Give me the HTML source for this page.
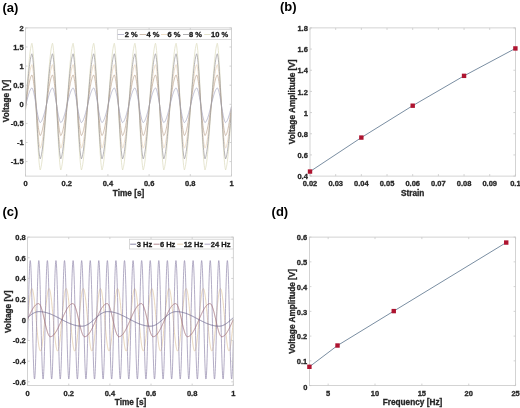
<!DOCTYPE html>
<html><head><meta charset="utf-8"><style>
html,body{margin:0;padding:0;background:#fff;}
body{width:520px;height:408px;overflow:hidden;}
svg{display:block;will-change:transform;}
text{font-family:"Liberation Sans",sans-serif;font-weight:bold;stroke:currentColor;stroke-width:0.3px;}
</style></head><body>
<svg width="520" height="408" viewBox="0 0 520 408">
<rect width="520" height="408" fill="#fff"/>
<path d="M25.5 110.34 L25.76 106.48 L26.02 102.61 L26.27 98.76 L26.53 94.94 L26.79 91.17 L27.05 87.45 L27.3 83.8 L27.56 80.23 L27.82 76.77 L28.07 73.41 L28.33 70.18 L28.59 67.08 L28.85 64.13 L29.11 61.33 L29.36 58.7 L29.62 56.24 L29.88 53.97 L30.13 51.89 L30.39 50 L30.65 48.32 L30.91 46.85 L31.16 45.59 L31.42 44.54 L31.68 43.71 L31.94 43.3 L32.2 44.4 L32.45 45.97 L32.71 48.02 L32.97 50.53 L33.23 53.48 L33.48 56.85 L33.74 60.62 L34 64.76 L34.26 69.23 L34.51 74.01 L34.77 79.05 L35.03 84.32 L35.28 89.77 L35.54 95.36 L35.8 101.03 L36.06 106.76 L36.31 112.48 L36.57 118.16 L36.83 123.74 L37.09 129.18 L37.34 134.43 L37.6 139.46 L37.86 144.22 L38.12 148.68 L38.38 152.8 L38.63 156.54 L38.89 159.89 L39.15 162.82 L39.41 165.3 L39.66 167.32 L39.92 168.86 L40.18 169.93 L40.44 169.43 L40.69 168.59 L40.95 167.53 L41.21 166.26 L41.47 164.77 L41.72 163.08 L41.98 161.18 L42.24 159.09 L42.5 156.8 L42.75 154.34 L43.01 151.69 L43.27 148.89 L43.52 145.93 L43.78 142.82 L44.04 139.58 L44.3 136.22 L44.55 132.75 L44.81 129.18 L45.07 125.52 L45.33 121.8 L45.59 118.02 L45.84 114.2 L46.1 110.34 L46.36 106.48 L46.61 102.61 L46.87 98.76 L47.13 94.94 L47.39 91.17 L47.64 87.45 L47.9 83.8 L48.16 80.23 L48.42 76.77 L48.67 73.41 L48.93 70.18 L49.19 67.08 L49.45 64.13 L49.7 61.33 L49.96 58.7 L50.22 56.24 L50.48 53.97 L50.73 51.89 L50.99 50 L51.25 48.32 L51.51 46.85 L51.77 45.59 L52.02 44.54 L52.28 43.71 L52.54 43.3 L52.8 44.4 L53.05 45.97 L53.31 48.02 L53.57 50.53 L53.83 53.48 L54.08 56.85 L54.34 60.62 L54.6 64.76 L54.85 69.23 L55.11 74.01 L55.37 79.05 L55.63 84.32 L55.88 89.77 L56.14 95.36 L56.4 101.03 L56.66 106.76 L56.91 112.48 L57.17 118.16 L57.43 123.74 L57.69 129.18 L57.95 134.43 L58.2 139.46 L58.46 144.22 L58.72 148.68 L58.98 152.8 L59.23 156.54 L59.49 159.89 L59.75 162.82 L60.01 165.3 L60.26 167.32 L60.52 168.86 L60.78 169.93 L61.03 169.43 L61.29 168.59 L61.55 167.53 L61.81 166.26 L62.06 164.77 L62.32 163.08 L62.58 161.18 L62.84 159.09 L63.09 156.8 L63.35 154.34 L63.61 151.69 L63.87 148.89 L64.12 145.93 L64.38 142.82 L64.64 139.58 L64.9 136.22 L65.16 132.75 L65.41 129.18 L65.67 125.52 L65.93 121.8 L66.19 118.02 L66.44 114.2 L66.7 110.34 L66.96 106.48 L67.22 102.61 L67.47 98.76 L67.73 94.94 L67.99 91.17 L68.25 87.45 L68.5 83.8 L68.76 80.23 L69.02 76.77 L69.28 73.41 L69.53 70.18 L69.79 67.08 L70.05 64.13 L70.31 61.33 L70.56 58.7 L70.82 56.24 L71.08 53.97 L71.34 51.89 L71.59 50 L71.85 48.32 L72.11 46.85 L72.37 45.59 L72.62 44.54 L72.88 43.71 L73.14 43.3 L73.4 44.4 L73.65 45.97 L73.91 48.02 L74.17 50.53 L74.42 53.48 L74.68 56.85 L74.94 60.62 L75.2 64.76 L75.45 69.23 L75.71 74.01 L75.97 79.05 L76.23 84.32 L76.48 89.77 L76.74 95.36 L77 101.03 L77.26 106.76 L77.52 112.48 L77.77 118.16 L78.03 123.74 L78.29 129.18 L78.55 134.43 L78.8 139.46 L79.06 144.22 L79.32 148.68 L79.58 152.8 L79.83 156.54 L80.09 159.89 L80.35 162.82 L80.61 165.3 L80.86 167.32 L81.12 168.86 L81.38 169.93 L81.64 169.43 L81.89 168.59 L82.15 167.53 L82.41 166.26 L82.67 164.77 L82.92 163.08 L83.18 161.18 L83.44 159.09 L83.69 156.8 L83.95 154.34 L84.21 151.69 L84.47 148.89 L84.72 145.93 L84.98 142.82 L85.24 139.58 L85.5 136.22 L85.75 132.75 L86.01 129.18 L86.27 125.52 L86.53 121.8 L86.78 118.02 L87.04 114.2 L87.3 110.34 L87.56 106.48 L87.81 102.61 L88.07 98.76 L88.33 94.94 L88.59 91.17 L88.84 87.45 L89.1 83.8 L89.36 80.23 L89.62 76.77 L89.88 73.41 L90.13 70.18 L90.39 67.08 L90.65 64.13 L90.91 61.33 L91.16 58.7 L91.42 56.24 L91.68 53.97 L91.94 51.89 L92.19 50 L92.45 48.32 L92.71 46.85 L92.97 45.59 L93.22 44.54 L93.48 43.71 L93.74 43.3 L94 44.4 L94.25 45.97 L94.51 48.02 L94.77 50.53 L95.03 53.48 L95.28 56.85 L95.54 60.62 L95.8 64.76 L96.06 69.23 L96.31 74.01 L96.57 79.05 L96.83 84.32 L97.08 89.77 L97.34 95.36 L97.6 101.03 L97.86 106.76 L98.11 112.48 L98.37 118.16 L98.63 123.74 L98.89 129.18 L99.14 134.43 L99.4 139.46 L99.66 144.22 L99.92 148.68 L100.17 152.8 L100.43 156.54 L100.69 159.89 L100.95 162.82 L101.2 165.3 L101.46 167.32 L101.72 168.86 L101.98 169.93 L102.23 169.43 L102.49 168.59 L102.75 167.53 L103.01 166.26 L103.27 164.77 L103.52 163.08 L103.78 161.18 L104.04 159.09 L104.3 156.8 L104.55 154.34 L104.81 151.69 L105.07 148.89 L105.33 145.93 L105.58 142.82 L105.84 139.58 L106.1 136.22 L106.36 132.75 L106.61 129.18 L106.87 125.52 L107.13 121.8 L107.39 118.02 L107.64 114.2 L107.9 110.34 L108.16 106.48 L108.42 102.61 L108.67 98.76 L108.93 94.94 L109.19 91.17 L109.44 87.45 L109.7 83.8 L109.96 80.23 L110.22 76.77 L110.47 73.41 L110.73 70.18 L110.99 67.08 L111.25 64.13 L111.5 61.33 L111.76 58.7 L112.02 56.24 L112.28 53.97 L112.53 51.89 L112.79 50 L113.05 48.32 L113.31 46.85 L113.56 45.59 L113.82 44.54 L114.08 43.71 L114.34 43.3 L114.59 44.4 L114.85 45.97 L115.11 48.02 L115.37 50.53 L115.62 53.48 L115.88 56.85 L116.14 60.62 L116.4 64.76 L116.66 69.23 L116.91 74.01 L117.17 79.05 L117.43 84.32 L117.69 89.77 L117.94 95.36 L118.2 101.03 L118.46 106.76 L118.72 112.48 L118.97 118.16 L119.23 123.74 L119.49 129.18 L119.75 134.43 L120 139.46 L120.26 144.22 L120.52 148.68 L120.78 152.8 L121.03 156.54 L121.29 159.89 L121.55 162.82 L121.81 165.3 L122.06 167.32 L122.32 168.86 L122.58 169.93 L122.83 169.43 L123.09 168.59 L123.35 167.53 L123.61 166.26 L123.86 164.77 L124.12 163.08 L124.38 161.18 L124.64 159.09 L124.89 156.8 L125.15 154.34 L125.41 151.69 L125.67 148.89 L125.92 145.93 L126.18 142.82 L126.44 139.58 L126.7 136.22 L126.95 132.75 L127.21 129.18 L127.47 125.52 L127.73 121.8 L127.98 118.02 L128.24 114.2 L128.5 110.34 L128.76 106.48 L129.01 102.61 L129.27 98.76 L129.53 94.94 L129.79 91.17 L130.04 87.45 L130.3 83.8 L130.56 80.23 L130.82 76.77 L131.07 73.41 L131.33 70.18 L131.59 67.08 L131.85 64.13 L132.1 61.33 L132.36 58.7 L132.62 56.24 L132.88 53.97 L133.13 51.89 L133.39 50 L133.65 48.32 L133.91 46.85 L134.16 45.59 L134.42 44.54 L134.68 43.71 L134.94 43.3 L135.19 44.4 L135.45 45.97 L135.71 48.02 L135.97 50.53 L136.22 53.48 L136.48 56.85 L136.74 60.62 L137 64.76 L137.25 69.23 L137.51 74.01 L137.77 79.05 L138.03 84.32 L138.28 89.77 L138.54 95.36 L138.8 101.03 L139.06 106.76 L139.31 112.48 L139.57 118.16 L139.83 123.74 L140.09 129.18 L140.34 134.43 L140.6 139.46 L140.86 144.22 L141.12 148.68 L141.38 152.8 L141.63 156.54 L141.89 159.89 L142.15 162.82 L142.41 165.3 L142.66 167.32 L142.92 168.86 L143.18 169.93 L143.44 169.43 L143.69 168.59 L143.95 167.53 L144.21 166.26 L144.47 164.77 L144.72 163.08 L144.98 161.18 L145.24 159.09 L145.5 156.8 L145.75 154.34 L146.01 151.69 L146.27 148.89 L146.53 145.93 L146.78 142.82 L147.04 139.58 L147.3 136.22 L147.56 132.75 L147.81 129.18 L148.07 125.52 L148.33 121.8 L148.59 118.02 L148.84 114.2 L149.1 110.34 L149.36 106.48 L149.62 102.61 L149.87 98.76 L150.13 94.94 L150.39 91.17 L150.65 87.45 L150.9 83.8 L151.16 80.23 L151.42 76.77 L151.68 73.41 L151.93 70.18 L152.19 67.08 L152.45 64.13 L152.71 61.33 L152.96 58.7 L153.22 56.24 L153.48 53.97 L153.74 51.89 L153.99 50 L154.25 48.32 L154.51 46.85 L154.76 45.59 L155.02 44.54 L155.28 43.71 L155.54 43.3 L155.79 44.4 L156.05 45.97 L156.31 48.02 L156.57 50.53 L156.82 53.48 L157.08 56.85 L157.34 60.62 L157.6 64.76 L157.85 69.23 L158.11 74.01 L158.37 79.05 L158.63 84.32 L158.88 89.77 L159.14 95.36 L159.4 101.03 L159.66 106.76 L159.91 112.48 L160.17 118.16 L160.43 123.74 L160.69 129.18 L160.94 134.43 L161.2 139.46 L161.46 144.22 L161.72 148.68 L161.97 152.8 L162.23 156.54 L162.49 159.89 L162.75 162.82 L163 165.3 L163.26 167.32 L163.52 168.86 L163.78 169.93 L164.03 169.43 L164.29 168.59 L164.55 167.53 L164.81 166.26 L165.06 164.77 L165.32 163.08 L165.58 161.18 L165.84 159.09 L166.09 156.8 L166.35 154.34 L166.61 151.69 L166.87 148.89 L167.12 145.93 L167.38 142.82 L167.64 139.58 L167.9 136.22 L168.16 132.75 L168.41 129.18 L168.67 125.52 L168.93 121.8 L169.19 118.02 L169.44 114.2 L169.7 110.34 L169.96 106.48 L170.22 102.61 L170.47 98.76 L170.73 94.94 L170.99 91.17 L171.25 87.45 L171.5 83.8 L171.76 80.23 L172.02 76.77 L172.28 73.41 L172.53 70.18 L172.79 67.08 L173.05 64.13 L173.31 61.33 L173.56 58.7 L173.82 56.24 L174.08 53.97 L174.34 51.89 L174.59 50 L174.85 48.32 L175.11 46.85 L175.37 45.59 L175.62 44.54 L175.88 43.71 L176.14 43.3 L176.4 44.4 L176.65 45.97 L176.91 48.02 L177.17 50.53 L177.43 53.48 L177.68 56.85 L177.94 60.62 L178.2 64.76 L178.46 69.23 L178.71 74.01 L178.97 79.05 L179.23 84.32 L179.49 89.77 L179.74 95.36 L180 101.03 L180.26 106.76 L180.51 112.48 L180.77 118.16 L181.03 123.74 L181.29 129.18 L181.54 134.43 L181.8 139.46 L182.06 144.22 L182.32 148.68 L182.57 152.8 L182.83 156.54 L183.09 159.89 L183.35 162.82 L183.6 165.3 L183.86 167.32 L184.12 168.86 L184.38 169.93 L184.63 169.43 L184.89 168.59 L185.15 167.53 L185.41 166.26 L185.66 164.77 L185.92 163.08 L186.18 161.18 L186.44 159.09 L186.69 156.8 L186.95 154.34 L187.21 151.69 L187.47 148.89 L187.72 145.93 L187.98 142.82 L188.24 139.58 L188.5 136.22 L188.75 132.75 L189.01 129.18 L189.27 125.52 L189.53 121.8 L189.78 118.02 L190.04 114.2 L190.3 110.34 L190.56 106.48 L190.81 102.61 L191.07 98.76 L191.33 94.94 L191.59 91.17 L191.84 87.45 L192.1 83.8 L192.36 80.23 L192.62 76.77 L192.88 73.41 L193.13 70.18 L193.39 67.08 L193.65 64.13 L193.91 61.33 L194.16 58.7 L194.42 56.24 L194.68 53.97 L194.94 51.89 L195.19 50 L195.45 48.32 L195.71 46.85 L195.97 45.59 L196.22 44.54 L196.48 43.71 L196.74 43.3 L197 44.4 L197.25 45.97 L197.51 48.02 L197.77 50.53 L198.03 53.48 L198.28 56.85 L198.54 60.62 L198.8 64.76 L199.06 69.23 L199.31 74.01 L199.57 79.05 L199.83 84.32 L200.09 89.77 L200.34 95.36 L200.6 101.03 L200.86 106.76 L201.12 112.48 L201.37 118.16 L201.63 123.74 L201.89 129.18 L202.15 134.43 L202.4 139.46 L202.66 144.22 L202.92 148.68 L203.18 152.8 L203.43 156.54 L203.69 159.89 L203.95 162.82 L204.21 165.3 L204.46 167.32 L204.72 168.86 L204.98 169.93 L205.24 169.43 L205.49 168.59 L205.75 167.53 L206.01 166.26 L206.26 164.77 L206.52 163.08 L206.78 161.18 L207.04 159.09 L207.29 156.8 L207.55 154.34 L207.81 151.69 L208.07 148.89 L208.32 145.93 L208.58 142.82 L208.84 139.58 L209.1 136.22 L209.35 132.75 L209.61 129.18 L209.87 125.52 L210.13 121.8 L210.38 118.02 L210.64 114.2 L210.9 110.34 L211.16 106.48 L211.41 102.61 L211.67 98.76 L211.93 94.94 L212.19 91.17 L212.44 87.45 L212.7 83.8 L212.96 80.23 L213.22 76.77 L213.47 73.41 L213.73 70.18 L213.99 67.08 L214.25 64.13 L214.5 61.33 L214.76 58.7 L215.02 56.24 L215.28 53.97 L215.53 51.89 L215.79 50 L216.05 48.32 L216.31 46.85 L216.56 45.59 L216.82 44.54 L217.08 43.71 L217.34 43.3 L217.59 44.4 L217.85 45.97 L218.11 48.02 L218.37 50.53 L218.62 53.48 L218.88 56.85 L219.14 60.62 L219.4 64.76 L219.66 69.23 L219.91 74.01 L220.17 79.05 L220.43 84.32 L220.69 89.77 L220.94 95.36 L221.2 101.03 L221.46 106.76 L221.72 112.48 L221.97 118.16 L222.23 123.74 L222.49 129.18 L222.75 134.43 L223 139.46 L223.26 144.22 L223.52 148.68 L223.78 152.8 L224.03 156.54 L224.29 159.89 L224.55 162.82 L224.81 165.3 L225.06 167.32 L225.32 168.86 L225.58 169.93 L225.84 169.43 L226.09 168.59 L226.35 167.53 L226.61 166.26 L226.87 164.77 L227.12 163.08 L227.38 161.18 L227.64 159.09 L227.9 156.8 L228.15 154.34 L228.41 151.69 L228.67 148.89 L228.93 145.93 L229.18 142.82 L229.44 139.58 L229.7 136.22 L229.96 132.75 L230.21 129.18 L230.47 125.52 L230.73 121.8 L230.99 118.02 L231.24 114.2 L231.5 110.34" stroke="#dddcc0" stroke-width="0.75" fill="none" stroke-linejoin="round" opacity="1.0"/>
<path d="M25.5 108.88 L25.76 106.33 L26.02 103.78 L26.27 101.24 L26.53 98.72 L26.79 96.23 L27.05 93.77 L27.3 91.36 L27.56 89.01 L27.82 86.73 L28.07 84.51 L28.33 82.38 L28.59 80.34 L28.85 78.39 L29.11 76.54 L29.36 74.81 L29.62 73.19 L29.88 71.69 L30.13 70.32 L30.39 69.07 L30.65 67.96 L30.91 66.99 L31.16 66.16 L31.42 65.47 L31.68 64.92 L31.94 64.65 L32.2 65.38 L32.45 66.41 L32.71 67.77 L32.97 69.42 L33.23 71.36 L33.48 73.59 L33.74 76.07 L34 78.8 L34.26 81.76 L34.51 84.91 L34.77 88.24 L35.03 91.71 L35.28 95.3 L35.54 98.99 L35.8 102.74 L36.06 106.51 L36.31 110.29 L36.57 114.03 L36.83 117.71 L37.09 121.3 L37.34 124.77 L37.6 128.08 L37.86 131.22 L38.12 134.16 L38.38 136.88 L38.63 139.35 L38.89 141.56 L39.15 143.49 L39.41 145.12 L39.66 146.46 L39.92 147.48 L40.18 148.18 L40.44 147.85 L40.69 147.3 L40.95 146.6 L41.21 145.76 L41.47 144.78 L41.72 143.66 L41.98 142.41 L42.24 141.03 L42.5 139.52 L42.75 137.89 L43.01 136.15 L43.27 134.3 L43.52 132.35 L43.78 130.3 L44.04 128.16 L44.3 125.94 L44.55 123.65 L44.81 121.3 L45.07 118.89 L45.33 116.43 L45.59 113.94 L45.84 111.42 L46.1 108.88 L46.36 106.33 L46.61 103.78 L46.87 101.24 L47.13 98.72 L47.39 96.23 L47.64 93.77 L47.9 91.36 L48.16 89.01 L48.42 86.73 L48.67 84.51 L48.93 82.38 L49.19 80.34 L49.45 78.39 L49.7 76.54 L49.96 74.81 L50.22 73.19 L50.48 71.69 L50.73 70.32 L50.99 69.07 L51.25 67.96 L51.51 66.99 L51.77 66.16 L52.02 65.47 L52.28 64.92 L52.54 64.65 L52.8 65.38 L53.05 66.41 L53.31 67.77 L53.57 69.42 L53.83 71.36 L54.08 73.59 L54.34 76.07 L54.6 78.8 L54.85 81.76 L55.11 84.91 L55.37 88.24 L55.63 91.71 L55.88 95.3 L56.14 98.99 L56.4 102.74 L56.66 106.51 L56.91 110.29 L57.17 114.03 L57.43 117.71 L57.69 121.3 L57.95 124.77 L58.2 128.08 L58.46 131.22 L58.72 134.16 L58.98 136.88 L59.23 139.35 L59.49 141.56 L59.75 143.49 L60.01 145.12 L60.26 146.46 L60.52 147.48 L60.78 148.18 L61.03 147.85 L61.29 147.3 L61.55 146.6 L61.81 145.76 L62.06 144.78 L62.32 143.66 L62.58 142.41 L62.84 141.03 L63.09 139.52 L63.35 137.89 L63.61 136.15 L63.87 134.3 L64.12 132.35 L64.38 130.3 L64.64 128.16 L64.9 125.94 L65.16 123.65 L65.41 121.3 L65.67 118.89 L65.93 116.43 L66.19 113.94 L66.44 111.42 L66.7 108.88 L66.96 106.33 L67.22 103.78 L67.47 101.24 L67.73 98.72 L67.99 96.23 L68.25 93.77 L68.5 91.36 L68.76 89.01 L69.02 86.73 L69.28 84.51 L69.53 82.38 L69.79 80.34 L70.05 78.39 L70.31 76.54 L70.56 74.81 L70.82 73.19 L71.08 71.69 L71.34 70.32 L71.59 69.07 L71.85 67.96 L72.11 66.99 L72.37 66.16 L72.62 65.47 L72.88 64.92 L73.14 64.65 L73.4 65.38 L73.65 66.41 L73.91 67.77 L74.17 69.42 L74.42 71.36 L74.68 73.59 L74.94 76.07 L75.2 78.8 L75.45 81.76 L75.71 84.91 L75.97 88.24 L76.23 91.71 L76.48 95.3 L76.74 98.99 L77 102.74 L77.26 106.51 L77.52 110.29 L77.77 114.03 L78.03 117.71 L78.29 121.3 L78.55 124.77 L78.8 128.08 L79.06 131.22 L79.32 134.16 L79.58 136.88 L79.83 139.35 L80.09 141.56 L80.35 143.49 L80.61 145.12 L80.86 146.46 L81.12 147.48 L81.38 148.18 L81.64 147.85 L81.89 147.3 L82.15 146.6 L82.41 145.76 L82.67 144.78 L82.92 143.66 L83.18 142.41 L83.44 141.03 L83.69 139.52 L83.95 137.89 L84.21 136.15 L84.47 134.3 L84.72 132.35 L84.98 130.3 L85.24 128.16 L85.5 125.94 L85.75 123.65 L86.01 121.3 L86.27 118.89 L86.53 116.43 L86.78 113.94 L87.04 111.42 L87.3 108.88 L87.56 106.33 L87.81 103.78 L88.07 101.24 L88.33 98.72 L88.59 96.23 L88.84 93.77 L89.1 91.36 L89.36 89.01 L89.62 86.73 L89.88 84.51 L90.13 82.38 L90.39 80.34 L90.65 78.39 L90.91 76.54 L91.16 74.81 L91.42 73.19 L91.68 71.69 L91.94 70.32 L92.19 69.07 L92.45 67.96 L92.71 66.99 L92.97 66.16 L93.22 65.47 L93.48 64.92 L93.74 64.65 L94 65.38 L94.25 66.41 L94.51 67.77 L94.77 69.42 L95.03 71.36 L95.28 73.59 L95.54 76.07 L95.8 78.8 L96.06 81.76 L96.31 84.91 L96.57 88.24 L96.83 91.71 L97.08 95.3 L97.34 98.99 L97.6 102.74 L97.86 106.51 L98.11 110.29 L98.37 114.03 L98.63 117.71 L98.89 121.3 L99.14 124.77 L99.4 128.08 L99.66 131.22 L99.92 134.16 L100.17 136.88 L100.43 139.35 L100.69 141.56 L100.95 143.49 L101.2 145.12 L101.46 146.46 L101.72 147.48 L101.98 148.18 L102.23 147.85 L102.49 147.3 L102.75 146.6 L103.01 145.76 L103.27 144.78 L103.52 143.66 L103.78 142.41 L104.04 141.03 L104.3 139.52 L104.55 137.89 L104.81 136.15 L105.07 134.3 L105.33 132.35 L105.58 130.3 L105.84 128.16 L106.1 125.94 L106.36 123.65 L106.61 121.3 L106.87 118.89 L107.13 116.43 L107.39 113.94 L107.64 111.42 L107.9 108.88 L108.16 106.33 L108.42 103.78 L108.67 101.24 L108.93 98.72 L109.19 96.23 L109.44 93.77 L109.7 91.36 L109.96 89.01 L110.22 86.73 L110.47 84.51 L110.73 82.38 L110.99 80.34 L111.25 78.39 L111.5 76.54 L111.76 74.81 L112.02 73.19 L112.28 71.69 L112.53 70.32 L112.79 69.07 L113.05 67.96 L113.31 66.99 L113.56 66.16 L113.82 65.47 L114.08 64.92 L114.34 64.65 L114.59 65.38 L114.85 66.41 L115.11 67.77 L115.37 69.42 L115.62 71.36 L115.88 73.59 L116.14 76.07 L116.4 78.8 L116.66 81.76 L116.91 84.91 L117.17 88.24 L117.43 91.71 L117.69 95.3 L117.94 98.99 L118.2 102.74 L118.46 106.51 L118.72 110.29 L118.97 114.03 L119.23 117.71 L119.49 121.3 L119.75 124.77 L120 128.08 L120.26 131.22 L120.52 134.16 L120.78 136.88 L121.03 139.35 L121.29 141.56 L121.55 143.49 L121.81 145.12 L122.06 146.46 L122.32 147.48 L122.58 148.18 L122.83 147.85 L123.09 147.3 L123.35 146.6 L123.61 145.76 L123.86 144.78 L124.12 143.66 L124.38 142.41 L124.64 141.03 L124.89 139.52 L125.15 137.89 L125.41 136.15 L125.67 134.3 L125.92 132.35 L126.18 130.3 L126.44 128.16 L126.7 125.94 L126.95 123.65 L127.21 121.3 L127.47 118.89 L127.73 116.43 L127.98 113.94 L128.24 111.42 L128.5 108.88 L128.76 106.33 L129.01 103.78 L129.27 101.24 L129.53 98.72 L129.79 96.23 L130.04 93.77 L130.3 91.36 L130.56 89.01 L130.82 86.73 L131.07 84.51 L131.33 82.38 L131.59 80.34 L131.85 78.39 L132.1 76.54 L132.36 74.81 L132.62 73.19 L132.88 71.69 L133.13 70.32 L133.39 69.07 L133.65 67.96 L133.91 66.99 L134.16 66.16 L134.42 65.47 L134.68 64.92 L134.94 64.65 L135.19 65.38 L135.45 66.41 L135.71 67.77 L135.97 69.42 L136.22 71.36 L136.48 73.59 L136.74 76.07 L137 78.8 L137.25 81.76 L137.51 84.91 L137.77 88.24 L138.03 91.71 L138.28 95.3 L138.54 98.99 L138.8 102.74 L139.06 106.51 L139.31 110.29 L139.57 114.03 L139.83 117.71 L140.09 121.3 L140.34 124.77 L140.6 128.08 L140.86 131.22 L141.12 134.16 L141.38 136.88 L141.63 139.35 L141.89 141.56 L142.15 143.49 L142.41 145.12 L142.66 146.46 L142.92 147.48 L143.18 148.18 L143.44 147.85 L143.69 147.3 L143.95 146.6 L144.21 145.76 L144.47 144.78 L144.72 143.66 L144.98 142.41 L145.24 141.03 L145.5 139.52 L145.75 137.89 L146.01 136.15 L146.27 134.3 L146.53 132.35 L146.78 130.3 L147.04 128.16 L147.3 125.94 L147.56 123.65 L147.81 121.3 L148.07 118.89 L148.33 116.43 L148.59 113.94 L148.84 111.42 L149.1 108.88 L149.36 106.33 L149.62 103.78 L149.87 101.24 L150.13 98.72 L150.39 96.23 L150.65 93.77 L150.9 91.36 L151.16 89.01 L151.42 86.73 L151.68 84.51 L151.93 82.38 L152.19 80.34 L152.45 78.39 L152.71 76.54 L152.96 74.81 L153.22 73.19 L153.48 71.69 L153.74 70.32 L153.99 69.07 L154.25 67.96 L154.51 66.99 L154.76 66.16 L155.02 65.47 L155.28 64.92 L155.54 64.65 L155.79 65.38 L156.05 66.41 L156.31 67.77 L156.57 69.42 L156.82 71.36 L157.08 73.59 L157.34 76.07 L157.6 78.8 L157.85 81.76 L158.11 84.91 L158.37 88.24 L158.63 91.71 L158.88 95.3 L159.14 98.99 L159.4 102.74 L159.66 106.51 L159.91 110.29 L160.17 114.03 L160.43 117.71 L160.69 121.3 L160.94 124.77 L161.2 128.08 L161.46 131.22 L161.72 134.16 L161.97 136.88 L162.23 139.35 L162.49 141.56 L162.75 143.49 L163 145.12 L163.26 146.46 L163.52 147.48 L163.78 148.18 L164.03 147.85 L164.29 147.3 L164.55 146.6 L164.81 145.76 L165.06 144.78 L165.32 143.66 L165.58 142.41 L165.84 141.03 L166.09 139.52 L166.35 137.89 L166.61 136.15 L166.87 134.3 L167.12 132.35 L167.38 130.3 L167.64 128.16 L167.9 125.94 L168.16 123.65 L168.41 121.3 L168.67 118.89 L168.93 116.43 L169.19 113.94 L169.44 111.42 L169.7 108.88 L169.96 106.33 L170.22 103.78 L170.47 101.24 L170.73 98.72 L170.99 96.23 L171.25 93.77 L171.5 91.36 L171.76 89.01 L172.02 86.73 L172.28 84.51 L172.53 82.38 L172.79 80.34 L173.05 78.39 L173.31 76.54 L173.56 74.81 L173.82 73.19 L174.08 71.69 L174.34 70.32 L174.59 69.07 L174.85 67.96 L175.11 66.99 L175.37 66.16 L175.62 65.47 L175.88 64.92 L176.14 64.65 L176.4 65.38 L176.65 66.41 L176.91 67.77 L177.17 69.42 L177.43 71.36 L177.68 73.59 L177.94 76.07 L178.2 78.8 L178.46 81.76 L178.71 84.91 L178.97 88.24 L179.23 91.71 L179.49 95.3 L179.74 98.99 L180 102.74 L180.26 106.51 L180.51 110.29 L180.77 114.03 L181.03 117.71 L181.29 121.3 L181.54 124.77 L181.8 128.08 L182.06 131.22 L182.32 134.16 L182.57 136.88 L182.83 139.35 L183.09 141.56 L183.35 143.49 L183.6 145.12 L183.86 146.46 L184.12 147.48 L184.38 148.18 L184.63 147.85 L184.89 147.3 L185.15 146.6 L185.41 145.76 L185.66 144.78 L185.92 143.66 L186.18 142.41 L186.44 141.03 L186.69 139.52 L186.95 137.89 L187.21 136.15 L187.47 134.3 L187.72 132.35 L187.98 130.3 L188.24 128.16 L188.5 125.94 L188.75 123.65 L189.01 121.3 L189.27 118.89 L189.53 116.43 L189.78 113.94 L190.04 111.42 L190.3 108.88 L190.56 106.33 L190.81 103.78 L191.07 101.24 L191.33 98.72 L191.59 96.23 L191.84 93.77 L192.1 91.36 L192.36 89.01 L192.62 86.73 L192.88 84.51 L193.13 82.38 L193.39 80.34 L193.65 78.39 L193.91 76.54 L194.16 74.81 L194.42 73.19 L194.68 71.69 L194.94 70.32 L195.19 69.07 L195.45 67.96 L195.71 66.99 L195.97 66.16 L196.22 65.47 L196.48 64.92 L196.74 64.65 L197 65.38 L197.25 66.41 L197.51 67.77 L197.77 69.42 L198.03 71.36 L198.28 73.59 L198.54 76.07 L198.8 78.8 L199.06 81.76 L199.31 84.91 L199.57 88.24 L199.83 91.71 L200.09 95.3 L200.34 98.99 L200.6 102.74 L200.86 106.51 L201.12 110.29 L201.37 114.03 L201.63 117.71 L201.89 121.3 L202.15 124.77 L202.4 128.08 L202.66 131.22 L202.92 134.16 L203.18 136.88 L203.43 139.35 L203.69 141.56 L203.95 143.49 L204.21 145.12 L204.46 146.46 L204.72 147.48 L204.98 148.18 L205.24 147.85 L205.49 147.3 L205.75 146.6 L206.01 145.76 L206.26 144.78 L206.52 143.66 L206.78 142.41 L207.04 141.03 L207.29 139.52 L207.55 137.89 L207.81 136.15 L208.07 134.3 L208.32 132.35 L208.58 130.3 L208.84 128.16 L209.1 125.94 L209.35 123.65 L209.61 121.3 L209.87 118.89 L210.13 116.43 L210.38 113.94 L210.64 111.42 L210.9 108.88 L211.16 106.33 L211.41 103.78 L211.67 101.24 L211.93 98.72 L212.19 96.23 L212.44 93.77 L212.7 91.36 L212.96 89.01 L213.22 86.73 L213.47 84.51 L213.73 82.38 L213.99 80.34 L214.25 78.39 L214.5 76.54 L214.76 74.81 L215.02 73.19 L215.28 71.69 L215.53 70.32 L215.79 69.07 L216.05 67.96 L216.31 66.99 L216.56 66.16 L216.82 65.47 L217.08 64.92 L217.34 64.65 L217.59 65.38 L217.85 66.41 L218.11 67.77 L218.37 69.42 L218.62 71.36 L218.88 73.59 L219.14 76.07 L219.4 78.8 L219.66 81.76 L219.91 84.91 L220.17 88.24 L220.43 91.71 L220.69 95.3 L220.94 98.99 L221.2 102.74 L221.46 106.51 L221.72 110.29 L221.97 114.03 L222.23 117.71 L222.49 121.3 L222.75 124.77 L223 128.08 L223.26 131.22 L223.52 134.16 L223.78 136.88 L224.03 139.35 L224.29 141.56 L224.55 143.49 L224.81 145.12 L225.06 146.46 L225.32 147.48 L225.58 148.18 L225.84 147.85 L226.09 147.3 L226.35 146.6 L226.61 145.76 L226.87 144.78 L227.12 143.66 L227.38 142.41 L227.64 141.03 L227.9 139.52 L228.15 137.89 L228.41 136.15 L228.67 134.3 L228.93 132.35 L229.18 130.3 L229.44 128.16 L229.7 125.94 L229.96 123.65 L230.21 121.3 L230.47 118.89 L230.73 116.43 L230.99 113.94 L231.24 111.42 L231.5 108.88" stroke="#e8d4b8" stroke-width="0.75" fill="none" stroke-linejoin="round" opacity="1.0"/>
<path d="M25.5 107.05 L25.76 105.2 L26.02 103.35 L26.27 101.51 L26.53 99.68 L26.79 97.87 L27.05 96.09 L27.3 94.34 L27.56 92.63 L27.82 90.97 L28.07 89.36 L28.33 87.82 L28.59 86.33 L28.85 84.92 L29.11 83.58 L29.36 82.32 L29.62 81.14 L29.88 80.05 L30.13 79.06 L30.39 78.15 L30.65 77.35 L30.91 76.64 L31.16 76.04 L31.42 75.54 L31.68 75.14 L31.94 74.94 L32.2 75.47 L32.45 76.22 L32.71 77.2 L32.97 78.4 L33.23 79.82 L33.48 81.43 L33.74 83.24 L34 85.22 L34.26 87.36 L34.51 89.65 L34.77 92.07 L35.03 94.59 L35.28 97.2 L35.54 99.87 L35.8 102.59 L36.06 105.33 L36.31 108.08 L36.57 110.79 L36.83 113.47 L37.09 116.07 L37.34 118.59 L37.6 121 L37.86 123.28 L38.12 125.41 L38.38 127.38 L38.63 129.18 L38.89 130.78 L39.15 132.18 L39.41 133.37 L39.66 134.34 L39.92 135.08 L40.18 135.59 L40.44 135.35 L40.69 134.95 L40.95 134.44 L41.21 133.83 L41.47 133.12 L41.72 132.31 L41.98 131.4 L42.24 130.4 L42.5 129.3 L42.75 128.12 L43.01 126.86 L43.27 125.51 L43.52 124.09 L43.78 122.61 L44.04 121.05 L44.3 119.44 L44.55 117.78 L44.81 116.07 L45.07 114.32 L45.33 112.54 L45.59 110.73 L45.84 108.9 L46.1 107.05 L46.36 105.2 L46.61 103.35 L46.87 101.51 L47.13 99.68 L47.39 97.87 L47.64 96.09 L47.9 94.34 L48.16 92.63 L48.42 90.97 L48.67 89.36 L48.93 87.82 L49.19 86.33 L49.45 84.92 L49.7 83.58 L49.96 82.32 L50.22 81.14 L50.48 80.05 L50.73 79.06 L50.99 78.15 L51.25 77.35 L51.51 76.64 L51.77 76.04 L52.02 75.54 L52.28 75.14 L52.54 74.94 L52.8 75.47 L53.05 76.22 L53.31 77.2 L53.57 78.4 L53.83 79.82 L54.08 81.43 L54.34 83.24 L54.6 85.22 L54.85 87.36 L55.11 89.65 L55.37 92.07 L55.63 94.59 L55.88 97.2 L56.14 99.87 L56.4 102.59 L56.66 105.33 L56.91 108.08 L57.17 110.79 L57.43 113.47 L57.69 116.07 L57.95 118.59 L58.2 121 L58.46 123.28 L58.72 125.41 L58.98 127.38 L59.23 129.18 L59.49 130.78 L59.75 132.18 L60.01 133.37 L60.26 134.34 L60.52 135.08 L60.78 135.59 L61.03 135.35 L61.29 134.95 L61.55 134.44 L61.81 133.83 L62.06 133.12 L62.32 132.31 L62.58 131.4 L62.84 130.4 L63.09 129.3 L63.35 128.12 L63.61 126.86 L63.87 125.51 L64.12 124.09 L64.38 122.61 L64.64 121.05 L64.9 119.44 L65.16 117.78 L65.41 116.07 L65.67 114.32 L65.93 112.54 L66.19 110.73 L66.44 108.9 L66.7 107.05 L66.96 105.2 L67.22 103.35 L67.47 101.51 L67.73 99.68 L67.99 97.87 L68.25 96.09 L68.5 94.34 L68.76 92.63 L69.02 90.97 L69.28 89.36 L69.53 87.82 L69.79 86.33 L70.05 84.92 L70.31 83.58 L70.56 82.32 L70.82 81.14 L71.08 80.05 L71.34 79.06 L71.59 78.15 L71.85 77.35 L72.11 76.64 L72.37 76.04 L72.62 75.54 L72.88 75.14 L73.14 74.94 L73.4 75.47 L73.65 76.22 L73.91 77.2 L74.17 78.4 L74.42 79.82 L74.68 81.43 L74.94 83.24 L75.2 85.22 L75.45 87.36 L75.71 89.65 L75.97 92.07 L76.23 94.59 L76.48 97.2 L76.74 99.87 L77 102.59 L77.26 105.33 L77.52 108.08 L77.77 110.79 L78.03 113.47 L78.29 116.07 L78.55 118.59 L78.8 121 L79.06 123.28 L79.32 125.41 L79.58 127.38 L79.83 129.18 L80.09 130.78 L80.35 132.18 L80.61 133.37 L80.86 134.34 L81.12 135.08 L81.38 135.59 L81.64 135.35 L81.89 134.95 L82.15 134.44 L82.41 133.83 L82.67 133.12 L82.92 132.31 L83.18 131.4 L83.44 130.4 L83.69 129.3 L83.95 128.12 L84.21 126.86 L84.47 125.51 L84.72 124.09 L84.98 122.61 L85.24 121.05 L85.5 119.44 L85.75 117.78 L86.01 116.07 L86.27 114.32 L86.53 112.54 L86.78 110.73 L87.04 108.9 L87.3 107.05 L87.56 105.2 L87.81 103.35 L88.07 101.51 L88.33 99.68 L88.59 97.87 L88.84 96.09 L89.1 94.34 L89.36 92.63 L89.62 90.97 L89.88 89.36 L90.13 87.82 L90.39 86.33 L90.65 84.92 L90.91 83.58 L91.16 82.32 L91.42 81.14 L91.68 80.05 L91.94 79.06 L92.19 78.15 L92.45 77.35 L92.71 76.64 L92.97 76.04 L93.22 75.54 L93.48 75.14 L93.74 74.94 L94 75.47 L94.25 76.22 L94.51 77.2 L94.77 78.4 L95.03 79.82 L95.28 81.43 L95.54 83.24 L95.8 85.22 L96.06 87.36 L96.31 89.65 L96.57 92.07 L96.83 94.59 L97.08 97.2 L97.34 99.87 L97.6 102.59 L97.86 105.33 L98.11 108.08 L98.37 110.79 L98.63 113.47 L98.89 116.07 L99.14 118.59 L99.4 121 L99.66 123.28 L99.92 125.41 L100.17 127.38 L100.43 129.18 L100.69 130.78 L100.95 132.18 L101.2 133.37 L101.46 134.34 L101.72 135.08 L101.98 135.59 L102.23 135.35 L102.49 134.95 L102.75 134.44 L103.01 133.83 L103.27 133.12 L103.52 132.31 L103.78 131.4 L104.04 130.4 L104.3 129.3 L104.55 128.12 L104.81 126.86 L105.07 125.51 L105.33 124.09 L105.58 122.61 L105.84 121.05 L106.1 119.44 L106.36 117.78 L106.61 116.07 L106.87 114.32 L107.13 112.54 L107.39 110.73 L107.64 108.9 L107.9 107.05 L108.16 105.2 L108.42 103.35 L108.67 101.51 L108.93 99.68 L109.19 97.87 L109.44 96.09 L109.7 94.34 L109.96 92.63 L110.22 90.97 L110.47 89.36 L110.73 87.82 L110.99 86.33 L111.25 84.92 L111.5 83.58 L111.76 82.32 L112.02 81.14 L112.28 80.05 L112.53 79.06 L112.79 78.15 L113.05 77.35 L113.31 76.64 L113.56 76.04 L113.82 75.54 L114.08 75.14 L114.34 74.94 L114.59 75.47 L114.85 76.22 L115.11 77.2 L115.37 78.4 L115.62 79.82 L115.88 81.43 L116.14 83.24 L116.4 85.22 L116.66 87.36 L116.91 89.65 L117.17 92.07 L117.43 94.59 L117.69 97.2 L117.94 99.87 L118.2 102.59 L118.46 105.33 L118.72 108.08 L118.97 110.79 L119.23 113.47 L119.49 116.07 L119.75 118.59 L120 121 L120.26 123.28 L120.52 125.41 L120.78 127.38 L121.03 129.18 L121.29 130.78 L121.55 132.18 L121.81 133.37 L122.06 134.34 L122.32 135.08 L122.58 135.59 L122.83 135.35 L123.09 134.95 L123.35 134.44 L123.61 133.83 L123.86 133.12 L124.12 132.31 L124.38 131.4 L124.64 130.4 L124.89 129.3 L125.15 128.12 L125.41 126.86 L125.67 125.51 L125.92 124.09 L126.18 122.61 L126.44 121.05 L126.7 119.44 L126.95 117.78 L127.21 116.07 L127.47 114.32 L127.73 112.54 L127.98 110.73 L128.24 108.9 L128.5 107.05 L128.76 105.2 L129.01 103.35 L129.27 101.51 L129.53 99.68 L129.79 97.87 L130.04 96.09 L130.3 94.34 L130.56 92.63 L130.82 90.97 L131.07 89.36 L131.33 87.82 L131.59 86.33 L131.85 84.92 L132.1 83.58 L132.36 82.32 L132.62 81.14 L132.88 80.05 L133.13 79.06 L133.39 78.15 L133.65 77.35 L133.91 76.64 L134.16 76.04 L134.42 75.54 L134.68 75.14 L134.94 74.94 L135.19 75.47 L135.45 76.22 L135.71 77.2 L135.97 78.4 L136.22 79.82 L136.48 81.43 L136.74 83.24 L137 85.22 L137.25 87.36 L137.51 89.65 L137.77 92.07 L138.03 94.59 L138.28 97.2 L138.54 99.87 L138.8 102.59 L139.06 105.33 L139.31 108.08 L139.57 110.79 L139.83 113.47 L140.09 116.07 L140.34 118.59 L140.6 121 L140.86 123.28 L141.12 125.41 L141.38 127.38 L141.63 129.18 L141.89 130.78 L142.15 132.18 L142.41 133.37 L142.66 134.34 L142.92 135.08 L143.18 135.59 L143.44 135.35 L143.69 134.95 L143.95 134.44 L144.21 133.83 L144.47 133.12 L144.72 132.31 L144.98 131.4 L145.24 130.4 L145.5 129.3 L145.75 128.12 L146.01 126.86 L146.27 125.51 L146.53 124.09 L146.78 122.61 L147.04 121.05 L147.3 119.44 L147.56 117.78 L147.81 116.07 L148.07 114.32 L148.33 112.54 L148.59 110.73 L148.84 108.9 L149.1 107.05 L149.36 105.2 L149.62 103.35 L149.87 101.51 L150.13 99.68 L150.39 97.87 L150.65 96.09 L150.9 94.34 L151.16 92.63 L151.42 90.97 L151.68 89.36 L151.93 87.82 L152.19 86.33 L152.45 84.92 L152.71 83.58 L152.96 82.32 L153.22 81.14 L153.48 80.05 L153.74 79.06 L153.99 78.15 L154.25 77.35 L154.51 76.64 L154.76 76.04 L155.02 75.54 L155.28 75.14 L155.54 74.94 L155.79 75.47 L156.05 76.22 L156.31 77.2 L156.57 78.4 L156.82 79.82 L157.08 81.43 L157.34 83.24 L157.6 85.22 L157.85 87.36 L158.11 89.65 L158.37 92.07 L158.63 94.59 L158.88 97.2 L159.14 99.87 L159.4 102.59 L159.66 105.33 L159.91 108.08 L160.17 110.79 L160.43 113.47 L160.69 116.07 L160.94 118.59 L161.2 121 L161.46 123.28 L161.72 125.41 L161.97 127.38 L162.23 129.18 L162.49 130.78 L162.75 132.18 L163 133.37 L163.26 134.34 L163.52 135.08 L163.78 135.59 L164.03 135.35 L164.29 134.95 L164.55 134.44 L164.81 133.83 L165.06 133.12 L165.32 132.31 L165.58 131.4 L165.84 130.4 L166.09 129.3 L166.35 128.12 L166.61 126.86 L166.87 125.51 L167.12 124.09 L167.38 122.61 L167.64 121.05 L167.9 119.44 L168.16 117.78 L168.41 116.07 L168.67 114.32 L168.93 112.54 L169.19 110.73 L169.44 108.9 L169.7 107.05 L169.96 105.2 L170.22 103.35 L170.47 101.51 L170.73 99.68 L170.99 97.87 L171.25 96.09 L171.5 94.34 L171.76 92.63 L172.02 90.97 L172.28 89.36 L172.53 87.82 L172.79 86.33 L173.05 84.92 L173.31 83.58 L173.56 82.32 L173.82 81.14 L174.08 80.05 L174.34 79.06 L174.59 78.15 L174.85 77.35 L175.11 76.64 L175.37 76.04 L175.62 75.54 L175.88 75.14 L176.14 74.94 L176.4 75.47 L176.65 76.22 L176.91 77.2 L177.17 78.4 L177.43 79.82 L177.68 81.43 L177.94 83.24 L178.2 85.22 L178.46 87.36 L178.71 89.65 L178.97 92.07 L179.23 94.59 L179.49 97.2 L179.74 99.87 L180 102.59 L180.26 105.33 L180.51 108.08 L180.77 110.79 L181.03 113.47 L181.29 116.07 L181.54 118.59 L181.8 121 L182.06 123.28 L182.32 125.41 L182.57 127.38 L182.83 129.18 L183.09 130.78 L183.35 132.18 L183.6 133.37 L183.86 134.34 L184.12 135.08 L184.38 135.59 L184.63 135.35 L184.89 134.95 L185.15 134.44 L185.41 133.83 L185.66 133.12 L185.92 132.31 L186.18 131.4 L186.44 130.4 L186.69 129.3 L186.95 128.12 L187.21 126.86 L187.47 125.51 L187.72 124.09 L187.98 122.61 L188.24 121.05 L188.5 119.44 L188.75 117.78 L189.01 116.07 L189.27 114.32 L189.53 112.54 L189.78 110.73 L190.04 108.9 L190.3 107.05 L190.56 105.2 L190.81 103.35 L191.07 101.51 L191.33 99.68 L191.59 97.87 L191.84 96.09 L192.1 94.34 L192.36 92.63 L192.62 90.97 L192.88 89.36 L193.13 87.82 L193.39 86.33 L193.65 84.92 L193.91 83.58 L194.16 82.32 L194.42 81.14 L194.68 80.05 L194.94 79.06 L195.19 78.15 L195.45 77.35 L195.71 76.64 L195.97 76.04 L196.22 75.54 L196.48 75.14 L196.74 74.94 L197 75.47 L197.25 76.22 L197.51 77.2 L197.77 78.4 L198.03 79.82 L198.28 81.43 L198.54 83.24 L198.8 85.22 L199.06 87.36 L199.31 89.65 L199.57 92.07 L199.83 94.59 L200.09 97.2 L200.34 99.87 L200.6 102.59 L200.86 105.33 L201.12 108.08 L201.37 110.79 L201.63 113.47 L201.89 116.07 L202.15 118.59 L202.4 121 L202.66 123.28 L202.92 125.41 L203.18 127.38 L203.43 129.18 L203.69 130.78 L203.95 132.18 L204.21 133.37 L204.46 134.34 L204.72 135.08 L204.98 135.59 L205.24 135.35 L205.49 134.95 L205.75 134.44 L206.01 133.83 L206.26 133.12 L206.52 132.31 L206.78 131.4 L207.04 130.4 L207.29 129.3 L207.55 128.12 L207.81 126.86 L208.07 125.51 L208.32 124.09 L208.58 122.61 L208.84 121.05 L209.1 119.44 L209.35 117.78 L209.61 116.07 L209.87 114.32 L210.13 112.54 L210.38 110.73 L210.64 108.9 L210.9 107.05 L211.16 105.2 L211.41 103.35 L211.67 101.51 L211.93 99.68 L212.19 97.87 L212.44 96.09 L212.7 94.34 L212.96 92.63 L213.22 90.97 L213.47 89.36 L213.73 87.82 L213.99 86.33 L214.25 84.92 L214.5 83.58 L214.76 82.32 L215.02 81.14 L215.28 80.05 L215.53 79.06 L215.79 78.15 L216.05 77.35 L216.31 76.64 L216.56 76.04 L216.82 75.54 L217.08 75.14 L217.34 74.94 L217.59 75.47 L217.85 76.22 L218.11 77.2 L218.37 78.4 L218.62 79.82 L218.88 81.43 L219.14 83.24 L219.4 85.22 L219.66 87.36 L219.91 89.65 L220.17 92.07 L220.43 94.59 L220.69 97.2 L220.94 99.87 L221.2 102.59 L221.46 105.33 L221.72 108.08 L221.97 110.79 L222.23 113.47 L222.49 116.07 L222.75 118.59 L223 121 L223.26 123.28 L223.52 125.41 L223.78 127.38 L224.03 129.18 L224.29 130.78 L224.55 132.18 L224.81 133.37 L225.06 134.34 L225.32 135.08 L225.58 135.59 L225.84 135.35 L226.09 134.95 L226.35 134.44 L226.61 133.83 L226.87 133.12 L227.12 132.31 L227.38 131.4 L227.64 130.4 L227.9 129.3 L228.15 128.12 L228.41 126.86 L228.67 125.51 L228.93 124.09 L229.18 122.61 L229.44 121.05 L229.7 119.44 L229.96 117.78 L230.21 116.07 L230.47 114.32 L230.73 112.54 L230.99 110.73 L231.24 108.9 L231.5 107.05" stroke="#c0aa94" stroke-width="0.75" fill="none" stroke-linejoin="round" opacity="1.0"/>
<path d="M25.5 106.28 L25.76 105.22 L26.02 104.16 L26.27 103.11 L26.53 102.06 L26.79 101.03 L27.05 100.01 L27.3 99.01 L27.56 98.03 L27.82 97.08 L28.07 96.16 L28.33 95.27 L28.59 94.43 L28.85 93.62 L29.11 92.85 L29.36 92.13 L29.62 91.45 L29.88 90.83 L30.13 90.26 L30.39 89.74 L30.65 89.28 L30.91 88.88 L31.16 88.53 L31.42 88.25 L31.68 88.02 L31.94 87.91 L32.2 88.21 L32.45 88.64 L32.71 89.2 L32.97 89.89 L33.23 90.7 L33.48 91.62 L33.74 92.65 L34 93.79 L34.26 95.01 L34.51 96.32 L34.77 97.71 L35.03 99.15 L35.28 100.64 L35.54 102.18 L35.8 103.73 L36.06 105.3 L36.31 106.87 L36.57 108.42 L36.83 109.95 L37.09 111.45 L37.34 112.89 L37.6 114.26 L37.86 115.57 L38.12 116.79 L38.38 117.92 L38.63 118.95 L38.89 119.86 L39.15 120.67 L39.41 121.35 L39.66 121.9 L39.92 122.32 L40.18 122.62 L40.44 122.48 L40.69 122.25 L40.95 121.96 L41.21 121.61 L41.47 121.2 L41.72 120.74 L41.98 120.22 L42.24 119.64 L42.5 119.02 L42.75 118.34 L43.01 117.62 L43.27 116.85 L43.52 116.04 L43.78 115.19 L44.04 114.3 L44.3 113.38 L44.55 112.42 L44.81 111.45 L45.07 110.44 L45.33 109.42 L45.59 108.39 L45.84 107.34 L46.1 106.28 L46.36 105.22 L46.61 104.16 L46.87 103.11 L47.13 102.06 L47.39 101.03 L47.64 100.01 L47.9 99.01 L48.16 98.03 L48.42 97.08 L48.67 96.16 L48.93 95.27 L49.19 94.43 L49.45 93.62 L49.7 92.85 L49.96 92.13 L50.22 91.45 L50.48 90.83 L50.73 90.26 L50.99 89.74 L51.25 89.28 L51.51 88.88 L51.77 88.53 L52.02 88.25 L52.28 88.02 L52.54 87.91 L52.8 88.21 L53.05 88.64 L53.31 89.2 L53.57 89.89 L53.83 90.7 L54.08 91.62 L54.34 92.65 L54.6 93.79 L54.85 95.01 L55.11 96.32 L55.37 97.71 L55.63 99.15 L55.88 100.64 L56.14 102.18 L56.4 103.73 L56.66 105.3 L56.91 106.87 L57.17 108.42 L57.43 109.95 L57.69 111.45 L57.95 112.89 L58.2 114.26 L58.46 115.57 L58.72 116.79 L58.98 117.92 L59.23 118.95 L59.49 119.86 L59.75 120.67 L60.01 121.35 L60.26 121.9 L60.52 122.32 L60.78 122.62 L61.03 122.48 L61.29 122.25 L61.55 121.96 L61.81 121.61 L62.06 121.2 L62.32 120.74 L62.58 120.22 L62.84 119.64 L63.09 119.02 L63.35 118.34 L63.61 117.62 L63.87 116.85 L64.12 116.04 L64.38 115.19 L64.64 114.3 L64.9 113.38 L65.16 112.42 L65.41 111.45 L65.67 110.44 L65.93 109.42 L66.19 108.39 L66.44 107.34 L66.7 106.28 L66.96 105.22 L67.22 104.16 L67.47 103.11 L67.73 102.06 L67.99 101.03 L68.25 100.01 L68.5 99.01 L68.76 98.03 L69.02 97.08 L69.28 96.16 L69.53 95.27 L69.79 94.43 L70.05 93.62 L70.31 92.85 L70.56 92.13 L70.82 91.45 L71.08 90.83 L71.34 90.26 L71.59 89.74 L71.85 89.28 L72.11 88.88 L72.37 88.53 L72.62 88.25 L72.88 88.02 L73.14 87.91 L73.4 88.21 L73.65 88.64 L73.91 89.2 L74.17 89.89 L74.42 90.7 L74.68 91.62 L74.94 92.65 L75.2 93.79 L75.45 95.01 L75.71 96.32 L75.97 97.71 L76.23 99.15 L76.48 100.64 L76.74 102.18 L77 103.73 L77.26 105.3 L77.52 106.87 L77.77 108.42 L78.03 109.95 L78.29 111.45 L78.55 112.89 L78.8 114.26 L79.06 115.57 L79.32 116.79 L79.58 117.92 L79.83 118.95 L80.09 119.86 L80.35 120.67 L80.61 121.35 L80.86 121.9 L81.12 122.32 L81.38 122.62 L81.64 122.48 L81.89 122.25 L82.15 121.96 L82.41 121.61 L82.67 121.2 L82.92 120.74 L83.18 120.22 L83.44 119.64 L83.69 119.02 L83.95 118.34 L84.21 117.62 L84.47 116.85 L84.72 116.04 L84.98 115.19 L85.24 114.3 L85.5 113.38 L85.75 112.42 L86.01 111.45 L86.27 110.44 L86.53 109.42 L86.78 108.39 L87.04 107.34 L87.3 106.28 L87.56 105.22 L87.81 104.16 L88.07 103.11 L88.33 102.06 L88.59 101.03 L88.84 100.01 L89.1 99.01 L89.36 98.03 L89.62 97.08 L89.88 96.16 L90.13 95.27 L90.39 94.43 L90.65 93.62 L90.91 92.85 L91.16 92.13 L91.42 91.45 L91.68 90.83 L91.94 90.26 L92.19 89.74 L92.45 89.28 L92.71 88.88 L92.97 88.53 L93.22 88.25 L93.48 88.02 L93.74 87.91 L94 88.21 L94.25 88.64 L94.51 89.2 L94.77 89.89 L95.03 90.7 L95.28 91.62 L95.54 92.65 L95.8 93.79 L96.06 95.01 L96.31 96.32 L96.57 97.71 L96.83 99.15 L97.08 100.64 L97.34 102.18 L97.6 103.73 L97.86 105.3 L98.11 106.87 L98.37 108.42 L98.63 109.95 L98.89 111.45 L99.14 112.89 L99.4 114.26 L99.66 115.57 L99.92 116.79 L100.17 117.92 L100.43 118.95 L100.69 119.86 L100.95 120.67 L101.2 121.35 L101.46 121.9 L101.72 122.32 L101.98 122.62 L102.23 122.48 L102.49 122.25 L102.75 121.96 L103.01 121.61 L103.27 121.2 L103.52 120.74 L103.78 120.22 L104.04 119.64 L104.3 119.02 L104.55 118.34 L104.81 117.62 L105.07 116.85 L105.33 116.04 L105.58 115.19 L105.84 114.3 L106.1 113.38 L106.36 112.42 L106.61 111.45 L106.87 110.44 L107.13 109.42 L107.39 108.39 L107.64 107.34 L107.9 106.28 L108.16 105.22 L108.42 104.16 L108.67 103.11 L108.93 102.06 L109.19 101.03 L109.44 100.01 L109.7 99.01 L109.96 98.03 L110.22 97.08 L110.47 96.16 L110.73 95.27 L110.99 94.43 L111.25 93.62 L111.5 92.85 L111.76 92.13 L112.02 91.45 L112.28 90.83 L112.53 90.26 L112.79 89.74 L113.05 89.28 L113.31 88.88 L113.56 88.53 L113.82 88.25 L114.08 88.02 L114.34 87.91 L114.59 88.21 L114.85 88.64 L115.11 89.2 L115.37 89.89 L115.62 90.7 L115.88 91.62 L116.14 92.65 L116.4 93.79 L116.66 95.01 L116.91 96.32 L117.17 97.71 L117.43 99.15 L117.69 100.64 L117.94 102.18 L118.2 103.73 L118.46 105.3 L118.72 106.87 L118.97 108.42 L119.23 109.95 L119.49 111.45 L119.75 112.89 L120 114.26 L120.26 115.57 L120.52 116.79 L120.78 117.92 L121.03 118.95 L121.29 119.86 L121.55 120.67 L121.81 121.35 L122.06 121.9 L122.32 122.32 L122.58 122.62 L122.83 122.48 L123.09 122.25 L123.35 121.96 L123.61 121.61 L123.86 121.2 L124.12 120.74 L124.38 120.22 L124.64 119.64 L124.89 119.02 L125.15 118.34 L125.41 117.62 L125.67 116.85 L125.92 116.04 L126.18 115.19 L126.44 114.3 L126.7 113.38 L126.95 112.42 L127.21 111.45 L127.47 110.44 L127.73 109.42 L127.98 108.39 L128.24 107.34 L128.5 106.28 L128.76 105.22 L129.01 104.16 L129.27 103.11 L129.53 102.06 L129.79 101.03 L130.04 100.01 L130.3 99.01 L130.56 98.03 L130.82 97.08 L131.07 96.16 L131.33 95.27 L131.59 94.43 L131.85 93.62 L132.1 92.85 L132.36 92.13 L132.62 91.45 L132.88 90.83 L133.13 90.26 L133.39 89.74 L133.65 89.28 L133.91 88.88 L134.16 88.53 L134.42 88.25 L134.68 88.02 L134.94 87.91 L135.19 88.21 L135.45 88.64 L135.71 89.2 L135.97 89.89 L136.22 90.7 L136.48 91.62 L136.74 92.65 L137 93.79 L137.25 95.01 L137.51 96.32 L137.77 97.71 L138.03 99.15 L138.28 100.64 L138.54 102.18 L138.8 103.73 L139.06 105.3 L139.31 106.87 L139.57 108.42 L139.83 109.95 L140.09 111.45 L140.34 112.89 L140.6 114.26 L140.86 115.57 L141.12 116.79 L141.38 117.92 L141.63 118.95 L141.89 119.86 L142.15 120.67 L142.41 121.35 L142.66 121.9 L142.92 122.32 L143.18 122.62 L143.44 122.48 L143.69 122.25 L143.95 121.96 L144.21 121.61 L144.47 121.2 L144.72 120.74 L144.98 120.22 L145.24 119.64 L145.5 119.02 L145.75 118.34 L146.01 117.62 L146.27 116.85 L146.53 116.04 L146.78 115.19 L147.04 114.3 L147.3 113.38 L147.56 112.42 L147.81 111.45 L148.07 110.44 L148.33 109.42 L148.59 108.39 L148.84 107.34 L149.1 106.28 L149.36 105.22 L149.62 104.16 L149.87 103.11 L150.13 102.06 L150.39 101.03 L150.65 100.01 L150.9 99.01 L151.16 98.03 L151.42 97.08 L151.68 96.16 L151.93 95.27 L152.19 94.43 L152.45 93.62 L152.71 92.85 L152.96 92.13 L153.22 91.45 L153.48 90.83 L153.74 90.26 L153.99 89.74 L154.25 89.28 L154.51 88.88 L154.76 88.53 L155.02 88.25 L155.28 88.02 L155.54 87.91 L155.79 88.21 L156.05 88.64 L156.31 89.2 L156.57 89.89 L156.82 90.7 L157.08 91.62 L157.34 92.65 L157.6 93.79 L157.85 95.01 L158.11 96.32 L158.37 97.71 L158.63 99.15 L158.88 100.64 L159.14 102.18 L159.4 103.73 L159.66 105.3 L159.91 106.87 L160.17 108.42 L160.43 109.95 L160.69 111.45 L160.94 112.89 L161.2 114.26 L161.46 115.57 L161.72 116.79 L161.97 117.92 L162.23 118.95 L162.49 119.86 L162.75 120.67 L163 121.35 L163.26 121.9 L163.52 122.32 L163.78 122.62 L164.03 122.48 L164.29 122.25 L164.55 121.96 L164.81 121.61 L165.06 121.2 L165.32 120.74 L165.58 120.22 L165.84 119.64 L166.09 119.02 L166.35 118.34 L166.61 117.62 L166.87 116.85 L167.12 116.04 L167.38 115.19 L167.64 114.3 L167.9 113.38 L168.16 112.42 L168.41 111.45 L168.67 110.44 L168.93 109.42 L169.19 108.39 L169.44 107.34 L169.7 106.28 L169.96 105.22 L170.22 104.16 L170.47 103.11 L170.73 102.06 L170.99 101.03 L171.25 100.01 L171.5 99.01 L171.76 98.03 L172.02 97.08 L172.28 96.16 L172.53 95.27 L172.79 94.43 L173.05 93.62 L173.31 92.85 L173.56 92.13 L173.82 91.45 L174.08 90.83 L174.34 90.26 L174.59 89.74 L174.85 89.28 L175.11 88.88 L175.37 88.53 L175.62 88.25 L175.88 88.02 L176.14 87.91 L176.4 88.21 L176.65 88.64 L176.91 89.2 L177.17 89.89 L177.43 90.7 L177.68 91.62 L177.94 92.65 L178.2 93.79 L178.46 95.01 L178.71 96.32 L178.97 97.71 L179.23 99.15 L179.49 100.64 L179.74 102.18 L180 103.73 L180.26 105.3 L180.51 106.87 L180.77 108.42 L181.03 109.95 L181.29 111.45 L181.54 112.89 L181.8 114.26 L182.06 115.57 L182.32 116.79 L182.57 117.92 L182.83 118.95 L183.09 119.86 L183.35 120.67 L183.6 121.35 L183.86 121.9 L184.12 122.32 L184.38 122.62 L184.63 122.48 L184.89 122.25 L185.15 121.96 L185.41 121.61 L185.66 121.2 L185.92 120.74 L186.18 120.22 L186.44 119.64 L186.69 119.02 L186.95 118.34 L187.21 117.62 L187.47 116.85 L187.72 116.04 L187.98 115.19 L188.24 114.3 L188.5 113.38 L188.75 112.42 L189.01 111.45 L189.27 110.44 L189.53 109.42 L189.78 108.39 L190.04 107.34 L190.3 106.28 L190.56 105.22 L190.81 104.16 L191.07 103.11 L191.33 102.06 L191.59 101.03 L191.84 100.01 L192.1 99.01 L192.36 98.03 L192.62 97.08 L192.88 96.16 L193.13 95.27 L193.39 94.43 L193.65 93.62 L193.91 92.85 L194.16 92.13 L194.42 91.45 L194.68 90.83 L194.94 90.26 L195.19 89.74 L195.45 89.28 L195.71 88.88 L195.97 88.53 L196.22 88.25 L196.48 88.02 L196.74 87.91 L197 88.21 L197.25 88.64 L197.51 89.2 L197.77 89.89 L198.03 90.7 L198.28 91.62 L198.54 92.65 L198.8 93.79 L199.06 95.01 L199.31 96.32 L199.57 97.71 L199.83 99.15 L200.09 100.64 L200.34 102.18 L200.6 103.73 L200.86 105.3 L201.12 106.87 L201.37 108.42 L201.63 109.95 L201.89 111.45 L202.15 112.89 L202.4 114.26 L202.66 115.57 L202.92 116.79 L203.18 117.92 L203.43 118.95 L203.69 119.86 L203.95 120.67 L204.21 121.35 L204.46 121.9 L204.72 122.32 L204.98 122.62 L205.24 122.48 L205.49 122.25 L205.75 121.96 L206.01 121.61 L206.26 121.2 L206.52 120.74 L206.78 120.22 L207.04 119.64 L207.29 119.02 L207.55 118.34 L207.81 117.62 L208.07 116.85 L208.32 116.04 L208.58 115.19 L208.84 114.3 L209.1 113.38 L209.35 112.42 L209.61 111.45 L209.87 110.44 L210.13 109.42 L210.38 108.39 L210.64 107.34 L210.9 106.28 L211.16 105.22 L211.41 104.16 L211.67 103.11 L211.93 102.06 L212.19 101.03 L212.44 100.01 L212.7 99.01 L212.96 98.03 L213.22 97.08 L213.47 96.16 L213.73 95.27 L213.99 94.43 L214.25 93.62 L214.5 92.85 L214.76 92.13 L215.02 91.45 L215.28 90.83 L215.53 90.26 L215.79 89.74 L216.05 89.28 L216.31 88.88 L216.56 88.53 L216.82 88.25 L217.08 88.02 L217.34 87.91 L217.59 88.21 L217.85 88.64 L218.11 89.2 L218.37 89.89 L218.62 90.7 L218.88 91.62 L219.14 92.65 L219.4 93.79 L219.66 95.01 L219.91 96.32 L220.17 97.71 L220.43 99.15 L220.69 100.64 L220.94 102.18 L221.2 103.73 L221.46 105.3 L221.72 106.87 L221.97 108.42 L222.23 109.95 L222.49 111.45 L222.75 112.89 L223 114.26 L223.26 115.57 L223.52 116.79 L223.78 117.92 L224.03 118.95 L224.29 119.86 L224.55 120.67 L224.81 121.35 L225.06 121.9 L225.32 122.32 L225.58 122.62 L225.84 122.48 L226.09 122.25 L226.35 121.96 L226.61 121.61 L226.87 121.2 L227.12 120.74 L227.38 120.22 L227.64 119.64 L227.9 119.02 L228.15 118.34 L228.41 117.62 L228.67 116.85 L228.93 116.04 L229.18 115.19 L229.44 114.3 L229.7 113.38 L229.96 112.42 L230.21 111.45 L230.47 110.44 L230.73 109.42 L230.99 108.39 L231.24 107.34 L231.5 106.28" stroke="#a8a8c2" stroke-width="0.75" fill="none" stroke-linejoin="round" opacity="1.0"/>
<path d="M25.5 109.42 L25.76 106.21 L26.02 103 L26.27 99.81 L26.53 96.64 L26.79 93.5 L27.05 90.42 L27.3 87.39 L27.56 84.43 L27.82 81.56 L28.07 78.77 L28.33 76.09 L28.59 73.52 L28.85 71.07 L29.11 68.75 L29.36 66.56 L29.62 64.53 L29.88 62.64 L30.13 60.91 L30.39 59.35 L30.65 57.95 L30.91 56.73 L31.16 55.68 L31.42 54.81 L31.68 54.13 L31.94 53.78 L32.2 54.7 L32.45 56 L32.71 57.7 L32.97 59.78 L33.23 62.23 L33.48 65.03 L33.74 68.15 L34 71.59 L34.26 75.3 L34.51 79.27 L34.77 83.45 L35.03 87.82 L35.28 92.35 L35.54 96.98 L35.8 101.69 L36.06 106.44 L36.31 111.19 L36.57 115.9 L36.83 120.53 L37.09 125.05 L37.34 129.41 L37.6 133.58 L37.86 137.53 L38.12 141.23 L38.38 144.65 L38.63 147.76 L38.89 150.53 L39.15 152.96 L39.41 155.02 L39.66 156.69 L39.92 157.98 L40.18 158.87 L40.44 158.45 L40.69 157.75 L40.95 156.87 L41.21 155.82 L41.47 154.58 L41.72 153.18 L41.98 151.6 L42.24 149.87 L42.5 147.97 L42.75 145.92 L43.01 143.73 L43.27 141.4 L43.52 138.95 L43.78 136.37 L44.04 133.68 L44.3 130.89 L44.55 128.01 L44.81 125.05 L45.07 122.01 L45.33 118.92 L45.59 115.79 L45.84 112.62 L46.1 109.42 L46.36 106.21 L46.61 103 L46.87 99.81 L47.13 96.64 L47.39 93.5 L47.64 90.42 L47.9 87.39 L48.16 84.43 L48.42 81.56 L48.67 78.77 L48.93 76.09 L49.19 73.52 L49.45 71.07 L49.7 68.75 L49.96 66.56 L50.22 64.53 L50.48 62.64 L50.73 60.91 L50.99 59.35 L51.25 57.95 L51.51 56.73 L51.77 55.68 L52.02 54.81 L52.28 54.13 L52.54 53.78 L52.8 54.7 L53.05 56 L53.31 57.7 L53.57 59.78 L53.83 62.23 L54.08 65.03 L54.34 68.15 L54.6 71.59 L54.85 75.3 L55.11 79.27 L55.37 83.45 L55.63 87.82 L55.88 92.35 L56.14 96.98 L56.4 101.69 L56.66 106.44 L56.91 111.19 L57.17 115.9 L57.43 120.53 L57.69 125.05 L57.95 129.41 L58.2 133.58 L58.46 137.53 L58.72 141.23 L58.98 144.65 L59.23 147.76 L59.49 150.53 L59.75 152.96 L60.01 155.02 L60.26 156.69 L60.52 157.98 L60.78 158.87 L61.03 158.45 L61.29 157.75 L61.55 156.87 L61.81 155.82 L62.06 154.58 L62.32 153.18 L62.58 151.6 L62.84 149.87 L63.09 147.97 L63.35 145.92 L63.61 143.73 L63.87 141.4 L64.12 138.95 L64.38 136.37 L64.64 133.68 L64.9 130.89 L65.16 128.01 L65.41 125.05 L65.67 122.01 L65.93 118.92 L66.19 115.79 L66.44 112.62 L66.7 109.42 L66.96 106.21 L67.22 103 L67.47 99.81 L67.73 96.64 L67.99 93.5 L68.25 90.42 L68.5 87.39 L68.76 84.43 L69.02 81.56 L69.28 78.77 L69.53 76.09 L69.79 73.52 L70.05 71.07 L70.31 68.75 L70.56 66.56 L70.82 64.53 L71.08 62.64 L71.34 60.91 L71.59 59.35 L71.85 57.95 L72.11 56.73 L72.37 55.68 L72.62 54.81 L72.88 54.13 L73.14 53.78 L73.4 54.7 L73.65 56 L73.91 57.7 L74.17 59.78 L74.42 62.23 L74.68 65.03 L74.94 68.15 L75.2 71.59 L75.45 75.3 L75.71 79.27 L75.97 83.45 L76.23 87.82 L76.48 92.35 L76.74 96.98 L77 101.69 L77.26 106.44 L77.52 111.19 L77.77 115.9 L78.03 120.53 L78.29 125.05 L78.55 129.41 L78.8 133.58 L79.06 137.53 L79.32 141.23 L79.58 144.65 L79.83 147.76 L80.09 150.53 L80.35 152.96 L80.61 155.02 L80.86 156.69 L81.12 157.98 L81.38 158.87 L81.64 158.45 L81.89 157.75 L82.15 156.87 L82.41 155.82 L82.67 154.58 L82.92 153.18 L83.18 151.6 L83.44 149.87 L83.69 147.97 L83.95 145.92 L84.21 143.73 L84.47 141.4 L84.72 138.95 L84.98 136.37 L85.24 133.68 L85.5 130.89 L85.75 128.01 L86.01 125.05 L86.27 122.01 L86.53 118.92 L86.78 115.79 L87.04 112.62 L87.3 109.42 L87.56 106.21 L87.81 103 L88.07 99.81 L88.33 96.64 L88.59 93.5 L88.84 90.42 L89.1 87.39 L89.36 84.43 L89.62 81.56 L89.88 78.77 L90.13 76.09 L90.39 73.52 L90.65 71.07 L90.91 68.75 L91.16 66.56 L91.42 64.53 L91.68 62.64 L91.94 60.91 L92.19 59.35 L92.45 57.95 L92.71 56.73 L92.97 55.68 L93.22 54.81 L93.48 54.13 L93.74 53.78 L94 54.7 L94.25 56 L94.51 57.7 L94.77 59.78 L95.03 62.23 L95.28 65.03 L95.54 68.15 L95.8 71.59 L96.06 75.3 L96.31 79.27 L96.57 83.45 L96.83 87.82 L97.08 92.35 L97.34 96.98 L97.6 101.69 L97.86 106.44 L98.11 111.19 L98.37 115.9 L98.63 120.53 L98.89 125.05 L99.14 129.41 L99.4 133.58 L99.66 137.53 L99.92 141.23 L100.17 144.65 L100.43 147.76 L100.69 150.53 L100.95 152.96 L101.2 155.02 L101.46 156.69 L101.72 157.98 L101.98 158.87 L102.23 158.45 L102.49 157.75 L102.75 156.87 L103.01 155.82 L103.27 154.58 L103.52 153.18 L103.78 151.6 L104.04 149.87 L104.3 147.97 L104.55 145.92 L104.81 143.73 L105.07 141.4 L105.33 138.95 L105.58 136.37 L105.84 133.68 L106.1 130.89 L106.36 128.01 L106.61 125.05 L106.87 122.01 L107.13 118.92 L107.39 115.79 L107.64 112.62 L107.9 109.42 L108.16 106.21 L108.42 103 L108.67 99.81 L108.93 96.64 L109.19 93.5 L109.44 90.42 L109.7 87.39 L109.96 84.43 L110.22 81.56 L110.47 78.77 L110.73 76.09 L110.99 73.52 L111.25 71.07 L111.5 68.75 L111.76 66.56 L112.02 64.53 L112.28 62.64 L112.53 60.91 L112.79 59.35 L113.05 57.95 L113.31 56.73 L113.56 55.68 L113.82 54.81 L114.08 54.13 L114.34 53.78 L114.59 54.7 L114.85 56 L115.11 57.7 L115.37 59.78 L115.62 62.23 L115.88 65.03 L116.14 68.15 L116.4 71.59 L116.66 75.3 L116.91 79.27 L117.17 83.45 L117.43 87.82 L117.69 92.35 L117.94 96.98 L118.2 101.69 L118.46 106.44 L118.72 111.19 L118.97 115.9 L119.23 120.53 L119.49 125.05 L119.75 129.41 L120 133.58 L120.26 137.53 L120.52 141.23 L120.78 144.65 L121.03 147.76 L121.29 150.53 L121.55 152.96 L121.81 155.02 L122.06 156.69 L122.32 157.98 L122.58 158.87 L122.83 158.45 L123.09 157.75 L123.35 156.87 L123.61 155.82 L123.86 154.58 L124.12 153.18 L124.38 151.6 L124.64 149.87 L124.89 147.97 L125.15 145.92 L125.41 143.73 L125.67 141.4 L125.92 138.95 L126.18 136.37 L126.44 133.68 L126.7 130.89 L126.95 128.01 L127.21 125.05 L127.47 122.01 L127.73 118.92 L127.98 115.79 L128.24 112.62 L128.5 109.42 L128.76 106.21 L129.01 103 L129.27 99.81 L129.53 96.64 L129.79 93.5 L130.04 90.42 L130.3 87.39 L130.56 84.43 L130.82 81.56 L131.07 78.77 L131.33 76.09 L131.59 73.52 L131.85 71.07 L132.1 68.75 L132.36 66.56 L132.62 64.53 L132.88 62.64 L133.13 60.91 L133.39 59.35 L133.65 57.95 L133.91 56.73 L134.16 55.68 L134.42 54.81 L134.68 54.13 L134.94 53.78 L135.19 54.7 L135.45 56 L135.71 57.7 L135.97 59.78 L136.22 62.23 L136.48 65.03 L136.74 68.15 L137 71.59 L137.25 75.3 L137.51 79.27 L137.77 83.45 L138.03 87.82 L138.28 92.35 L138.54 96.98 L138.8 101.69 L139.06 106.44 L139.31 111.19 L139.57 115.9 L139.83 120.53 L140.09 125.05 L140.34 129.41 L140.6 133.58 L140.86 137.53 L141.12 141.23 L141.38 144.65 L141.63 147.76 L141.89 150.53 L142.15 152.96 L142.41 155.02 L142.66 156.69 L142.92 157.98 L143.18 158.87 L143.44 158.45 L143.69 157.75 L143.95 156.87 L144.21 155.82 L144.47 154.58 L144.72 153.18 L144.98 151.6 L145.24 149.87 L145.5 147.97 L145.75 145.92 L146.01 143.73 L146.27 141.4 L146.53 138.95 L146.78 136.37 L147.04 133.68 L147.3 130.89 L147.56 128.01 L147.81 125.05 L148.07 122.01 L148.33 118.92 L148.59 115.79 L148.84 112.62 L149.1 109.42 L149.36 106.21 L149.62 103 L149.87 99.81 L150.13 96.64 L150.39 93.5 L150.65 90.42 L150.9 87.39 L151.16 84.43 L151.42 81.56 L151.68 78.77 L151.93 76.09 L152.19 73.52 L152.45 71.07 L152.71 68.75 L152.96 66.56 L153.22 64.53 L153.48 62.64 L153.74 60.91 L153.99 59.35 L154.25 57.95 L154.51 56.73 L154.76 55.68 L155.02 54.81 L155.28 54.13 L155.54 53.78 L155.79 54.7 L156.05 56 L156.31 57.7 L156.57 59.78 L156.82 62.23 L157.08 65.03 L157.34 68.15 L157.6 71.59 L157.85 75.3 L158.11 79.27 L158.37 83.45 L158.63 87.82 L158.88 92.35 L159.14 96.98 L159.4 101.69 L159.66 106.44 L159.91 111.19 L160.17 115.9 L160.43 120.53 L160.69 125.05 L160.94 129.41 L161.2 133.58 L161.46 137.53 L161.72 141.23 L161.97 144.65 L162.23 147.76 L162.49 150.53 L162.75 152.96 L163 155.02 L163.26 156.69 L163.52 157.98 L163.78 158.87 L164.03 158.45 L164.29 157.75 L164.55 156.87 L164.81 155.82 L165.06 154.58 L165.32 153.18 L165.58 151.6 L165.84 149.87 L166.09 147.97 L166.35 145.92 L166.61 143.73 L166.87 141.4 L167.12 138.95 L167.38 136.37 L167.64 133.68 L167.9 130.89 L168.16 128.01 L168.41 125.05 L168.67 122.01 L168.93 118.92 L169.19 115.79 L169.44 112.62 L169.7 109.42 L169.96 106.21 L170.22 103 L170.47 99.81 L170.73 96.64 L170.99 93.5 L171.25 90.42 L171.5 87.39 L171.76 84.43 L172.02 81.56 L172.28 78.77 L172.53 76.09 L172.79 73.52 L173.05 71.07 L173.31 68.75 L173.56 66.56 L173.82 64.53 L174.08 62.64 L174.34 60.91 L174.59 59.35 L174.85 57.95 L175.11 56.73 L175.37 55.68 L175.62 54.81 L175.88 54.13 L176.14 53.78 L176.4 54.7 L176.65 56 L176.91 57.7 L177.17 59.78 L177.43 62.23 L177.68 65.03 L177.94 68.15 L178.2 71.59 L178.46 75.3 L178.71 79.27 L178.97 83.45 L179.23 87.82 L179.49 92.35 L179.74 96.98 L180 101.69 L180.26 106.44 L180.51 111.19 L180.77 115.9 L181.03 120.53 L181.29 125.05 L181.54 129.41 L181.8 133.58 L182.06 137.53 L182.32 141.23 L182.57 144.65 L182.83 147.76 L183.09 150.53 L183.35 152.96 L183.6 155.02 L183.86 156.69 L184.12 157.98 L184.38 158.87 L184.63 158.45 L184.89 157.75 L185.15 156.87 L185.41 155.82 L185.66 154.58 L185.92 153.18 L186.18 151.6 L186.44 149.87 L186.69 147.97 L186.95 145.92 L187.21 143.73 L187.47 141.4 L187.72 138.95 L187.98 136.37 L188.24 133.68 L188.5 130.89 L188.75 128.01 L189.01 125.05 L189.27 122.01 L189.53 118.92 L189.78 115.79 L190.04 112.62 L190.3 109.42 L190.56 106.21 L190.81 103 L191.07 99.81 L191.33 96.64 L191.59 93.5 L191.84 90.42 L192.1 87.39 L192.36 84.43 L192.62 81.56 L192.88 78.77 L193.13 76.09 L193.39 73.52 L193.65 71.07 L193.91 68.75 L194.16 66.56 L194.42 64.53 L194.68 62.64 L194.94 60.91 L195.19 59.35 L195.45 57.95 L195.71 56.73 L195.97 55.68 L196.22 54.81 L196.48 54.13 L196.74 53.78 L197 54.7 L197.25 56 L197.51 57.7 L197.77 59.78 L198.03 62.23 L198.28 65.03 L198.54 68.15 L198.8 71.59 L199.06 75.3 L199.31 79.27 L199.57 83.45 L199.83 87.82 L200.09 92.35 L200.34 96.98 L200.6 101.69 L200.86 106.44 L201.12 111.19 L201.37 115.9 L201.63 120.53 L201.89 125.05 L202.15 129.41 L202.4 133.58 L202.66 137.53 L202.92 141.23 L203.18 144.65 L203.43 147.76 L203.69 150.53 L203.95 152.96 L204.21 155.02 L204.46 156.69 L204.72 157.98 L204.98 158.87 L205.24 158.45 L205.49 157.75 L205.75 156.87 L206.01 155.82 L206.26 154.58 L206.52 153.18 L206.78 151.6 L207.04 149.87 L207.29 147.97 L207.55 145.92 L207.81 143.73 L208.07 141.4 L208.32 138.95 L208.58 136.37 L208.84 133.68 L209.1 130.89 L209.35 128.01 L209.61 125.05 L209.87 122.01 L210.13 118.92 L210.38 115.79 L210.64 112.62 L210.9 109.42 L211.16 106.21 L211.41 103 L211.67 99.81 L211.93 96.64 L212.19 93.5 L212.44 90.42 L212.7 87.39 L212.96 84.43 L213.22 81.56 L213.47 78.77 L213.73 76.09 L213.99 73.52 L214.25 71.07 L214.5 68.75 L214.76 66.56 L215.02 64.53 L215.28 62.64 L215.53 60.91 L215.79 59.35 L216.05 57.95 L216.31 56.73 L216.56 55.68 L216.82 54.81 L217.08 54.13 L217.34 53.78 L217.59 54.7 L217.85 56 L218.11 57.7 L218.37 59.78 L218.62 62.23 L218.88 65.03 L219.14 68.15 L219.4 71.59 L219.66 75.3 L219.91 79.27 L220.17 83.45 L220.43 87.82 L220.69 92.35 L220.94 96.98 L221.2 101.69 L221.46 106.44 L221.72 111.19 L221.97 115.9 L222.23 120.53 L222.49 125.05 L222.75 129.41 L223 133.58 L223.26 137.53 L223.52 141.23 L223.78 144.65 L224.03 147.76 L224.29 150.53 L224.55 152.96 L224.81 155.02 L225.06 156.69 L225.32 157.98 L225.58 158.87 L225.84 158.45 L226.09 157.75 L226.35 156.87 L226.61 155.82 L226.87 154.58 L227.12 153.18 L227.38 151.6 L227.64 149.87 L227.9 147.97 L228.15 145.92 L228.41 143.73 L228.67 141.4 L228.93 138.95 L229.18 136.37 L229.44 133.68 L229.7 130.89 L229.96 128.01 L230.21 125.05 L230.47 122.01 L230.73 118.92 L230.99 115.79 L231.24 112.62 L231.5 109.42" stroke="#9c9a9c" stroke-width="0.75" fill="none" stroke-linejoin="round" opacity="1.0"/>
<path d="M25.5 176.1v-2.0M25.5 27.9v2.0M66.7 176.1v-2.0M66.7 27.9v2.0M107.9 176.1v-2.0M107.9 27.9v2.0M149.1 176.1v-2.0M149.1 27.9v2.0M190.3 176.1v-2.0M190.3 27.9v2.0M231.5 176.1v-2.0M231.5 27.9v2.0M25.5 161.6h2.0M231.5 161.6h-2.0M25.5 142.5h2.0M231.5 142.5h-2.0M25.5 123.4h2.0M231.5 123.4h-2.0M25.5 104.3h2.0M231.5 104.3h-2.0M25.5 85.2h2.0M231.5 85.2h-2.0M25.5 66.1h2.0M231.5 66.1h-2.0M25.5 47h2.0M231.5 47h-2.0M25.5 27.9h2.0M231.5 27.9h-2.0" stroke="#c8c8c8" stroke-width="0.8" fill="none"/>
<rect x="25.5" y="27.9" width="206" height="148.2" stroke="#c8c8c8" stroke-width="0.8" fill="none"/>
<text x="25.5" y="186.1" font-size="7.5" text-anchor="middle" fill="#262626" color="#262626">0</text>
<text x="66.7" y="186.1" font-size="7.5" text-anchor="middle" fill="#262626" color="#262626">0.2</text>
<text x="107.9" y="186.1" font-size="7.5" text-anchor="middle" fill="#262626" color="#262626">0.4</text>
<text x="149.1" y="186.1" font-size="7.5" text-anchor="middle" fill="#262626" color="#262626">0.6</text>
<text x="190.3" y="186.1" font-size="7.5" text-anchor="middle" fill="#262626" color="#262626">0.8</text>
<text x="231.5" y="186.1" font-size="7.5" text-anchor="middle" fill="#262626" color="#262626">1</text>
<text x="23.6" y="164.35" font-size="7.5" text-anchor="end" fill="#262626" color="#262626">-1.5</text>
<text x="23.6" y="145.25" font-size="7.5" text-anchor="end" fill="#262626" color="#262626">-1</text>
<text x="23.6" y="126.15" font-size="7.5" text-anchor="end" fill="#262626" color="#262626">-0.5</text>
<text x="23.6" y="107.05" font-size="7.5" text-anchor="end" fill="#262626" color="#262626">0</text>
<text x="23.6" y="87.95" font-size="7.5" text-anchor="end" fill="#262626" color="#262626">0.5</text>
<text x="23.6" y="68.85" font-size="7.5" text-anchor="end" fill="#262626" color="#262626">1</text>
<text x="23.6" y="49.75" font-size="7.5" text-anchor="end" fill="#262626" color="#262626">1.5</text>
<text x="23.6" y="30.65" font-size="7.5" text-anchor="end" fill="#262626" color="#262626">2</text>
<text x="128.5" y="195.6" font-size="8.25" text-anchor="middle" fill="#262626" color="#262626">Time [s]</text>
<text x="0" y="0" font-size="8.25" text-anchor="middle" fill="#262626" color="#262626" transform="translate(8.8 100.9) rotate(-90)">Voltage [V]</text>
<text x="2.4" y="12" font-size="13" text-anchor="start" fill="#000" color="#000" style="stroke-width:0">(a)</text>
<rect x="117.3" y="29.7" width="114.2" height="9.6" fill="#fff" stroke="#c8c8c8" stroke-width="0.7"/>
<path d="M117.7 34.5h6.4" stroke="#a8a8c2" stroke-width="0.8"/>
<text x="124.7" y="37.3" font-size="7.5" text-anchor="start" fill="#1a1a1a" color="#1a1a1a">2 %</text>
<path d="M139.6 34.5h6.4" stroke="#c0aa94" stroke-width="0.8"/>
<text x="146.4" y="37.3" font-size="7.5" text-anchor="start" fill="#1a1a1a" color="#1a1a1a">4 %</text>
<path d="M161 34.5h6.4" stroke="#e8d4b8" stroke-width="0.8"/>
<text x="167.6" y="37.3" font-size="7.5" text-anchor="start" fill="#1a1a1a" color="#1a1a1a">6 %</text>
<path d="M183 34.5h6.4" stroke="#9c9a9c" stroke-width="0.8"/>
<text x="189" y="37.3" font-size="7.5" text-anchor="start" fill="#1a1a1a" color="#1a1a1a">8 %</text>
<path d="M204.2 34.5h6.4" stroke="#dddcc0" stroke-width="0.8"/>
<text x="211.1" y="37.3" font-size="7.5" text-anchor="start" fill="#1a1a1a" color="#1a1a1a">10 %</text>
<path d="M310 176.1v-2.0M310 27.9v2.0M335.68 176.1v-2.0M335.68 27.9v2.0M361.35 176.1v-2.0M361.35 27.9v2.0M387.02 176.1v-2.0M387.02 27.9v2.0M412.7 176.1v-2.0M412.7 27.9v2.0M438.38 176.1v-2.0M438.38 27.9v2.0M464.05 176.1v-2.0M464.05 27.9v2.0M489.73 176.1v-2.0M489.73 27.9v2.0M515.4 176.1v-2.0M515.4 27.9v2.0M310 176.1h2.0M515.4 176.1h-2.0M310 154.93h2.0M515.4 154.93h-2.0M310 133.76h2.0M515.4 133.76h-2.0M310 112.59h2.0M515.4 112.59h-2.0M310 91.41h2.0M515.4 91.41h-2.0M310 70.24h2.0M515.4 70.24h-2.0M310 49.07h2.0M515.4 49.07h-2.0M310 27.9h2.0M515.4 27.9h-2.0" stroke="#c8c8c8" stroke-width="0.8" fill="none"/>
<rect x="310" y="27.9" width="205.4" height="148.2" stroke="#c8c8c8" stroke-width="0.8" fill="none"/>
<path d="M310 171.55 L361.35 137.57 L412.7 105.7 L464.05 75.85 L515.4 48.44" stroke="#7a8ea2" stroke-width="1.0" fill="none" stroke-linejoin="round" opacity="1.0"/>
<rect x="307.8" y="169.35" width="4.4" height="4.4" fill="#ae1430"/>
<rect x="359.15" y="135.37" width="4.4" height="4.4" fill="#ae1430"/>
<rect x="410.5" y="103.5" width="4.4" height="4.4" fill="#ae1430"/>
<rect x="461.85" y="73.65" width="4.4" height="4.4" fill="#ae1430"/>
<rect x="513.2" y="46.24" width="4.4" height="4.4" fill="#ae1430"/>
<text x="310" y="186.1" font-size="7.5" text-anchor="middle" fill="#262626" color="#262626">0.02</text>
<text x="335.68" y="186.1" font-size="7.5" text-anchor="middle" fill="#262626" color="#262626">0.03</text>
<text x="361.35" y="186.1" font-size="7.5" text-anchor="middle" fill="#262626" color="#262626">0.04</text>
<text x="387.02" y="186.1" font-size="7.5" text-anchor="middle" fill="#262626" color="#262626">0.05</text>
<text x="412.7" y="186.1" font-size="7.5" text-anchor="middle" fill="#262626" color="#262626">0.06</text>
<text x="438.38" y="186.1" font-size="7.5" text-anchor="middle" fill="#262626" color="#262626">0.07</text>
<text x="464.05" y="186.1" font-size="7.5" text-anchor="middle" fill="#262626" color="#262626">0.08</text>
<text x="489.73" y="186.1" font-size="7.5" text-anchor="middle" fill="#262626" color="#262626">0.09</text>
<text x="515.4" y="186.1" font-size="7.5" text-anchor="middle" fill="#262626" color="#262626">0.1</text>
<text x="307.9" y="179.35" font-size="7.5" text-anchor="end" fill="#262626" color="#262626">0.4</text>
<text x="307.9" y="158.18" font-size="7.5" text-anchor="end" fill="#262626" color="#262626">0.6</text>
<text x="307.9" y="137.01" font-size="7.5" text-anchor="end" fill="#262626" color="#262626">0.8</text>
<text x="307.9" y="115.84" font-size="7.5" text-anchor="end" fill="#262626" color="#262626">1</text>
<text x="307.9" y="94.66" font-size="7.5" text-anchor="end" fill="#262626" color="#262626">1.2</text>
<text x="307.9" y="73.49" font-size="7.5" text-anchor="end" fill="#262626" color="#262626">1.4</text>
<text x="307.9" y="52.32" font-size="7.5" text-anchor="end" fill="#262626" color="#262626">1.6</text>
<text x="307.9" y="31.15" font-size="7.5" text-anchor="end" fill="#262626" color="#262626">1.8</text>
<text x="412.7" y="195.7" font-size="8.25" text-anchor="middle" fill="#262626" color="#262626">Strain</text>
<text x="0" y="0" font-size="8.25" text-anchor="middle" fill="#262626" color="#262626" transform="translate(295.0 101.8) rotate(-90)">Voltage Amplitude [V]</text>
<text x="280" y="11.4" font-size="13" text-anchor="start" fill="#000" color="#000" style="stroke-width:0">(b)</text>
<path d="M27.6 319.8 L27.74 318.23 L27.87 316.67 L28.01 315.11 L28.15 313.56 L28.29 312.03 L28.42 310.52 L28.56 309.04 L28.7 307.58 L28.83 306.15 L28.97 304.76 L29.11 303.4 L29.25 302.09 L29.38 300.82 L29.52 299.59 L29.66 298.42 L29.79 297.31 L29.93 296.25 L30.07 295.25 L30.21 294.31 L30.34 293.43 L30.48 292.63 L30.62 291.89 L30.75 291.22 L30.89 290.62 L31.03 290.1 L31.17 289.65 L31.3 289.28 L31.44 288.99 L31.58 288.77 L31.71 288.63 L31.85 288.58 L31.99 288.6 L32.13 288.69 L32.26 288.87 L32.4 289.13 L32.54 289.46 L32.67 289.87 L32.81 290.35 L32.95 290.91 L33.09 291.55 L33.22 292.25 L33.36 293.02 L33.5 293.86 L33.63 294.77 L33.77 295.74 L33.91 296.77 L34.05 297.86 L34.18 299 L34.32 300.2 L34.46 301.45 L34.59 302.74 L34.73 304.07 L34.87 305.45 L35.01 306.86 L35.14 308.3 L35.28 309.78 L35.42 311.28 L35.55 312.8 L35.69 314.33 L35.83 315.89 L35.97 317.45 L36.1 319.02 L36.24 320.58 L36.38 322.15 L36.51 323.71 L36.65 325.27 L36.79 326.8 L36.93 328.32 L37.06 329.82 L37.2 331.3 L37.34 332.74 L37.47 334.15 L37.61 335.53 L37.75 336.86 L37.89 338.15 L38.02 339.4 L38.16 340.6 L38.3 341.74 L38.43 342.83 L38.57 343.86 L38.71 344.83 L38.84 345.74 L38.98 346.58 L39.12 347.35 L39.26 348.05 L39.39 348.69 L39.53 349.25 L39.67 349.73 L39.8 350.14 L39.94 350.47 L40.08 350.73 L40.22 350.91 L40.35 351 L40.49 351.02 L40.63 350.97 L40.76 350.83 L40.9 350.61 L41.04 350.32 L41.18 349.95 L41.31 349.5 L41.45 348.98 L41.59 348.38 L41.72 347.71 L41.86 346.97 L42 346.17 L42.14 345.29 L42.27 344.35 L42.41 343.35 L42.55 342.29 L42.68 341.18 L42.82 340.01 L42.96 338.78 L43.1 337.51 L43.23 336.2 L43.37 334.84 L43.51 333.45 L43.64 332.02 L43.78 330.56 L43.92 329.08 L44.06 327.57 L44.19 326.04 L44.33 324.49 L44.47 322.93 L44.6 321.37 L44.74 319.8 L44.88 318.23 L45.02 316.67 L45.15 315.11 L45.29 313.56 L45.43 312.03 L45.56 310.52 L45.7 309.04 L45.84 307.58 L45.98 306.15 L46.11 304.76 L46.25 303.4 L46.39 302.09 L46.52 300.82 L46.66 299.59 L46.8 298.42 L46.94 297.31 L47.07 296.25 L47.21 295.25 L47.35 294.31 L47.48 293.43 L47.62 292.63 L47.76 291.89 L47.9 291.22 L48.03 290.62 L48.17 290.1 L48.31 289.65 L48.44 289.28 L48.58 288.99 L48.72 288.77 L48.86 288.63 L48.99 288.58 L49.13 288.6 L49.27 288.69 L49.4 288.87 L49.54 289.13 L49.68 289.46 L49.82 289.87 L49.95 290.35 L50.09 290.91 L50.23 291.55 L50.36 292.25 L50.5 293.02 L50.64 293.86 L50.78 294.77 L50.91 295.74 L51.05 296.77 L51.19 297.86 L51.32 299 L51.46 300.2 L51.6 301.45 L51.74 302.74 L51.87 304.07 L52.01 305.45 L52.15 306.86 L52.28 308.3 L52.42 309.78 L52.56 311.28 L52.7 312.8 L52.83 314.33 L52.97 315.89 L53.11 317.45 L53.24 319.02 L53.38 320.58 L53.52 322.15 L53.66 323.71 L53.79 325.27 L53.93 326.8 L54.07 328.32 L54.2 329.82 L54.34 331.3 L54.48 332.74 L54.62 334.15 L54.75 335.53 L54.89 336.86 L55.03 338.15 L55.16 339.4 L55.3 340.6 L55.44 341.74 L55.58 342.83 L55.71 343.86 L55.85 344.83 L55.99 345.74 L56.12 346.58 L56.26 347.35 L56.4 348.05 L56.54 348.69 L56.67 349.25 L56.81 349.73 L56.95 350.14 L57.08 350.47 L57.22 350.73 L57.36 350.91 L57.5 351 L57.63 351.02 L57.77 350.97 L57.91 350.83 L58.04 350.61 L58.18 350.32 L58.32 349.95 L58.45 349.5 L58.59 348.98 L58.73 348.38 L58.87 347.71 L59 346.97 L59.14 346.17 L59.28 345.29 L59.41 344.35 L59.55 343.35 L59.69 342.29 L59.83 341.18 L59.96 340.01 L60.1 338.78 L60.24 337.51 L60.37 336.2 L60.51 334.84 L60.65 333.45 L60.79 332.02 L60.92 330.56 L61.06 329.08 L61.2 327.57 L61.33 326.04 L61.47 324.49 L61.61 322.93 L61.75 321.37 L61.88 319.8 L62.02 318.23 L62.16 316.67 L62.29 315.11 L62.43 313.56 L62.57 312.03 L62.71 310.52 L62.84 309.04 L62.98 307.58 L63.12 306.15 L63.25 304.76 L63.39 303.4 L63.53 302.09 L63.67 300.82 L63.8 299.59 L63.94 298.42 L64.08 297.31 L64.21 296.25 L64.35 295.25 L64.49 294.31 L64.63 293.43 L64.76 292.63 L64.9 291.89 L65.04 291.22 L65.17 290.62 L65.31 290.1 L65.45 289.65 L65.59 289.28 L65.72 288.99 L65.86 288.77 L66 288.63 L66.13 288.58 L66.27 288.6 L66.41 288.69 L66.55 288.87 L66.68 289.13 L66.82 289.46 L66.96 289.87 L67.09 290.35 L67.23 290.91 L67.37 291.55 L67.51 292.25 L67.64 293.02 L67.78 293.86 L67.92 294.77 L68.05 295.74 L68.19 296.77 L68.33 297.86 L68.47 299 L68.6 300.2 L68.74 301.45 L68.88 302.74 L69.01 304.07 L69.15 305.45 L69.29 306.86 L69.43 308.3 L69.56 309.78 L69.7 311.28 L69.84 312.8 L69.97 314.33 L70.11 315.89 L70.25 317.45 L70.39 319.02 L70.52 320.58 L70.66 322.15 L70.8 323.71 L70.93 325.27 L71.07 326.8 L71.21 328.32 L71.35 329.82 L71.48 331.3 L71.62 332.74 L71.76 334.15 L71.89 335.53 L72.03 336.86 L72.17 338.15 L72.31 339.4 L72.44 340.6 L72.58 341.74 L72.72 342.83 L72.85 343.86 L72.99 344.83 L73.13 345.74 L73.27 346.58 L73.4 347.35 L73.54 348.05 L73.68 348.69 L73.81 349.25 L73.95 349.73 L74.09 350.14 L74.23 350.47 L74.36 350.73 L74.5 350.91 L74.64 351 L74.77 351.02 L74.91 350.97 L75.05 350.83 L75.19 350.61 L75.32 350.32 L75.46 349.95 L75.6 349.5 L75.73 348.98 L75.87 348.38 L76.01 347.71 L76.15 346.97 L76.28 346.17 L76.42 345.29 L76.56 344.35 L76.69 343.35 L76.83 342.29 L76.97 341.18 L77.11 340.01 L77.24 338.78 L77.38 337.51 L77.52 336.2 L77.65 334.84 L77.79 333.45 L77.93 332.02 L78.07 330.56 L78.2 329.08 L78.34 327.57 L78.48 326.04 L78.61 324.49 L78.75 322.93 L78.89 321.37 L79.03 319.8 L79.16 318.23 L79.3 316.67 L79.44 315.11 L79.57 313.56 L79.71 312.03 L79.85 310.52 L79.98 309.04 L80.12 307.58 L80.26 306.15 L80.4 304.76 L80.53 303.4 L80.67 302.09 L80.81 300.82 L80.94 299.59 L81.08 298.42 L81.22 297.31 L81.36 296.25 L81.49 295.25 L81.63 294.31 L81.77 293.43 L81.9 292.63 L82.04 291.89 L82.18 291.22 L82.32 290.62 L82.45 290.1 L82.59 289.65 L82.73 289.28 L82.86 288.99 L83 288.77 L83.14 288.63 L83.28 288.58 L83.41 288.6 L83.55 288.69 L83.69 288.87 L83.82 289.13 L83.96 289.46 L84.1 289.87 L84.24 290.35 L84.37 290.91 L84.51 291.55 L84.65 292.25 L84.78 293.02 L84.92 293.86 L85.06 294.77 L85.2 295.74 L85.33 296.77 L85.47 297.86 L85.61 299 L85.74 300.2 L85.88 301.45 L86.02 302.74 L86.16 304.07 L86.29 305.45 L86.43 306.86 L86.57 308.3 L86.7 309.78 L86.84 311.28 L86.98 312.8 L87.12 314.33 L87.25 315.89 L87.39 317.45 L87.53 319.02 L87.66 320.58 L87.8 322.15 L87.94 323.71 L88.08 325.27 L88.21 326.8 L88.35 328.32 L88.49 329.82 L88.62 331.3 L88.76 332.74 L88.9 334.15 L89.04 335.53 L89.17 336.86 L89.31 338.15 L89.45 339.4 L89.58 340.6 L89.72 341.74 L89.86 342.83 L90 343.86 L90.13 344.83 L90.27 345.74 L90.41 346.58 L90.54 347.35 L90.68 348.05 L90.82 348.69 L90.96 349.25 L91.09 349.73 L91.23 350.14 L91.37 350.47 L91.5 350.73 L91.64 350.91 L91.78 351 L91.92 351.02 L92.05 350.97 L92.19 350.83 L92.33 350.61 L92.46 350.32 L92.6 349.95 L92.74 349.5 L92.88 348.98 L93.01 348.38 L93.15 347.71 L93.29 346.97 L93.42 346.17 L93.56 345.29 L93.7 344.35 L93.84 343.35 L93.97 342.29 L94.11 341.18 L94.25 340.01 L94.38 338.78 L94.52 337.51 L94.66 336.2 L94.8 334.84 L94.93 333.45 L95.07 332.02 L95.21 330.56 L95.34 329.08 L95.48 327.57 L95.62 326.04 L95.76 324.49 L95.89 322.93 L96.03 321.37 L96.17 319.8 L96.3 318.23 L96.44 316.67 L96.58 315.11 L96.72 313.56 L96.85 312.03 L96.99 310.52 L97.13 309.04 L97.26 307.58 L97.4 306.15 L97.54 304.76 L97.68 303.4 L97.81 302.09 L97.95 300.82 L98.09 299.59 L98.22 298.42 L98.36 297.31 L98.5 296.25 L98.64 295.25 L98.77 294.31 L98.91 293.43 L99.05 292.63 L99.18 291.89 L99.32 291.22 L99.46 290.62 L99.59 290.1 L99.73 289.65 L99.87 289.28 L100.01 288.99 L100.14 288.77 L100.28 288.63 L100.42 288.58 L100.55 288.6 L100.69 288.69 L100.83 288.87 L100.97 289.13 L101.1 289.46 L101.24 289.87 L101.38 290.35 L101.51 290.91 L101.65 291.55 L101.79 292.25 L101.93 293.02 L102.06 293.86 L102.2 294.77 L102.34 295.74 L102.47 296.77 L102.61 297.86 L102.75 299 L102.89 300.2 L103.02 301.45 L103.16 302.74 L103.3 304.07 L103.43 305.45 L103.57 306.86 L103.71 308.3 L103.85 309.78 L103.98 311.28 L104.12 312.8 L104.26 314.33 L104.39 315.89 L104.53 317.45 L104.67 319.02 L104.81 320.58 L104.94 322.15 L105.08 323.71 L105.22 325.27 L105.35 326.8 L105.49 328.32 L105.63 329.82 L105.77 331.3 L105.9 332.74 L106.04 334.15 L106.18 335.53 L106.31 336.86 L106.45 338.15 L106.59 339.4 L106.73 340.6 L106.86 341.74 L107 342.83 L107.14 343.86 L107.27 344.83 L107.41 345.74 L107.55 346.58 L107.69 347.35 L107.82 348.05 L107.96 348.69 L108.1 349.25 L108.23 349.73 L108.37 350.14 L108.51 350.47 L108.65 350.73 L108.78 350.91 L108.92 351 L109.06 351.02 L109.19 350.97 L109.33 350.83 L109.47 350.61 L109.61 350.32 L109.74 349.95 L109.88 349.5 L110.02 348.98 L110.15 348.38 L110.29 347.71 L110.43 346.97 L110.57 346.17 L110.7 345.29 L110.84 344.35 L110.98 343.35 L111.11 342.29 L111.25 341.18 L111.39 340.01 L111.53 338.78 L111.66 337.51 L111.8 336.2 L111.94 334.84 L112.07 333.45 L112.21 332.02 L112.35 330.56 L112.49 329.08 L112.62 327.57 L112.76 326.04 L112.9 324.49 L113.03 322.93 L113.17 321.37 L113.31 319.8 L113.45 318.23 L113.58 316.67 L113.72 315.11 L113.86 313.56 L113.99 312.03 L114.13 310.52 L114.27 309.04 L114.41 307.58 L114.54 306.15 L114.68 304.76 L114.82 303.4 L114.95 302.09 L115.09 300.82 L115.23 299.59 L115.37 298.42 L115.5 297.31 L115.64 296.25 L115.78 295.25 L115.91 294.31 L116.05 293.43 L116.19 292.63 L116.33 291.89 L116.46 291.22 L116.6 290.62 L116.74 290.1 L116.87 289.65 L117.01 289.28 L117.15 288.99 L117.29 288.77 L117.42 288.63 L117.56 288.58 L117.7 288.6 L117.83 288.69 L117.97 288.87 L118.11 289.13 L118.25 289.46 L118.38 289.87 L118.52 290.35 L118.66 290.91 L118.79 291.55 L118.93 292.25 L119.07 293.02 L119.21 293.86 L119.34 294.77 L119.48 295.74 L119.62 296.77 L119.75 297.86 L119.89 299 L120.03 300.2 L120.17 301.45 L120.3 302.74 L120.44 304.07 L120.58 305.45 L120.71 306.86 L120.85 308.3 L120.99 309.78 L121.12 311.28 L121.26 312.8 L121.4 314.33 L121.54 315.89 L121.67 317.45 L121.81 319.02 L121.95 320.58 L122.08 322.15 L122.22 323.71 L122.36 325.27 L122.5 326.8 L122.63 328.32 L122.77 329.82 L122.91 331.3 L123.04 332.74 L123.18 334.15 L123.32 335.53 L123.46 336.86 L123.59 338.15 L123.73 339.4 L123.87 340.6 L124 341.74 L124.14 342.83 L124.28 343.86 L124.42 344.83 L124.55 345.74 L124.69 346.58 L124.83 347.35 L124.96 348.05 L125.1 348.69 L125.24 349.25 L125.38 349.73 L125.51 350.14 L125.65 350.47 L125.79 350.73 L125.92 350.91 L126.06 351 L126.2 351.02 L126.34 350.97 L126.47 350.83 L126.61 350.61 L126.75 350.32 L126.88 349.95 L127.02 349.5 L127.16 348.98 L127.3 348.38 L127.43 347.71 L127.57 346.97 L127.71 346.17 L127.84 345.29 L127.98 344.35 L128.12 343.35 L128.26 342.29 L128.39 341.18 L128.53 340.01 L128.67 338.78 L128.8 337.51 L128.94 336.2 L129.08 334.84 L129.22 333.45 L129.35 332.02 L129.49 330.56 L129.63 329.08 L129.76 327.57 L129.9 326.04 L130.04 324.49 L130.18 322.93 L130.31 321.37 L130.45 319.8 L130.59 318.23 L130.72 316.67 L130.86 315.11 L131 313.56 L131.14 312.03 L131.27 310.52 L131.41 309.04 L131.55 307.58 L131.68 306.15 L131.82 304.76 L131.96 303.4 L132.1 302.09 L132.23 300.82 L132.37 299.59 L132.51 298.42 L132.64 297.31 L132.78 296.25 L132.92 295.25 L133.06 294.31 L133.19 293.43 L133.33 292.63 L133.47 291.89 L133.6 291.22 L133.74 290.62 L133.88 290.1 L134.02 289.65 L134.15 289.28 L134.29 288.99 L134.43 288.77 L134.56 288.63 L134.7 288.58 L134.84 288.6 L134.98 288.69 L135.11 288.87 L135.25 289.13 L135.39 289.46 L135.52 289.87 L135.66 290.35 L135.8 290.91 L135.94 291.55 L136.07 292.25 L136.21 293.02 L136.35 293.86 L136.48 294.77 L136.62 295.74 L136.76 296.77 L136.9 297.86 L137.03 299 L137.17 300.2 L137.31 301.45 L137.44 302.74 L137.58 304.07 L137.72 305.45 L137.86 306.86 L137.99 308.3 L138.13 309.78 L138.27 311.28 L138.4 312.8 L138.54 314.33 L138.68 315.89 L138.82 317.45 L138.95 319.02 L139.09 320.58 L139.23 322.15 L139.36 323.71 L139.5 325.27 L139.64 326.8 L139.78 328.32 L139.91 329.82 L140.05 331.3 L140.19 332.74 L140.32 334.15 L140.46 335.53 L140.6 336.86 L140.74 338.15 L140.87 339.4 L141.01 340.6 L141.15 341.74 L141.28 342.83 L141.42 343.86 L141.56 344.83 L141.69 345.74 L141.83 346.58 L141.97 347.35 L142.11 348.05 L142.24 348.69 L142.38 349.25 L142.52 349.73 L142.65 350.14 L142.79 350.47 L142.93 350.73 L143.07 350.91 L143.2 351 L143.34 351.02 L143.48 350.97 L143.61 350.83 L143.75 350.61 L143.89 350.32 L144.03 349.95 L144.16 349.5 L144.3 348.98 L144.44 348.38 L144.57 347.71 L144.71 346.97 L144.85 346.17 L144.99 345.29 L145.12 344.35 L145.26 343.35 L145.4 342.29 L145.53 341.18 L145.67 340.01 L145.81 338.78 L145.95 337.51 L146.08 336.2 L146.22 334.84 L146.36 333.45 L146.49 332.02 L146.63 330.56 L146.77 329.08 L146.91 327.57 L147.04 326.04 L147.18 324.49 L147.32 322.93 L147.45 321.37 L147.59 319.8 L147.73 318.23 L147.87 316.67 L148 315.11 L148.14 313.56 L148.28 312.03 L148.41 310.52 L148.55 309.04 L148.69 307.58 L148.83 306.15 L148.96 304.76 L149.1 303.4 L149.24 302.09 L149.37 300.82 L149.51 299.59 L149.65 298.42 L149.79 297.31 L149.92 296.25 L150.06 295.25 L150.2 294.31 L150.33 293.43 L150.47 292.63 L150.61 291.89 L150.75 291.22 L150.88 290.62 L151.02 290.1 L151.16 289.65 L151.29 289.28 L151.43 288.99 L151.57 288.77 L151.71 288.63 L151.84 288.58 L151.98 288.6 L152.12 288.69 L152.25 288.87 L152.39 289.13 L152.53 289.46 L152.67 289.87 L152.8 290.35 L152.94 290.91 L153.08 291.55 L153.21 292.25 L153.35 293.02 L153.49 293.86 L153.63 294.77 L153.76 295.74 L153.9 296.77 L154.04 297.86 L154.17 299 L154.31 300.2 L154.45 301.45 L154.59 302.74 L154.72 304.07 L154.86 305.45 L155 306.86 L155.13 308.3 L155.27 309.78 L155.41 311.28 L155.55 312.8 L155.68 314.33 L155.82 315.89 L155.96 317.45 L156.09 319.02 L156.23 320.58 L156.37 322.15 L156.51 323.71 L156.64 325.27 L156.78 326.8 L156.92 328.32 L157.05 329.82 L157.19 331.3 L157.33 332.74 L157.47 334.15 L157.6 335.53 L157.74 336.86 L157.88 338.15 L158.01 339.4 L158.15 340.6 L158.29 341.74 L158.43 342.83 L158.56 343.86 L158.7 344.83 L158.84 345.74 L158.97 346.58 L159.11 347.35 L159.25 348.05 L159.39 348.69 L159.52 349.25 L159.66 349.73 L159.8 350.14 L159.93 350.47 L160.07 350.73 L160.21 350.91 L160.35 351 L160.48 351.02 L160.62 350.97 L160.76 350.83 L160.89 350.61 L161.03 350.32 L161.17 349.95 L161.31 349.5 L161.44 348.98 L161.58 348.38 L161.72 347.71 L161.85 346.97 L161.99 346.17 L162.13 345.29 L162.26 344.35 L162.4 343.35 L162.54 342.29 L162.68 341.18 L162.81 340.01 L162.95 338.78 L163.09 337.51 L163.22 336.2 L163.36 334.84 L163.5 333.45 L163.64 332.02 L163.77 330.56 L163.91 329.08 L164.05 327.57 L164.18 326.04 L164.32 324.49 L164.46 322.93 L164.6 321.37 L164.73 319.8 L164.87 318.23 L165.01 316.67 L165.14 315.11 L165.28 313.56 L165.42 312.03 L165.56 310.52 L165.69 309.04 L165.83 307.58 L165.97 306.15 L166.1 304.76 L166.24 303.4 L166.38 302.09 L166.52 300.82 L166.65 299.59 L166.79 298.42 L166.93 297.31 L167.06 296.25 L167.2 295.25 L167.34 294.31 L167.48 293.43 L167.61 292.63 L167.75 291.89 L167.89 291.22 L168.02 290.62 L168.16 290.1 L168.3 289.65 L168.44 289.28 L168.57 288.99 L168.71 288.77 L168.85 288.63 L168.98 288.58 L169.12 288.6 L169.26 288.69 L169.4 288.87 L169.53 289.13 L169.67 289.46 L169.81 289.87 L169.94 290.35 L170.08 290.91 L170.22 291.55 L170.36 292.25 L170.49 293.02 L170.63 293.86 L170.77 294.77 L170.9 295.74 L171.04 296.77 L171.18 297.86 L171.32 299 L171.45 300.2 L171.59 301.45 L171.73 302.74 L171.86 304.07 L172 305.45 L172.14 306.86 L172.28 308.3 L172.41 309.78 L172.55 311.28 L172.69 312.8 L172.82 314.33 L172.96 315.89 L173.1 317.45 L173.24 319.02 L173.37 320.58 L173.51 322.15 L173.65 323.71 L173.78 325.27 L173.92 326.8 L174.06 328.32 L174.2 329.82 L174.33 331.3 L174.47 332.74 L174.61 334.15 L174.74 335.53 L174.88 336.86 L175.02 338.15 L175.16 339.4 L175.29 340.6 L175.43 341.74 L175.57 342.83 L175.7 343.86 L175.84 344.83 L175.98 345.74 L176.12 346.58 L176.25 347.35 L176.39 348.05 L176.53 348.69 L176.66 349.25 L176.8 349.73 L176.94 350.14 L177.08 350.47 L177.21 350.73 L177.35 350.91 L177.49 351 L177.62 351.02 L177.76 350.97 L177.9 350.83 L178.04 350.61 L178.17 350.32 L178.31 349.95 L178.45 349.5 L178.58 348.98 L178.72 348.38 L178.86 347.71 L179 346.97 L179.13 346.17 L179.27 345.29 L179.41 344.35 L179.54 343.35 L179.68 342.29 L179.82 341.18 L179.96 340.01 L180.09 338.78 L180.23 337.51 L180.37 336.2 L180.5 334.84 L180.64 333.45 L180.78 332.02 L180.92 330.56 L181.05 329.08 L181.19 327.57 L181.33 326.04 L181.46 324.49 L181.6 322.93 L181.74 321.37 L181.88 319.8 L182.01 318.23 L182.15 316.67 L182.29 315.11 L182.42 313.56 L182.56 312.03 L182.7 310.52 L182.83 309.04 L182.97 307.58 L183.11 306.15 L183.25 304.76 L183.38 303.4 L183.52 302.09 L183.66 300.82 L183.79 299.59 L183.93 298.42 L184.07 297.31 L184.21 296.25 L184.34 295.25 L184.48 294.31 L184.62 293.43 L184.75 292.63 L184.89 291.89 L185.03 291.22 L185.17 290.62 L185.3 290.1 L185.44 289.65 L185.58 289.28 L185.71 288.99 L185.85 288.77 L185.99 288.63 L186.13 288.58 L186.26 288.6 L186.4 288.69 L186.54 288.87 L186.67 289.13 L186.81 289.46 L186.95 289.87 L187.09 290.35 L187.22 290.91 L187.36 291.55 L187.5 292.25 L187.63 293.02 L187.77 293.86 L187.91 294.77 L188.05 295.74 L188.18 296.77 L188.32 297.86 L188.46 299 L188.59 300.2 L188.73 301.45 L188.87 302.74 L189.01 304.07 L189.14 305.45 L189.28 306.86 L189.42 308.3 L189.55 309.78 L189.69 311.28 L189.83 312.8 L189.97 314.33 L190.1 315.89 L190.24 317.45 L190.38 319.02 L190.51 320.58 L190.65 322.15 L190.79 323.71 L190.93 325.27 L191.06 326.8 L191.2 328.32 L191.34 329.82 L191.47 331.3 L191.61 332.74 L191.75 334.15 L191.89 335.53 L192.02 336.86 L192.16 338.15 L192.3 339.4 L192.43 340.6 L192.57 341.74 L192.71 342.83 L192.85 343.86 L192.98 344.83 L193.12 345.74 L193.26 346.58 L193.39 347.35 L193.53 348.05 L193.67 348.69 L193.81 349.25 L193.94 349.73 L194.08 350.14 L194.22 350.47 L194.35 350.73 L194.49 350.91 L194.63 351 L194.77 351.02 L194.9 350.97 L195.04 350.83 L195.18 350.61 L195.31 350.32 L195.45 349.95 L195.59 349.5 L195.73 348.98 L195.86 348.38 L196 347.71 L196.14 346.97 L196.27 346.17 L196.41 345.29 L196.55 344.35 L196.69 343.35 L196.82 342.29 L196.96 341.18 L197.1 340.01 L197.23 338.78 L197.37 337.51 L197.51 336.2 L197.65 334.84 L197.78 333.45 L197.92 332.02 L198.06 330.56 L198.19 329.08 L198.33 327.57 L198.47 326.04 L198.61 324.49 L198.74 322.93 L198.88 321.37 L199.02 319.8 L199.15 318.23 L199.29 316.67 L199.43 315.11 L199.57 313.56 L199.7 312.03 L199.84 310.52 L199.98 309.04 L200.11 307.58 L200.25 306.15 L200.39 304.76 L200.53 303.4 L200.66 302.09 L200.8 300.82 L200.94 299.59 L201.07 298.42 L201.21 297.31 L201.35 296.25 L201.49 295.25 L201.62 294.31 L201.76 293.43 L201.9 292.63 L202.03 291.89 L202.17 291.22 L202.31 290.62 L202.44 290.1 L202.58 289.65 L202.72 289.28 L202.86 288.99 L202.99 288.77 L203.13 288.63 L203.27 288.58 L203.4 288.6 L203.54 288.69 L203.68 288.87 L203.82 289.13 L203.95 289.46 L204.09 289.87 L204.23 290.35 L204.36 290.91 L204.5 291.55 L204.64 292.25 L204.78 293.02 L204.91 293.86 L205.05 294.77 L205.19 295.74 L205.32 296.77 L205.46 297.86 L205.6 299 L205.74 300.2 L205.87 301.45 L206.01 302.74 L206.15 304.07 L206.28 305.45 L206.42 306.86 L206.56 308.3 L206.7 309.78 L206.83 311.28 L206.97 312.8 L207.11 314.33 L207.24 315.89 L207.38 317.45 L207.52 319.02 L207.66 320.58 L207.79 322.15 L207.93 323.71 L208.07 325.27 L208.2 326.8 L208.34 328.32 L208.48 329.82 L208.62 331.3 L208.75 332.74 L208.89 334.15 L209.03 335.53 L209.16 336.86 L209.3 338.15 L209.44 339.4 L209.58 340.6 L209.71 341.74 L209.85 342.83 L209.99 343.86 L210.12 344.83 L210.26 345.74 L210.4 346.58 L210.54 347.35 L210.67 348.05 L210.81 348.69 L210.95 349.25 L211.08 349.73 L211.22 350.14 L211.36 350.47 L211.5 350.73 L211.63 350.91 L211.77 351 L211.91 351.02 L212.04 350.97 L212.18 350.83 L212.32 350.61 L212.46 350.32 L212.59 349.95 L212.73 349.5 L212.87 348.98 L213 348.38 L213.14 347.71 L213.28 346.97 L213.42 346.17 L213.55 345.29 L213.69 344.35 L213.83 343.35 L213.96 342.29 L214.1 341.18 L214.24 340.01 L214.38 338.78 L214.51 337.51 L214.65 336.2 L214.79 334.84 L214.92 333.45 L215.06 332.02 L215.2 330.56 L215.34 329.08 L215.47 327.57 L215.61 326.04 L215.75 324.49 L215.88 322.93 L216.02 321.37 L216.16 319.8 L216.3 318.23 L216.43 316.67 L216.57 315.11 L216.71 313.56 L216.84 312.03 L216.98 310.52 L217.12 309.04 L217.26 307.58 L217.39 306.15 L217.53 304.76 L217.67 303.4 L217.8 302.09 L217.94 300.82 L218.08 299.59 L218.22 298.42 L218.35 297.31 L218.49 296.25 L218.63 295.25 L218.76 294.31 L218.9 293.43 L219.04 292.63 L219.18 291.89 L219.31 291.22 L219.45 290.62 L219.59 290.1 L219.72 289.65 L219.86 289.28 L220 288.99 L220.14 288.77 L220.27 288.63 L220.41 288.58 L220.55 288.6 L220.68 288.69 L220.82 288.87 L220.96 289.13 L221.1 289.46 L221.23 289.87 L221.37 290.35 L221.51 290.91 L221.64 291.55 L221.78 292.25 L221.92 293.02 L222.06 293.86 L222.19 294.77 L222.33 295.74 L222.47 296.77 L222.6 297.86 L222.74 299 L222.88 300.2 L223.02 301.45 L223.15 302.74 L223.29 304.07 L223.43 305.45 L223.56 306.86 L223.7 308.3 L223.84 309.78 L223.97 311.28 L224.11 312.8 L224.25 314.33 L224.39 315.89 L224.52 317.45 L224.66 319.02 L224.8 320.58 L224.93 322.15 L225.07 323.71 L225.21 325.27 L225.35 326.8 L225.48 328.32 L225.62 329.82 L225.76 331.3 L225.89 332.74 L226.03 334.15 L226.17 335.53 L226.31 336.86 L226.44 338.15 L226.58 339.4 L226.72 340.6 L226.85 341.74 L226.99 342.83 L227.13 343.86 L227.27 344.83 L227.4 345.74 L227.54 346.58 L227.68 347.35 L227.81 348.05 L227.95 348.69 L228.09 349.25 L228.23 349.73 L228.36 350.14 L228.5 350.47 L228.64 350.73 L228.77 350.91 L228.91 351 L229.05 351.02 L229.19 350.97 L229.32 350.83 L229.46 350.61 L229.6 350.32 L229.73 349.95 L229.87 349.5 L230.01 348.98 L230.15 348.38 L230.28 347.71 L230.42 346.97 L230.56 346.17 L230.69 345.29 L230.83 344.35 L230.97 343.35 L231.11 342.29 L231.24 341.18 L231.38 340.01 L231.52 338.78 L231.65 337.51 L231.79 336.2 L231.93 334.84 L232.07 333.45 L232.2 332.02 L232.34 330.56 L232.48 329.08 L232.61 327.57 L232.75 326.04 L232.89 324.49 L233.03 322.93 L233.16 321.37 L233.3 319.8" stroke="#e2c8a4" stroke-width="0.75" fill="none" stroke-linejoin="round" opacity="1.0"/>
<path d="M27.6 340.78 L27.74 335.11 L27.87 329.29 L28.01 323.37 L28.15 317.42 L28.29 311.49 L28.42 305.64 L28.56 299.94 L28.7 294.44 L28.83 289.19 L28.97 284.26 L29.11 279.68 L29.25 275.51 L29.38 271.78 L29.52 268.54 L29.66 265.82 L29.79 263.64 L29.93 262.03 L30.07 261 L30.21 260.57 L30.34 260.73 L30.48 261.49 L30.62 262.84 L30.75 264.77 L30.89 267.25 L31.03 270.26 L31.17 273.77 L31.3 277.75 L31.44 282.15 L31.58 286.93 L31.71 292.04 L31.85 297.44 L31.99 303.06 L32.13 308.84 L32.26 314.74 L32.4 320.69 L32.54 326.63 L32.67 332.51 L32.81 338.25 L32.95 343.81 L33.09 349.12 L33.22 354.14 L33.36 358.81 L33.5 363.09 L33.63 366.93 L33.77 370.3 L33.91 373.15 L34.05 375.47 L34.18 377.22 L34.32 378.4 L34.46 378.98 L34.59 378.97 L34.73 378.35 L34.87 377.15 L35.01 375.37 L35.14 373.02 L35.28 370.14 L35.42 366.75 L35.55 362.89 L35.69 358.59 L35.83 353.9 L35.97 348.86 L36.1 343.54 L36.24 337.97 L36.38 332.22 L36.51 326.34 L36.65 320.4 L36.79 314.45 L36.93 308.55 L37.06 302.77 L37.2 297.16 L37.34 291.78 L37.47 286.68 L37.61 281.92 L37.75 277.54 L37.89 273.58 L38.02 270.1 L38.16 267.11 L38.3 264.66 L38.43 262.76 L38.57 261.44 L38.71 260.71 L38.84 260.57 L38.98 261.04 L39.12 262.09 L39.26 263.73 L39.39 265.94 L39.53 268.69 L39.67 271.95 L39.8 275.7 L39.94 279.9 L40.08 284.49 L40.22 289.45 L40.35 294.71 L40.49 300.22 L40.63 305.93 L40.76 311.78 L40.9 317.72 L41.04 323.67 L41.18 329.58 L41.31 335.4 L41.45 341.06 L41.59 346.5 L41.72 351.67 L41.86 356.52 L42 361 L42.14 365.07 L42.27 368.68 L42.41 371.79 L42.55 374.38 L42.68 376.42 L42.82 377.88 L42.96 378.76 L43.1 379.05 L43.23 378.73 L43.37 377.82 L43.51 376.33 L43.64 374.26 L43.78 371.65 L43.92 368.51 L44.06 364.88 L44.19 360.79 L44.33 356.29 L44.47 351.42 L44.6 346.23 L44.74 340.78 L44.88 335.11 L45.02 329.29 L45.15 323.37 L45.29 317.42 L45.43 311.49 L45.56 305.64 L45.7 299.94 L45.84 294.44 L45.98 289.19 L46.11 284.26 L46.25 279.68 L46.39 275.51 L46.52 271.78 L46.66 268.54 L46.8 265.82 L46.94 263.64 L47.07 262.03 L47.21 261 L47.35 260.57 L47.48 260.73 L47.62 261.49 L47.76 262.84 L47.9 264.77 L48.03 267.25 L48.17 270.26 L48.31 273.77 L48.44 277.75 L48.58 282.15 L48.72 286.93 L48.86 292.04 L48.99 297.44 L49.13 303.06 L49.27 308.84 L49.4 314.74 L49.54 320.69 L49.68 326.63 L49.82 332.51 L49.95 338.25 L50.09 343.81 L50.23 349.12 L50.36 354.14 L50.5 358.81 L50.64 363.09 L50.78 366.93 L50.91 370.3 L51.05 373.15 L51.19 375.47 L51.32 377.22 L51.46 378.4 L51.6 378.98 L51.74 378.97 L51.87 378.35 L52.01 377.15 L52.15 375.37 L52.28 373.02 L52.42 370.14 L52.56 366.75 L52.7 362.89 L52.83 358.59 L52.97 353.9 L53.11 348.86 L53.24 343.54 L53.38 337.97 L53.52 332.22 L53.66 326.34 L53.79 320.4 L53.93 314.45 L54.07 308.55 L54.2 302.77 L54.34 297.16 L54.48 291.78 L54.62 286.68 L54.75 281.92 L54.89 277.54 L55.03 273.58 L55.16 270.1 L55.3 267.11 L55.44 264.66 L55.58 262.76 L55.71 261.44 L55.85 260.71 L55.99 260.57 L56.12 261.04 L56.26 262.09 L56.4 263.73 L56.54 265.94 L56.67 268.69 L56.81 271.95 L56.95 275.7 L57.08 279.9 L57.22 284.49 L57.36 289.45 L57.5 294.71 L57.63 300.22 L57.77 305.93 L57.91 311.78 L58.04 317.72 L58.18 323.67 L58.32 329.58 L58.45 335.4 L58.59 341.06 L58.73 346.5 L58.87 351.67 L59 356.52 L59.14 361 L59.28 365.07 L59.41 368.68 L59.55 371.79 L59.69 374.38 L59.83 376.42 L59.96 377.88 L60.1 378.76 L60.24 379.05 L60.37 378.73 L60.51 377.82 L60.65 376.33 L60.79 374.26 L60.92 371.65 L61.06 368.51 L61.2 364.88 L61.33 360.79 L61.47 356.29 L61.61 351.42 L61.75 346.23 L61.88 340.78 L62.02 335.11 L62.16 329.29 L62.29 323.37 L62.43 317.42 L62.57 311.49 L62.71 305.64 L62.84 299.94 L62.98 294.44 L63.12 289.19 L63.25 284.26 L63.39 279.68 L63.53 275.51 L63.67 271.78 L63.8 268.54 L63.94 265.82 L64.08 263.64 L64.21 262.03 L64.35 261 L64.49 260.57 L64.63 260.73 L64.76 261.49 L64.9 262.84 L65.04 264.77 L65.17 267.25 L65.31 270.26 L65.45 273.77 L65.59 277.75 L65.72 282.15 L65.86 286.93 L66 292.04 L66.13 297.44 L66.27 303.06 L66.41 308.84 L66.55 314.74 L66.68 320.69 L66.82 326.63 L66.96 332.51 L67.09 338.25 L67.23 343.81 L67.37 349.12 L67.51 354.14 L67.64 358.81 L67.78 363.09 L67.92 366.93 L68.05 370.3 L68.19 373.15 L68.33 375.47 L68.47 377.22 L68.6 378.4 L68.74 378.98 L68.88 378.97 L69.01 378.35 L69.15 377.15 L69.29 375.37 L69.43 373.02 L69.56 370.14 L69.7 366.75 L69.84 362.89 L69.97 358.59 L70.11 353.9 L70.25 348.86 L70.39 343.54 L70.52 337.97 L70.66 332.22 L70.8 326.34 L70.93 320.4 L71.07 314.45 L71.21 308.55 L71.35 302.77 L71.48 297.16 L71.62 291.78 L71.76 286.68 L71.89 281.92 L72.03 277.54 L72.17 273.58 L72.31 270.1 L72.44 267.11 L72.58 264.66 L72.72 262.76 L72.85 261.44 L72.99 260.71 L73.13 260.57 L73.27 261.04 L73.4 262.09 L73.54 263.73 L73.68 265.94 L73.81 268.69 L73.95 271.95 L74.09 275.7 L74.23 279.9 L74.36 284.49 L74.5 289.45 L74.64 294.71 L74.77 300.22 L74.91 305.93 L75.05 311.78 L75.19 317.72 L75.32 323.67 L75.46 329.58 L75.6 335.4 L75.73 341.06 L75.87 346.5 L76.01 351.67 L76.15 356.52 L76.28 361 L76.42 365.07 L76.56 368.68 L76.69 371.79 L76.83 374.38 L76.97 376.42 L77.11 377.88 L77.24 378.76 L77.38 379.05 L77.52 378.73 L77.65 377.82 L77.79 376.33 L77.93 374.26 L78.07 371.65 L78.2 368.51 L78.34 364.88 L78.48 360.79 L78.61 356.29 L78.75 351.42 L78.89 346.23 L79.03 340.78 L79.16 335.11 L79.3 329.29 L79.44 323.37 L79.57 317.42 L79.71 311.49 L79.85 305.64 L79.98 299.94 L80.12 294.44 L80.26 289.19 L80.4 284.26 L80.53 279.68 L80.67 275.51 L80.81 271.78 L80.94 268.54 L81.08 265.82 L81.22 263.64 L81.36 262.03 L81.49 261 L81.63 260.57 L81.77 260.73 L81.9 261.49 L82.04 262.84 L82.18 264.77 L82.32 267.25 L82.45 270.26 L82.59 273.77 L82.73 277.75 L82.86 282.15 L83 286.93 L83.14 292.04 L83.28 297.44 L83.41 303.06 L83.55 308.84 L83.69 314.74 L83.82 320.69 L83.96 326.63 L84.1 332.51 L84.24 338.25 L84.37 343.81 L84.51 349.12 L84.65 354.14 L84.78 358.81 L84.92 363.09 L85.06 366.93 L85.2 370.3 L85.33 373.15 L85.47 375.47 L85.61 377.22 L85.74 378.4 L85.88 378.98 L86.02 378.97 L86.16 378.35 L86.29 377.15 L86.43 375.37 L86.57 373.02 L86.7 370.14 L86.84 366.75 L86.98 362.89 L87.12 358.59 L87.25 353.9 L87.39 348.86 L87.53 343.54 L87.66 337.97 L87.8 332.22 L87.94 326.34 L88.08 320.4 L88.21 314.45 L88.35 308.55 L88.49 302.77 L88.62 297.16 L88.76 291.78 L88.9 286.68 L89.04 281.92 L89.17 277.54 L89.31 273.58 L89.45 270.1 L89.58 267.11 L89.72 264.66 L89.86 262.76 L90 261.44 L90.13 260.71 L90.27 260.57 L90.41 261.04 L90.54 262.09 L90.68 263.73 L90.82 265.94 L90.96 268.69 L91.09 271.95 L91.23 275.7 L91.37 279.9 L91.5 284.49 L91.64 289.45 L91.78 294.71 L91.92 300.22 L92.05 305.93 L92.19 311.78 L92.33 317.72 L92.46 323.67 L92.6 329.58 L92.74 335.4 L92.88 341.06 L93.01 346.5 L93.15 351.67 L93.29 356.52 L93.42 361 L93.56 365.07 L93.7 368.68 L93.84 371.79 L93.97 374.38 L94.11 376.42 L94.25 377.88 L94.38 378.76 L94.52 379.05 L94.66 378.73 L94.8 377.82 L94.93 376.33 L95.07 374.26 L95.21 371.65 L95.34 368.51 L95.48 364.88 L95.62 360.79 L95.76 356.29 L95.89 351.42 L96.03 346.23 L96.17 340.78 L96.3 335.11 L96.44 329.29 L96.58 323.37 L96.72 317.42 L96.85 311.49 L96.99 305.64 L97.13 299.94 L97.26 294.44 L97.4 289.19 L97.54 284.26 L97.68 279.68 L97.81 275.51 L97.95 271.78 L98.09 268.54 L98.22 265.82 L98.36 263.64 L98.5 262.03 L98.64 261 L98.77 260.57 L98.91 260.73 L99.05 261.49 L99.18 262.84 L99.32 264.77 L99.46 267.25 L99.59 270.26 L99.73 273.77 L99.87 277.75 L100.01 282.15 L100.14 286.93 L100.28 292.04 L100.42 297.44 L100.55 303.06 L100.69 308.84 L100.83 314.74 L100.97 320.69 L101.1 326.63 L101.24 332.51 L101.38 338.25 L101.51 343.81 L101.65 349.12 L101.79 354.14 L101.93 358.81 L102.06 363.09 L102.2 366.93 L102.34 370.3 L102.47 373.15 L102.61 375.47 L102.75 377.22 L102.89 378.4 L103.02 378.98 L103.16 378.97 L103.3 378.35 L103.43 377.15 L103.57 375.37 L103.71 373.02 L103.85 370.14 L103.98 366.75 L104.12 362.89 L104.26 358.59 L104.39 353.9 L104.53 348.86 L104.67 343.54 L104.81 337.97 L104.94 332.22 L105.08 326.34 L105.22 320.4 L105.35 314.45 L105.49 308.55 L105.63 302.77 L105.77 297.16 L105.9 291.78 L106.04 286.68 L106.18 281.92 L106.31 277.54 L106.45 273.58 L106.59 270.1 L106.73 267.11 L106.86 264.66 L107 262.76 L107.14 261.44 L107.27 260.71 L107.41 260.57 L107.55 261.04 L107.69 262.09 L107.82 263.73 L107.96 265.94 L108.1 268.69 L108.23 271.95 L108.37 275.7 L108.51 279.9 L108.65 284.49 L108.78 289.45 L108.92 294.71 L109.06 300.22 L109.19 305.93 L109.33 311.78 L109.47 317.72 L109.61 323.67 L109.74 329.58 L109.88 335.4 L110.02 341.06 L110.15 346.5 L110.29 351.67 L110.43 356.52 L110.57 361 L110.7 365.07 L110.84 368.68 L110.98 371.79 L111.11 374.38 L111.25 376.42 L111.39 377.88 L111.53 378.76 L111.66 379.05 L111.8 378.73 L111.94 377.82 L112.07 376.33 L112.21 374.26 L112.35 371.65 L112.49 368.51 L112.62 364.88 L112.76 360.79 L112.9 356.29 L113.03 351.42 L113.17 346.23 L113.31 340.78 L113.45 335.11 L113.58 329.29 L113.72 323.37 L113.86 317.42 L113.99 311.49 L114.13 305.64 L114.27 299.94 L114.41 294.44 L114.54 289.19 L114.68 284.26 L114.82 279.68 L114.95 275.51 L115.09 271.78 L115.23 268.54 L115.37 265.82 L115.5 263.64 L115.64 262.03 L115.78 261 L115.91 260.57 L116.05 260.73 L116.19 261.49 L116.33 262.84 L116.46 264.77 L116.6 267.25 L116.74 270.26 L116.87 273.77 L117.01 277.75 L117.15 282.15 L117.29 286.93 L117.42 292.04 L117.56 297.44 L117.7 303.06 L117.83 308.84 L117.97 314.74 L118.11 320.69 L118.25 326.63 L118.38 332.51 L118.52 338.25 L118.66 343.81 L118.79 349.12 L118.93 354.14 L119.07 358.81 L119.21 363.09 L119.34 366.93 L119.48 370.3 L119.62 373.15 L119.75 375.47 L119.89 377.22 L120.03 378.4 L120.17 378.98 L120.3 378.97 L120.44 378.35 L120.58 377.15 L120.71 375.37 L120.85 373.02 L120.99 370.14 L121.12 366.75 L121.26 362.89 L121.4 358.59 L121.54 353.9 L121.67 348.86 L121.81 343.54 L121.95 337.97 L122.08 332.22 L122.22 326.34 L122.36 320.4 L122.5 314.45 L122.63 308.55 L122.77 302.77 L122.91 297.16 L123.04 291.78 L123.18 286.68 L123.32 281.92 L123.46 277.54 L123.59 273.58 L123.73 270.1 L123.87 267.11 L124 264.66 L124.14 262.76 L124.28 261.44 L124.42 260.71 L124.55 260.57 L124.69 261.04 L124.83 262.09 L124.96 263.73 L125.1 265.94 L125.24 268.69 L125.38 271.95 L125.51 275.7 L125.65 279.9 L125.79 284.49 L125.92 289.45 L126.06 294.71 L126.2 300.22 L126.34 305.93 L126.47 311.78 L126.61 317.72 L126.75 323.67 L126.88 329.58 L127.02 335.4 L127.16 341.06 L127.3 346.5 L127.43 351.67 L127.57 356.52 L127.71 361 L127.84 365.07 L127.98 368.68 L128.12 371.79 L128.26 374.38 L128.39 376.42 L128.53 377.88 L128.67 378.76 L128.8 379.05 L128.94 378.73 L129.08 377.82 L129.22 376.33 L129.35 374.26 L129.49 371.65 L129.63 368.51 L129.76 364.88 L129.9 360.79 L130.04 356.29 L130.18 351.42 L130.31 346.23 L130.45 340.78 L130.59 335.11 L130.72 329.29 L130.86 323.37 L131 317.42 L131.14 311.49 L131.27 305.64 L131.41 299.94 L131.55 294.44 L131.68 289.19 L131.82 284.26 L131.96 279.68 L132.1 275.51 L132.23 271.78 L132.37 268.54 L132.51 265.82 L132.64 263.64 L132.78 262.03 L132.92 261 L133.06 260.57 L133.19 260.73 L133.33 261.49 L133.47 262.84 L133.6 264.77 L133.74 267.25 L133.88 270.26 L134.02 273.77 L134.15 277.75 L134.29 282.15 L134.43 286.93 L134.56 292.04 L134.7 297.44 L134.84 303.06 L134.98 308.84 L135.11 314.74 L135.25 320.69 L135.39 326.63 L135.52 332.51 L135.66 338.25 L135.8 343.81 L135.94 349.12 L136.07 354.14 L136.21 358.81 L136.35 363.09 L136.48 366.93 L136.62 370.3 L136.76 373.15 L136.9 375.47 L137.03 377.22 L137.17 378.4 L137.31 378.98 L137.44 378.97 L137.58 378.35 L137.72 377.15 L137.86 375.37 L137.99 373.02 L138.13 370.14 L138.27 366.75 L138.4 362.89 L138.54 358.59 L138.68 353.9 L138.82 348.86 L138.95 343.54 L139.09 337.97 L139.23 332.22 L139.36 326.34 L139.5 320.4 L139.64 314.45 L139.78 308.55 L139.91 302.77 L140.05 297.16 L140.19 291.78 L140.32 286.68 L140.46 281.92 L140.6 277.54 L140.74 273.58 L140.87 270.1 L141.01 267.11 L141.15 264.66 L141.28 262.76 L141.42 261.44 L141.56 260.71 L141.69 260.57 L141.83 261.04 L141.97 262.09 L142.11 263.73 L142.24 265.94 L142.38 268.69 L142.52 271.95 L142.65 275.7 L142.79 279.9 L142.93 284.49 L143.07 289.45 L143.2 294.71 L143.34 300.22 L143.48 305.93 L143.61 311.78 L143.75 317.72 L143.89 323.67 L144.03 329.58 L144.16 335.4 L144.3 341.06 L144.44 346.5 L144.57 351.67 L144.71 356.52 L144.85 361 L144.99 365.07 L145.12 368.68 L145.26 371.79 L145.4 374.38 L145.53 376.42 L145.67 377.88 L145.81 378.76 L145.95 379.05 L146.08 378.73 L146.22 377.82 L146.36 376.33 L146.49 374.26 L146.63 371.65 L146.77 368.51 L146.91 364.88 L147.04 360.79 L147.18 356.29 L147.32 351.42 L147.45 346.23 L147.59 340.78 L147.73 335.11 L147.87 329.29 L148 323.37 L148.14 317.42 L148.28 311.49 L148.41 305.64 L148.55 299.94 L148.69 294.44 L148.83 289.19 L148.96 284.26 L149.1 279.68 L149.24 275.51 L149.37 271.78 L149.51 268.54 L149.65 265.82 L149.79 263.64 L149.92 262.03 L150.06 261 L150.2 260.57 L150.33 260.73 L150.47 261.49 L150.61 262.84 L150.75 264.77 L150.88 267.25 L151.02 270.26 L151.16 273.77 L151.29 277.75 L151.43 282.15 L151.57 286.93 L151.71 292.04 L151.84 297.44 L151.98 303.06 L152.12 308.84 L152.25 314.74 L152.39 320.69 L152.53 326.63 L152.67 332.51 L152.8 338.25 L152.94 343.81 L153.08 349.12 L153.21 354.14 L153.35 358.81 L153.49 363.09 L153.63 366.93 L153.76 370.3 L153.9 373.15 L154.04 375.47 L154.17 377.22 L154.31 378.4 L154.45 378.98 L154.59 378.97 L154.72 378.35 L154.86 377.15 L155 375.37 L155.13 373.02 L155.27 370.14 L155.41 366.75 L155.55 362.89 L155.68 358.59 L155.82 353.9 L155.96 348.86 L156.09 343.54 L156.23 337.97 L156.37 332.22 L156.51 326.34 L156.64 320.4 L156.78 314.45 L156.92 308.55 L157.05 302.77 L157.19 297.16 L157.33 291.78 L157.47 286.68 L157.6 281.92 L157.74 277.54 L157.88 273.58 L158.01 270.1 L158.15 267.11 L158.29 264.66 L158.43 262.76 L158.56 261.44 L158.7 260.71 L158.84 260.57 L158.97 261.04 L159.11 262.09 L159.25 263.73 L159.39 265.94 L159.52 268.69 L159.66 271.95 L159.8 275.7 L159.93 279.9 L160.07 284.49 L160.21 289.45 L160.35 294.71 L160.48 300.22 L160.62 305.93 L160.76 311.78 L160.89 317.72 L161.03 323.67 L161.17 329.58 L161.31 335.4 L161.44 341.06 L161.58 346.5 L161.72 351.67 L161.85 356.52 L161.99 361 L162.13 365.07 L162.26 368.68 L162.4 371.79 L162.54 374.38 L162.68 376.42 L162.81 377.88 L162.95 378.76 L163.09 379.05 L163.22 378.73 L163.36 377.82 L163.5 376.33 L163.64 374.26 L163.77 371.65 L163.91 368.51 L164.05 364.88 L164.18 360.79 L164.32 356.29 L164.46 351.42 L164.6 346.23 L164.73 340.78 L164.87 335.11 L165.01 329.29 L165.14 323.37 L165.28 317.42 L165.42 311.49 L165.56 305.64 L165.69 299.94 L165.83 294.44 L165.97 289.19 L166.1 284.26 L166.24 279.68 L166.38 275.51 L166.52 271.78 L166.65 268.54 L166.79 265.82 L166.93 263.64 L167.06 262.03 L167.2 261 L167.34 260.57 L167.48 260.73 L167.61 261.49 L167.75 262.84 L167.89 264.77 L168.02 267.25 L168.16 270.26 L168.3 273.77 L168.44 277.75 L168.57 282.15 L168.71 286.93 L168.85 292.04 L168.98 297.44 L169.12 303.06 L169.26 308.84 L169.4 314.74 L169.53 320.69 L169.67 326.63 L169.81 332.51 L169.94 338.25 L170.08 343.81 L170.22 349.12 L170.36 354.14 L170.49 358.81 L170.63 363.09 L170.77 366.93 L170.9 370.3 L171.04 373.15 L171.18 375.47 L171.32 377.22 L171.45 378.4 L171.59 378.98 L171.73 378.97 L171.86 378.35 L172 377.15 L172.14 375.37 L172.28 373.02 L172.41 370.14 L172.55 366.75 L172.69 362.89 L172.82 358.59 L172.96 353.9 L173.1 348.86 L173.24 343.54 L173.37 337.97 L173.51 332.22 L173.65 326.34 L173.78 320.4 L173.92 314.45 L174.06 308.55 L174.2 302.77 L174.33 297.16 L174.47 291.78 L174.61 286.68 L174.74 281.92 L174.88 277.54 L175.02 273.58 L175.16 270.1 L175.29 267.11 L175.43 264.66 L175.57 262.76 L175.7 261.44 L175.84 260.71 L175.98 260.57 L176.12 261.04 L176.25 262.09 L176.39 263.73 L176.53 265.94 L176.66 268.69 L176.8 271.95 L176.94 275.7 L177.08 279.9 L177.21 284.49 L177.35 289.45 L177.49 294.71 L177.62 300.22 L177.76 305.93 L177.9 311.78 L178.04 317.72 L178.17 323.67 L178.31 329.58 L178.45 335.4 L178.58 341.06 L178.72 346.5 L178.86 351.67 L179 356.52 L179.13 361 L179.27 365.07 L179.41 368.68 L179.54 371.79 L179.68 374.38 L179.82 376.42 L179.96 377.88 L180.09 378.76 L180.23 379.05 L180.37 378.73 L180.5 377.82 L180.64 376.33 L180.78 374.26 L180.92 371.65 L181.05 368.51 L181.19 364.88 L181.33 360.79 L181.46 356.29 L181.6 351.42 L181.74 346.23 L181.88 340.78 L182.01 335.11 L182.15 329.29 L182.29 323.37 L182.42 317.42 L182.56 311.49 L182.7 305.64 L182.83 299.94 L182.97 294.44 L183.11 289.19 L183.25 284.26 L183.38 279.68 L183.52 275.51 L183.66 271.78 L183.79 268.54 L183.93 265.82 L184.07 263.64 L184.21 262.03 L184.34 261 L184.48 260.57 L184.62 260.73 L184.75 261.49 L184.89 262.84 L185.03 264.77 L185.17 267.25 L185.3 270.26 L185.44 273.77 L185.58 277.75 L185.71 282.15 L185.85 286.93 L185.99 292.04 L186.13 297.44 L186.26 303.06 L186.4 308.84 L186.54 314.74 L186.67 320.69 L186.81 326.63 L186.95 332.51 L187.09 338.25 L187.22 343.81 L187.36 349.12 L187.5 354.14 L187.63 358.81 L187.77 363.09 L187.91 366.93 L188.05 370.3 L188.18 373.15 L188.32 375.47 L188.46 377.22 L188.59 378.4 L188.73 378.98 L188.87 378.97 L189.01 378.35 L189.14 377.15 L189.28 375.37 L189.42 373.02 L189.55 370.14 L189.69 366.75 L189.83 362.89 L189.97 358.59 L190.1 353.9 L190.24 348.86 L190.38 343.54 L190.51 337.97 L190.65 332.22 L190.79 326.34 L190.93 320.4 L191.06 314.45 L191.2 308.55 L191.34 302.77 L191.47 297.16 L191.61 291.78 L191.75 286.68 L191.89 281.92 L192.02 277.54 L192.16 273.58 L192.3 270.1 L192.43 267.11 L192.57 264.66 L192.71 262.76 L192.85 261.44 L192.98 260.71 L193.12 260.57 L193.26 261.04 L193.39 262.09 L193.53 263.73 L193.67 265.94 L193.81 268.69 L193.94 271.95 L194.08 275.7 L194.22 279.9 L194.35 284.49 L194.49 289.45 L194.63 294.71 L194.77 300.22 L194.9 305.93 L195.04 311.78 L195.18 317.72 L195.31 323.67 L195.45 329.58 L195.59 335.4 L195.73 341.06 L195.86 346.5 L196 351.67 L196.14 356.52 L196.27 361 L196.41 365.07 L196.55 368.68 L196.69 371.79 L196.82 374.38 L196.96 376.42 L197.1 377.88 L197.23 378.76 L197.37 379.05 L197.51 378.73 L197.65 377.82 L197.78 376.33 L197.92 374.26 L198.06 371.65 L198.19 368.51 L198.33 364.88 L198.47 360.79 L198.61 356.29 L198.74 351.42 L198.88 346.23 L199.02 340.78 L199.15 335.11 L199.29 329.29 L199.43 323.37 L199.57 317.42 L199.7 311.49 L199.84 305.64 L199.98 299.94 L200.11 294.44 L200.25 289.19 L200.39 284.26 L200.53 279.68 L200.66 275.51 L200.8 271.78 L200.94 268.54 L201.07 265.82 L201.21 263.64 L201.35 262.03 L201.49 261 L201.62 260.57 L201.76 260.73 L201.9 261.49 L202.03 262.84 L202.17 264.77 L202.31 267.25 L202.44 270.26 L202.58 273.77 L202.72 277.75 L202.86 282.15 L202.99 286.93 L203.13 292.04 L203.27 297.44 L203.4 303.06 L203.54 308.84 L203.68 314.74 L203.82 320.69 L203.95 326.63 L204.09 332.51 L204.23 338.25 L204.36 343.81 L204.5 349.12 L204.64 354.14 L204.78 358.81 L204.91 363.09 L205.05 366.93 L205.19 370.3 L205.32 373.15 L205.46 375.47 L205.6 377.22 L205.74 378.4 L205.87 378.98 L206.01 378.97 L206.15 378.35 L206.28 377.15 L206.42 375.37 L206.56 373.02 L206.7 370.14 L206.83 366.75 L206.97 362.89 L207.11 358.59 L207.24 353.9 L207.38 348.86 L207.52 343.54 L207.66 337.97 L207.79 332.22 L207.93 326.34 L208.07 320.4 L208.2 314.45 L208.34 308.55 L208.48 302.77 L208.62 297.16 L208.75 291.78 L208.89 286.68 L209.03 281.92 L209.16 277.54 L209.3 273.58 L209.44 270.1 L209.58 267.11 L209.71 264.66 L209.85 262.76 L209.99 261.44 L210.12 260.71 L210.26 260.57 L210.4 261.04 L210.54 262.09 L210.67 263.73 L210.81 265.94 L210.95 268.69 L211.08 271.95 L211.22 275.7 L211.36 279.9 L211.5 284.49 L211.63 289.45 L211.77 294.71 L211.91 300.22 L212.04 305.93 L212.18 311.78 L212.32 317.72 L212.46 323.67 L212.59 329.58 L212.73 335.4 L212.87 341.06 L213 346.5 L213.14 351.67 L213.28 356.52 L213.42 361 L213.55 365.07 L213.69 368.68 L213.83 371.79 L213.96 374.38 L214.1 376.42 L214.24 377.88 L214.38 378.76 L214.51 379.05 L214.65 378.73 L214.79 377.82 L214.92 376.33 L215.06 374.26 L215.2 371.65 L215.34 368.51 L215.47 364.88 L215.61 360.79 L215.75 356.29 L215.88 351.42 L216.02 346.23 L216.16 340.78 L216.3 335.11 L216.43 329.29 L216.57 323.37 L216.71 317.42 L216.84 311.49 L216.98 305.64 L217.12 299.94 L217.26 294.44 L217.39 289.19 L217.53 284.26 L217.67 279.68 L217.8 275.51 L217.94 271.78 L218.08 268.54 L218.22 265.82 L218.35 263.64 L218.49 262.03 L218.63 261 L218.76 260.57 L218.9 260.73 L219.04 261.49 L219.18 262.84 L219.31 264.77 L219.45 267.25 L219.59 270.26 L219.72 273.77 L219.86 277.75 L220 282.15 L220.14 286.93 L220.27 292.04 L220.41 297.44 L220.55 303.06 L220.68 308.84 L220.82 314.74 L220.96 320.69 L221.1 326.63 L221.23 332.51 L221.37 338.25 L221.51 343.81 L221.64 349.12 L221.78 354.14 L221.92 358.81 L222.06 363.09 L222.19 366.93 L222.33 370.3 L222.47 373.15 L222.6 375.47 L222.74 377.22 L222.88 378.4 L223.02 378.98 L223.15 378.97 L223.29 378.35 L223.43 377.15 L223.56 375.37 L223.7 373.02 L223.84 370.14 L223.97 366.75 L224.11 362.89 L224.25 358.59 L224.39 353.9 L224.52 348.86 L224.66 343.54 L224.8 337.97 L224.93 332.22 L225.07 326.34 L225.21 320.4 L225.35 314.45 L225.48 308.55 L225.62 302.77 L225.76 297.16 L225.89 291.78 L226.03 286.68 L226.17 281.92 L226.31 277.54 L226.44 273.58 L226.58 270.1 L226.72 267.11 L226.85 264.66 L226.99 262.76 L227.13 261.44 L227.27 260.71 L227.4 260.57 L227.54 261.04 L227.68 262.09 L227.81 263.73 L227.95 265.94 L228.09 268.69 L228.23 271.95 L228.36 275.7 L228.5 279.9 L228.64 284.49 L228.77 289.45 L228.91 294.71 L229.05 300.22 L229.19 305.93 L229.32 311.78 L229.46 317.72 L229.6 323.67 L229.73 329.58 L229.87 335.4 L230.01 341.06 L230.15 346.5 L230.28 351.67 L230.42 356.52 L230.56 361 L230.69 365.07 L230.83 368.68 L230.97 371.79 L231.11 374.38 L231.24 376.42 L231.38 377.88 L231.52 378.76 L231.65 379.05 L231.79 378.73 L231.93 377.82 L232.07 376.33 L232.2 374.26 L232.34 371.65 L232.48 368.51 L232.61 364.88 L232.75 360.79 L232.89 356.29 L233.03 351.42 L233.16 346.23 L233.3 340.78" stroke="#9a90b2" stroke-width="0.75" fill="none" stroke-linejoin="round" opacity="1.0"/>
<path d="M27.6 319.48 L27.74 319.16 L27.87 318.85 L28.01 318.53 L28.15 318.22 L28.29 317.91 L28.42 317.59 L28.56 317.28 L28.7 316.97 L28.83 316.66 L28.97 316.36 L29.11 316.05 L29.25 315.74 L29.38 315.44 L29.52 315.14 L29.66 314.84 L29.79 314.54 L29.93 314.24 L30.07 313.95 L30.21 313.66 L30.34 313.37 L30.48 313.08 L30.62 312.8 L30.75 312.52 L30.89 312.24 L31.03 311.96 L31.17 311.69 L31.3 311.42 L31.44 311.15 L31.58 310.89 L31.71 310.63 L31.85 310.37 L31.99 310.12 L32.13 309.87 L32.26 309.63 L32.4 309.38 L32.54 309.15 L32.67 308.91 L32.81 308.68 L32.95 308.46 L33.09 308.24 L33.22 308.02 L33.36 307.81 L33.5 307.6 L33.63 307.39 L33.77 307.2 L33.91 307 L34.05 306.81 L34.18 306.63 L34.32 306.45 L34.46 306.27 L34.59 306.1 L34.73 305.94 L34.87 305.78 L35.01 305.63 L35.14 305.48 L35.28 305.33 L35.42 305.2 L35.55 305.06 L35.69 304.94 L35.83 304.82 L35.97 304.7 L36.1 304.59 L36.24 304.48 L36.38 304.39 L36.51 304.29 L36.65 304.2 L36.79 304.12 L36.93 304.05 L37.06 303.98 L37.2 303.91 L37.34 303.86 L37.47 303.8 L37.61 303.76 L37.75 303.72 L37.89 303.68 L38.02 303.65 L38.16 303.63 L38.3 303.61 L38.43 303.6 L38.57 303.6 L38.71 303.61 L38.84 303.64 L38.98 303.69 L39.12 303.76 L39.26 303.86 L39.39 303.97 L39.53 304.11 L39.67 304.28 L39.8 304.46 L39.94 304.66 L40.08 304.89 L40.22 305.13 L40.35 305.4 L40.49 305.69 L40.63 305.99 L40.76 306.32 L40.9 306.66 L41.04 307.02 L41.18 307.4 L41.31 307.8 L41.45 308.22 L41.59 308.65 L41.72 309.09 L41.86 309.55 L42 310.03 L42.14 310.52 L42.27 311.02 L42.41 311.53 L42.55 312.06 L42.68 312.6 L42.82 313.14 L42.96 313.7 L43.1 314.26 L43.23 314.84 L43.37 315.42 L43.51 316.01 L43.64 316.6 L43.78 317.2 L43.92 317.8 L44.06 318.4 L44.19 319.01 L44.33 319.62 L44.47 320.23 L44.6 320.84 L44.74 321.44 L44.88 322.05 L45.02 322.66 L45.15 323.26 L45.29 323.85 L45.43 324.44 L45.56 325.03 L45.7 325.61 L45.84 326.18 L45.98 326.74 L46.11 327.3 L46.25 327.84 L46.39 328.38 L46.52 328.9 L46.66 329.41 L46.8 329.91 L46.94 330.39 L47.07 330.87 L47.21 331.32 L47.35 331.76 L47.48 332.19 L47.62 332.6 L47.76 332.99 L47.9 333.37 L48.03 333.73 L48.17 334.07 L48.31 334.39 L48.44 334.69 L48.58 334.97 L48.72 335.23 L48.86 335.47 L48.99 335.69 L49.13 335.89 L49.27 336.07 L49.4 336.22 L49.54 336.36 L49.68 336.47 L49.82 336.56 L49.95 336.63 L50.09 336.67 L50.23 336.7 L50.36 336.7 L50.5 336.69 L50.64 336.68 L50.78 336.66 L50.91 336.64 L51.05 336.61 L51.19 336.57 L51.32 336.53 L51.46 336.48 L51.6 336.43 L51.74 336.37 L51.87 336.31 L52.01 336.23 L52.15 336.16 L52.28 336.07 L52.42 335.98 L52.56 335.89 L52.7 335.79 L52.83 335.68 L52.97 335.57 L53.11 335.45 L53.24 335.33 L53.38 335.2 L53.52 335.07 L53.66 334.93 L53.79 334.78 L53.93 334.63 L54.07 334.48 L54.2 334.32 L54.34 334.15 L54.48 333.98 L54.62 333.81 L54.75 333.63 L54.89 333.44 L55.03 333.25 L55.16 333.05 L55.3 332.85 L55.44 332.65 L55.58 332.44 L55.71 332.23 L55.85 332.01 L55.99 331.79 L56.12 331.56 L56.26 331.33 L56.4 331.09 L56.54 330.86 L56.67 330.61 L56.81 330.37 L56.95 330.12 L57.08 329.86 L57.22 329.6 L57.36 329.34 L57.5 329.08 L57.63 328.81 L57.77 328.54 L57.91 328.27 L58.04 327.99 L58.18 327.71 L58.32 327.43 L58.45 327.14 L58.59 326.86 L58.73 326.57 L58.87 326.28 L59 325.98 L59.14 325.68 L59.28 325.39 L59.41 325.09 L59.55 324.78 L59.69 324.48 L59.83 324.17 L59.96 323.87 L60.1 323.56 L60.24 323.25 L60.37 322.94 L60.51 322.63 L60.65 322.31 L60.79 322 L60.92 321.69 L61.06 321.37 L61.2 321.06 L61.33 320.74 L61.47 320.43 L61.61 320.11 L61.75 319.79 L61.88 319.48 L62.02 319.16 L62.16 318.85 L62.29 318.53 L62.43 318.22 L62.57 317.91 L62.71 317.59 L62.84 317.28 L62.98 316.97 L63.12 316.66 L63.25 316.36 L63.39 316.05 L63.53 315.74 L63.67 315.44 L63.8 315.14 L63.94 314.84 L64.08 314.54 L64.21 314.24 L64.35 313.95 L64.49 313.66 L64.63 313.37 L64.76 313.08 L64.9 312.8 L65.04 312.52 L65.17 312.24 L65.31 311.96 L65.45 311.69 L65.59 311.42 L65.72 311.15 L65.86 310.89 L66 310.63 L66.13 310.37 L66.27 310.12 L66.41 309.87 L66.55 309.63 L66.68 309.38 L66.82 309.15 L66.96 308.91 L67.09 308.68 L67.23 308.46 L67.37 308.24 L67.51 308.02 L67.64 307.81 L67.78 307.6 L67.92 307.39 L68.05 307.2 L68.19 307 L68.33 306.81 L68.47 306.63 L68.6 306.45 L68.74 306.27 L68.88 306.1 L69.01 305.94 L69.15 305.78 L69.29 305.63 L69.43 305.48 L69.56 305.33 L69.7 305.2 L69.84 305.06 L69.97 304.94 L70.11 304.82 L70.25 304.7 L70.39 304.59 L70.52 304.48 L70.66 304.39 L70.8 304.29 L70.93 304.2 L71.07 304.12 L71.21 304.05 L71.35 303.98 L71.48 303.91 L71.62 303.86 L71.76 303.8 L71.89 303.76 L72.03 303.72 L72.17 303.68 L72.31 303.65 L72.44 303.63 L72.58 303.61 L72.72 303.6 L72.85 303.6 L72.99 303.61 L73.13 303.64 L73.27 303.69 L73.4 303.76 L73.54 303.86 L73.68 303.97 L73.81 304.11 L73.95 304.28 L74.09 304.46 L74.23 304.66 L74.36 304.89 L74.5 305.13 L74.64 305.4 L74.77 305.69 L74.91 305.99 L75.05 306.32 L75.19 306.66 L75.32 307.02 L75.46 307.4 L75.6 307.8 L75.73 308.22 L75.87 308.65 L76.01 309.09 L76.15 309.55 L76.28 310.03 L76.42 310.52 L76.56 311.02 L76.69 311.53 L76.83 312.06 L76.97 312.6 L77.11 313.14 L77.24 313.7 L77.38 314.26 L77.52 314.84 L77.65 315.42 L77.79 316.01 L77.93 316.6 L78.07 317.2 L78.2 317.8 L78.34 318.4 L78.48 319.01 L78.61 319.62 L78.75 320.23 L78.89 320.84 L79.03 321.44 L79.16 322.05 L79.3 322.66 L79.44 323.26 L79.57 323.85 L79.71 324.44 L79.85 325.03 L79.98 325.61 L80.12 326.18 L80.26 326.74 L80.4 327.3 L80.53 327.84 L80.67 328.38 L80.81 328.9 L80.94 329.41 L81.08 329.91 L81.22 330.39 L81.36 330.87 L81.49 331.32 L81.63 331.76 L81.77 332.19 L81.9 332.6 L82.04 332.99 L82.18 333.37 L82.32 333.73 L82.45 334.07 L82.59 334.39 L82.73 334.69 L82.86 334.97 L83 335.23 L83.14 335.47 L83.28 335.69 L83.41 335.89 L83.55 336.07 L83.69 336.22 L83.82 336.36 L83.96 336.47 L84.1 336.56 L84.24 336.63 L84.37 336.67 L84.51 336.7 L84.65 336.7 L84.78 336.69 L84.92 336.68 L85.06 336.66 L85.2 336.64 L85.33 336.61 L85.47 336.57 L85.61 336.53 L85.74 336.48 L85.88 336.43 L86.02 336.37 L86.16 336.31 L86.29 336.23 L86.43 336.16 L86.57 336.07 L86.7 335.98 L86.84 335.89 L86.98 335.79 L87.12 335.68 L87.25 335.57 L87.39 335.45 L87.53 335.33 L87.66 335.2 L87.8 335.07 L87.94 334.93 L88.08 334.78 L88.21 334.63 L88.35 334.48 L88.49 334.32 L88.62 334.15 L88.76 333.98 L88.9 333.81 L89.04 333.63 L89.17 333.44 L89.31 333.25 L89.45 333.05 L89.58 332.85 L89.72 332.65 L89.86 332.44 L90 332.23 L90.13 332.01 L90.27 331.79 L90.41 331.56 L90.54 331.33 L90.68 331.09 L90.82 330.86 L90.96 330.61 L91.09 330.37 L91.23 330.12 L91.37 329.86 L91.5 329.6 L91.64 329.34 L91.78 329.08 L91.92 328.81 L92.05 328.54 L92.19 328.27 L92.33 327.99 L92.46 327.71 L92.6 327.43 L92.74 327.14 L92.88 326.86 L93.01 326.57 L93.15 326.28 L93.29 325.98 L93.42 325.68 L93.56 325.39 L93.7 325.09 L93.84 324.78 L93.97 324.48 L94.11 324.17 L94.25 323.87 L94.38 323.56 L94.52 323.25 L94.66 322.94 L94.8 322.63 L94.93 322.31 L95.07 322 L95.21 321.69 L95.34 321.37 L95.48 321.06 L95.62 320.74 L95.76 320.43 L95.89 320.11 L96.03 319.79 L96.17 319.48 L96.3 319.16 L96.44 318.85 L96.58 318.53 L96.72 318.22 L96.85 317.91 L96.99 317.59 L97.13 317.28 L97.26 316.97 L97.4 316.66 L97.54 316.36 L97.68 316.05 L97.81 315.74 L97.95 315.44 L98.09 315.14 L98.22 314.84 L98.36 314.54 L98.5 314.24 L98.64 313.95 L98.77 313.66 L98.91 313.37 L99.05 313.08 L99.18 312.8 L99.32 312.52 L99.46 312.24 L99.59 311.96 L99.73 311.69 L99.87 311.42 L100.01 311.15 L100.14 310.89 L100.28 310.63 L100.42 310.37 L100.55 310.12 L100.69 309.87 L100.83 309.63 L100.97 309.38 L101.1 309.15 L101.24 308.91 L101.38 308.68 L101.51 308.46 L101.65 308.24 L101.79 308.02 L101.93 307.81 L102.06 307.6 L102.2 307.39 L102.34 307.2 L102.47 307 L102.61 306.81 L102.75 306.63 L102.89 306.45 L103.02 306.27 L103.16 306.1 L103.3 305.94 L103.43 305.78 L103.57 305.63 L103.71 305.48 L103.85 305.33 L103.98 305.2 L104.12 305.06 L104.26 304.94 L104.39 304.82 L104.53 304.7 L104.67 304.59 L104.81 304.48 L104.94 304.39 L105.08 304.29 L105.22 304.2 L105.35 304.12 L105.49 304.05 L105.63 303.98 L105.77 303.91 L105.9 303.86 L106.04 303.8 L106.18 303.76 L106.31 303.72 L106.45 303.68 L106.59 303.65 L106.73 303.63 L106.86 303.61 L107 303.6 L107.14 303.6 L107.27 303.61 L107.41 303.64 L107.55 303.69 L107.69 303.76 L107.82 303.86 L107.96 303.97 L108.1 304.11 L108.23 304.28 L108.37 304.46 L108.51 304.66 L108.65 304.89 L108.78 305.13 L108.92 305.4 L109.06 305.69 L109.19 305.99 L109.33 306.32 L109.47 306.66 L109.61 307.02 L109.74 307.4 L109.88 307.8 L110.02 308.22 L110.15 308.65 L110.29 309.09 L110.43 309.55 L110.57 310.03 L110.7 310.52 L110.84 311.02 L110.98 311.53 L111.11 312.06 L111.25 312.6 L111.39 313.14 L111.53 313.7 L111.66 314.26 L111.8 314.84 L111.94 315.42 L112.07 316.01 L112.21 316.6 L112.35 317.2 L112.49 317.8 L112.62 318.4 L112.76 319.01 L112.9 319.62 L113.03 320.23 L113.17 320.84 L113.31 321.44 L113.45 322.05 L113.58 322.66 L113.72 323.26 L113.86 323.85 L113.99 324.44 L114.13 325.03 L114.27 325.61 L114.41 326.18 L114.54 326.74 L114.68 327.3 L114.82 327.84 L114.95 328.38 L115.09 328.9 L115.23 329.41 L115.37 329.91 L115.5 330.39 L115.64 330.87 L115.78 331.32 L115.91 331.76 L116.05 332.19 L116.19 332.6 L116.33 332.99 L116.46 333.37 L116.6 333.73 L116.74 334.07 L116.87 334.39 L117.01 334.69 L117.15 334.97 L117.29 335.23 L117.42 335.47 L117.56 335.69 L117.7 335.89 L117.83 336.07 L117.97 336.22 L118.11 336.36 L118.25 336.47 L118.38 336.56 L118.52 336.63 L118.66 336.67 L118.79 336.7 L118.93 336.7 L119.07 336.69 L119.21 336.68 L119.34 336.66 L119.48 336.64 L119.62 336.61 L119.75 336.57 L119.89 336.53 L120.03 336.48 L120.17 336.43 L120.3 336.37 L120.44 336.31 L120.58 336.23 L120.71 336.16 L120.85 336.07 L120.99 335.98 L121.12 335.89 L121.26 335.79 L121.4 335.68 L121.54 335.57 L121.67 335.45 L121.81 335.33 L121.95 335.2 L122.08 335.07 L122.22 334.93 L122.36 334.78 L122.5 334.63 L122.63 334.48 L122.77 334.32 L122.91 334.15 L123.04 333.98 L123.18 333.81 L123.32 333.63 L123.46 333.44 L123.59 333.25 L123.73 333.05 L123.87 332.85 L124 332.65 L124.14 332.44 L124.28 332.23 L124.42 332.01 L124.55 331.79 L124.69 331.56 L124.83 331.33 L124.96 331.09 L125.1 330.86 L125.24 330.61 L125.38 330.37 L125.51 330.12 L125.65 329.86 L125.79 329.6 L125.92 329.34 L126.06 329.08 L126.2 328.81 L126.34 328.54 L126.47 328.27 L126.61 327.99 L126.75 327.71 L126.88 327.43 L127.02 327.14 L127.16 326.86 L127.3 326.57 L127.43 326.28 L127.57 325.98 L127.71 325.68 L127.84 325.39 L127.98 325.09 L128.12 324.78 L128.26 324.48 L128.39 324.17 L128.53 323.87 L128.67 323.56 L128.8 323.25 L128.94 322.94 L129.08 322.63 L129.22 322.31 L129.35 322 L129.49 321.69 L129.63 321.37 L129.76 321.06 L129.9 320.74 L130.04 320.43 L130.18 320.11 L130.31 319.79 L130.45 319.48 L130.59 319.16 L130.72 318.85 L130.86 318.53 L131 318.22 L131.14 317.91 L131.27 317.59 L131.41 317.28 L131.55 316.97 L131.68 316.66 L131.82 316.36 L131.96 316.05 L132.1 315.74 L132.23 315.44 L132.37 315.14 L132.51 314.84 L132.64 314.54 L132.78 314.24 L132.92 313.95 L133.06 313.66 L133.19 313.37 L133.33 313.08 L133.47 312.8 L133.6 312.52 L133.74 312.24 L133.88 311.96 L134.02 311.69 L134.15 311.42 L134.29 311.15 L134.43 310.89 L134.56 310.63 L134.7 310.37 L134.84 310.12 L134.98 309.87 L135.11 309.63 L135.25 309.38 L135.39 309.15 L135.52 308.91 L135.66 308.68 L135.8 308.46 L135.94 308.24 L136.07 308.02 L136.21 307.81 L136.35 307.6 L136.48 307.39 L136.62 307.2 L136.76 307 L136.9 306.81 L137.03 306.63 L137.17 306.45 L137.31 306.27 L137.44 306.1 L137.58 305.94 L137.72 305.78 L137.86 305.63 L137.99 305.48 L138.13 305.33 L138.27 305.2 L138.4 305.06 L138.54 304.94 L138.68 304.82 L138.82 304.7 L138.95 304.59 L139.09 304.48 L139.23 304.39 L139.36 304.29 L139.5 304.2 L139.64 304.12 L139.78 304.05 L139.91 303.98 L140.05 303.91 L140.19 303.86 L140.32 303.8 L140.46 303.76 L140.6 303.72 L140.74 303.68 L140.87 303.65 L141.01 303.63 L141.15 303.61 L141.28 303.6 L141.42 303.6 L141.56 303.61 L141.69 303.64 L141.83 303.69 L141.97 303.76 L142.11 303.86 L142.24 303.97 L142.38 304.11 L142.52 304.28 L142.65 304.46 L142.79 304.66 L142.93 304.89 L143.07 305.13 L143.2 305.4 L143.34 305.69 L143.48 305.99 L143.61 306.32 L143.75 306.66 L143.89 307.02 L144.03 307.4 L144.16 307.8 L144.3 308.22 L144.44 308.65 L144.57 309.09 L144.71 309.55 L144.85 310.03 L144.99 310.52 L145.12 311.02 L145.26 311.53 L145.4 312.06 L145.53 312.6 L145.67 313.14 L145.81 313.7 L145.95 314.26 L146.08 314.84 L146.22 315.42 L146.36 316.01 L146.49 316.6 L146.63 317.2 L146.77 317.8 L146.91 318.4 L147.04 319.01 L147.18 319.62 L147.32 320.23 L147.45 320.84 L147.59 321.44 L147.73 322.05 L147.87 322.66 L148 323.26 L148.14 323.85 L148.28 324.44 L148.41 325.03 L148.55 325.61 L148.69 326.18 L148.83 326.74 L148.96 327.3 L149.1 327.84 L149.24 328.38 L149.37 328.9 L149.51 329.41 L149.65 329.91 L149.79 330.39 L149.92 330.87 L150.06 331.32 L150.2 331.76 L150.33 332.19 L150.47 332.6 L150.61 332.99 L150.75 333.37 L150.88 333.73 L151.02 334.07 L151.16 334.39 L151.29 334.69 L151.43 334.97 L151.57 335.23 L151.71 335.47 L151.84 335.69 L151.98 335.89 L152.12 336.07 L152.25 336.22 L152.39 336.36 L152.53 336.47 L152.67 336.56 L152.8 336.63 L152.94 336.67 L153.08 336.7 L153.21 336.7 L153.35 336.69 L153.49 336.68 L153.63 336.66 L153.76 336.64 L153.9 336.61 L154.04 336.57 L154.17 336.53 L154.31 336.48 L154.45 336.43 L154.59 336.37 L154.72 336.31 L154.86 336.23 L155 336.16 L155.13 336.07 L155.27 335.98 L155.41 335.89 L155.55 335.79 L155.68 335.68 L155.82 335.57 L155.96 335.45 L156.09 335.33 L156.23 335.2 L156.37 335.07 L156.51 334.93 L156.64 334.78 L156.78 334.63 L156.92 334.48 L157.05 334.32 L157.19 334.15 L157.33 333.98 L157.47 333.81 L157.6 333.63 L157.74 333.44 L157.88 333.25 L158.01 333.05 L158.15 332.85 L158.29 332.65 L158.43 332.44 L158.56 332.23 L158.7 332.01 L158.84 331.79 L158.97 331.56 L159.11 331.33 L159.25 331.09 L159.39 330.86 L159.52 330.61 L159.66 330.37 L159.8 330.12 L159.93 329.86 L160.07 329.6 L160.21 329.34 L160.35 329.08 L160.48 328.81 L160.62 328.54 L160.76 328.27 L160.89 327.99 L161.03 327.71 L161.17 327.43 L161.31 327.14 L161.44 326.86 L161.58 326.57 L161.72 326.28 L161.85 325.98 L161.99 325.68 L162.13 325.39 L162.26 325.09 L162.4 324.78 L162.54 324.48 L162.68 324.17 L162.81 323.87 L162.95 323.56 L163.09 323.25 L163.22 322.94 L163.36 322.63 L163.5 322.31 L163.64 322 L163.77 321.69 L163.91 321.37 L164.05 321.06 L164.18 320.74 L164.32 320.43 L164.46 320.11 L164.6 319.79 L164.73 319.48 L164.87 319.16 L165.01 318.85 L165.14 318.53 L165.28 318.22 L165.42 317.91 L165.56 317.59 L165.69 317.28 L165.83 316.97 L165.97 316.66 L166.1 316.36 L166.24 316.05 L166.38 315.74 L166.52 315.44 L166.65 315.14 L166.79 314.84 L166.93 314.54 L167.06 314.24 L167.2 313.95 L167.34 313.66 L167.48 313.37 L167.61 313.08 L167.75 312.8 L167.89 312.52 L168.02 312.24 L168.16 311.96 L168.3 311.69 L168.44 311.42 L168.57 311.15 L168.71 310.89 L168.85 310.63 L168.98 310.37 L169.12 310.12 L169.26 309.87 L169.4 309.63 L169.53 309.38 L169.67 309.15 L169.81 308.91 L169.94 308.68 L170.08 308.46 L170.22 308.24 L170.36 308.02 L170.49 307.81 L170.63 307.6 L170.77 307.39 L170.9 307.2 L171.04 307 L171.18 306.81 L171.32 306.63 L171.45 306.45 L171.59 306.27 L171.73 306.1 L171.86 305.94 L172 305.78 L172.14 305.63 L172.28 305.48 L172.41 305.33 L172.55 305.2 L172.69 305.06 L172.82 304.94 L172.96 304.82 L173.1 304.7 L173.24 304.59 L173.37 304.48 L173.51 304.39 L173.65 304.29 L173.78 304.2 L173.92 304.12 L174.06 304.05 L174.2 303.98 L174.33 303.91 L174.47 303.86 L174.61 303.8 L174.74 303.76 L174.88 303.72 L175.02 303.68 L175.16 303.65 L175.29 303.63 L175.43 303.61 L175.57 303.6 L175.7 303.6 L175.84 303.61 L175.98 303.64 L176.12 303.69 L176.25 303.76 L176.39 303.86 L176.53 303.97 L176.66 304.11 L176.8 304.28 L176.94 304.46 L177.08 304.66 L177.21 304.89 L177.35 305.13 L177.49 305.4 L177.62 305.69 L177.76 305.99 L177.9 306.32 L178.04 306.66 L178.17 307.02 L178.31 307.4 L178.45 307.8 L178.58 308.22 L178.72 308.65 L178.86 309.09 L179 309.55 L179.13 310.03 L179.27 310.52 L179.41 311.02 L179.54 311.53 L179.68 312.06 L179.82 312.6 L179.96 313.14 L180.09 313.7 L180.23 314.26 L180.37 314.84 L180.5 315.42 L180.64 316.01 L180.78 316.6 L180.92 317.2 L181.05 317.8 L181.19 318.4 L181.33 319.01 L181.46 319.62 L181.6 320.23 L181.74 320.84 L181.88 321.44 L182.01 322.05 L182.15 322.66 L182.29 323.26 L182.42 323.85 L182.56 324.44 L182.7 325.03 L182.83 325.61 L182.97 326.18 L183.11 326.74 L183.25 327.3 L183.38 327.84 L183.52 328.38 L183.66 328.9 L183.79 329.41 L183.93 329.91 L184.07 330.39 L184.21 330.87 L184.34 331.32 L184.48 331.76 L184.62 332.19 L184.75 332.6 L184.89 332.99 L185.03 333.37 L185.17 333.73 L185.3 334.07 L185.44 334.39 L185.58 334.69 L185.71 334.97 L185.85 335.23 L185.99 335.47 L186.13 335.69 L186.26 335.89 L186.4 336.07 L186.54 336.22 L186.67 336.36 L186.81 336.47 L186.95 336.56 L187.09 336.63 L187.22 336.67 L187.36 336.7 L187.5 336.7 L187.63 336.69 L187.77 336.68 L187.91 336.66 L188.05 336.64 L188.18 336.61 L188.32 336.57 L188.46 336.53 L188.59 336.48 L188.73 336.43 L188.87 336.37 L189.01 336.31 L189.14 336.23 L189.28 336.16 L189.42 336.07 L189.55 335.98 L189.69 335.89 L189.83 335.79 L189.97 335.68 L190.1 335.57 L190.24 335.45 L190.38 335.33 L190.51 335.2 L190.65 335.07 L190.79 334.93 L190.93 334.78 L191.06 334.63 L191.2 334.48 L191.34 334.32 L191.47 334.15 L191.61 333.98 L191.75 333.81 L191.89 333.63 L192.02 333.44 L192.16 333.25 L192.3 333.05 L192.43 332.85 L192.57 332.65 L192.71 332.44 L192.85 332.23 L192.98 332.01 L193.12 331.79 L193.26 331.56 L193.39 331.33 L193.53 331.09 L193.67 330.86 L193.81 330.61 L193.94 330.37 L194.08 330.12 L194.22 329.86 L194.35 329.6 L194.49 329.34 L194.63 329.08 L194.77 328.81 L194.9 328.54 L195.04 328.27 L195.18 327.99 L195.31 327.71 L195.45 327.43 L195.59 327.14 L195.73 326.86 L195.86 326.57 L196 326.28 L196.14 325.98 L196.27 325.68 L196.41 325.39 L196.55 325.09 L196.69 324.78 L196.82 324.48 L196.96 324.17 L197.1 323.87 L197.23 323.56 L197.37 323.25 L197.51 322.94 L197.65 322.63 L197.78 322.31 L197.92 322 L198.06 321.69 L198.19 321.37 L198.33 321.06 L198.47 320.74 L198.61 320.43 L198.74 320.11 L198.88 319.79 L199.02 319.48 L199.15 319.16 L199.29 318.85 L199.43 318.53 L199.57 318.22 L199.7 317.91 L199.84 317.59 L199.98 317.28 L200.11 316.97 L200.25 316.66 L200.39 316.36 L200.53 316.05 L200.66 315.74 L200.8 315.44 L200.94 315.14 L201.07 314.84 L201.21 314.54 L201.35 314.24 L201.49 313.95 L201.62 313.66 L201.76 313.37 L201.9 313.08 L202.03 312.8 L202.17 312.52 L202.31 312.24 L202.44 311.96 L202.58 311.69 L202.72 311.42 L202.86 311.15 L202.99 310.89 L203.13 310.63 L203.27 310.37 L203.4 310.12 L203.54 309.87 L203.68 309.63 L203.82 309.38 L203.95 309.15 L204.09 308.91 L204.23 308.68 L204.36 308.46 L204.5 308.24 L204.64 308.02 L204.78 307.81 L204.91 307.6 L205.05 307.39 L205.19 307.2 L205.32 307 L205.46 306.81 L205.6 306.63 L205.74 306.45 L205.87 306.27 L206.01 306.1 L206.15 305.94 L206.28 305.78 L206.42 305.63 L206.56 305.48 L206.7 305.33 L206.83 305.2 L206.97 305.06 L207.11 304.94 L207.24 304.82 L207.38 304.7 L207.52 304.59 L207.66 304.48 L207.79 304.39 L207.93 304.29 L208.07 304.2 L208.2 304.12 L208.34 304.05 L208.48 303.98 L208.62 303.91 L208.75 303.86 L208.89 303.8 L209.03 303.76 L209.16 303.72 L209.3 303.68 L209.44 303.65 L209.58 303.63 L209.71 303.61 L209.85 303.6 L209.99 303.6 L210.12 303.61 L210.26 303.64 L210.4 303.69 L210.54 303.76 L210.67 303.86 L210.81 303.97 L210.95 304.11 L211.08 304.28 L211.22 304.46 L211.36 304.66 L211.5 304.89 L211.63 305.13 L211.77 305.4 L211.91 305.69 L212.04 305.99 L212.18 306.32 L212.32 306.66 L212.46 307.02 L212.59 307.4 L212.73 307.8 L212.87 308.22 L213 308.65 L213.14 309.09 L213.28 309.55 L213.42 310.03 L213.55 310.52 L213.69 311.02 L213.83 311.53 L213.96 312.06 L214.1 312.6 L214.24 313.14 L214.38 313.7 L214.51 314.26 L214.65 314.84 L214.79 315.42 L214.92 316.01 L215.06 316.6 L215.2 317.2 L215.34 317.8 L215.47 318.4 L215.61 319.01 L215.75 319.62 L215.88 320.23 L216.02 320.84 L216.16 321.44 L216.3 322.05 L216.43 322.66 L216.57 323.26 L216.71 323.85 L216.84 324.44 L216.98 325.03 L217.12 325.61 L217.26 326.18 L217.39 326.74 L217.53 327.3 L217.67 327.84 L217.8 328.38 L217.94 328.9 L218.08 329.41 L218.22 329.91 L218.35 330.39 L218.49 330.87 L218.63 331.32 L218.76 331.76 L218.9 332.19 L219.04 332.6 L219.18 332.99 L219.31 333.37 L219.45 333.73 L219.59 334.07 L219.72 334.39 L219.86 334.69 L220 334.97 L220.14 335.23 L220.27 335.47 L220.41 335.69 L220.55 335.89 L220.68 336.07 L220.82 336.22 L220.96 336.36 L221.1 336.47 L221.23 336.56 L221.37 336.63 L221.51 336.67 L221.64 336.7 L221.78 336.7 L221.92 336.69 L222.06 336.68 L222.19 336.66 L222.33 336.64 L222.47 336.61 L222.6 336.57 L222.74 336.53 L222.88 336.48 L223.02 336.43 L223.15 336.37 L223.29 336.31 L223.43 336.23 L223.56 336.16 L223.7 336.07 L223.84 335.98 L223.97 335.89 L224.11 335.79 L224.25 335.68 L224.39 335.57 L224.52 335.45 L224.66 335.33 L224.8 335.2 L224.93 335.07 L225.07 334.93 L225.21 334.78 L225.35 334.63 L225.48 334.48 L225.62 334.32 L225.76 334.15 L225.89 333.98 L226.03 333.81 L226.17 333.63 L226.31 333.44 L226.44 333.25 L226.58 333.05 L226.72 332.85 L226.85 332.65 L226.99 332.44 L227.13 332.23 L227.27 332.01 L227.4 331.79 L227.54 331.56 L227.68 331.33 L227.81 331.09 L227.95 330.86 L228.09 330.61 L228.23 330.37 L228.36 330.12 L228.5 329.86 L228.64 329.6 L228.77 329.34 L228.91 329.08 L229.05 328.81 L229.19 328.54 L229.32 328.27 L229.46 327.99 L229.6 327.71 L229.73 327.43 L229.87 327.14 L230.01 326.86 L230.15 326.57 L230.28 326.28 L230.42 325.98 L230.56 325.68 L230.69 325.39 L230.83 325.09 L230.97 324.78 L231.11 324.48 L231.24 324.17 L231.38 323.87 L231.52 323.56 L231.65 323.25 L231.79 322.94 L231.93 322.63 L232.07 322.31 L232.2 322 L232.34 321.69 L232.48 321.37 L232.61 321.06 L232.75 320.74 L232.89 320.43 L233.03 320.11 L233.16 319.79 L233.3 319.48" stroke="#a06c76" stroke-width="0.8" fill="none" stroke-linejoin="round" opacity="1.0"/>
<path d="M27.6 317.67 L27.74 317.54 L27.87 317.42 L28.01 317.3 L28.15 317.18 L28.29 317.06 L28.42 316.95 L28.56 316.83 L28.7 316.71 L28.83 316.59 L28.97 316.48 L29.11 316.36 L29.25 316.25 L29.38 316.13 L29.52 316.02 L29.66 315.91 L29.79 315.79 L29.93 315.68 L30.07 315.57 L30.21 315.46 L30.34 315.36 L30.48 315.25 L30.62 315.14 L30.75 315.04 L30.89 314.93 L31.03 314.83 L31.17 314.73 L31.3 314.63 L31.44 314.53 L31.58 314.43 L31.71 314.34 L31.85 314.24 L31.99 314.15 L32.13 314.05 L32.26 313.96 L32.4 313.87 L32.54 313.78 L32.67 313.7 L32.81 313.61 L32.95 313.53 L33.09 313.44 L33.22 313.36 L33.36 313.28 L33.5 313.21 L33.63 313.13 L33.77 313.06 L33.91 312.98 L34.05 312.91 L34.18 312.84 L34.32 312.77 L34.46 312.71 L34.59 312.64 L34.73 312.58 L34.87 312.52 L35.01 312.46 L35.14 312.4 L35.28 312.35 L35.42 312.3 L35.55 312.24 L35.69 312.2 L35.83 312.15 L35.97 312.1 L36.1 312.06 L36.24 312.02 L36.38 311.98 L36.51 311.94 L36.65 311.9 L36.79 311.87 L36.93 311.84 L37.06 311.81 L37.2 311.78 L37.34 311.75 L37.47 311.73 L37.61 311.71 L37.75 311.69 L37.89 311.67 L38.02 311.65 L38.16 311.64 L38.3 311.63 L38.43 311.62 L38.57 311.61 L38.71 311.6 L38.84 311.6 L38.98 311.6 L39.12 311.6 L39.26 311.6 L39.39 311.6 L39.53 311.61 L39.67 311.61 L39.8 311.61 L39.94 311.62 L40.08 311.62 L40.22 311.63 L40.35 311.64 L40.49 311.64 L40.63 311.65 L40.76 311.66 L40.9 311.67 L41.04 311.68 L41.18 311.69 L41.31 311.7 L41.45 311.72 L41.59 311.73 L41.72 311.74 L41.86 311.76 L42 311.77 L42.14 311.79 L42.27 311.81 L42.41 311.83 L42.55 311.84 L42.68 311.86 L42.82 311.88 L42.96 311.9 L43.1 311.92 L43.23 311.95 L43.37 311.97 L43.51 311.99 L43.64 312.02 L43.78 312.04 L43.92 312.07 L44.06 312.09 L44.19 312.12 L44.33 312.15 L44.47 312.17 L44.6 312.2 L44.74 312.23 L44.88 312.26 L45.02 312.29 L45.15 312.33 L45.29 312.36 L45.43 312.39 L45.56 312.42 L45.7 312.46 L45.84 312.49 L45.98 312.53 L46.11 312.56 L46.25 312.6 L46.39 312.64 L46.52 312.68 L46.66 312.71 L46.8 312.75 L46.94 312.79 L47.07 312.83 L47.21 312.87 L47.35 312.92 L47.48 312.96 L47.62 313 L47.76 313.04 L47.9 313.09 L48.03 313.13 L48.17 313.18 L48.31 313.22 L48.44 313.27 L48.58 313.32 L48.72 313.36 L48.86 313.41 L48.99 313.46 L49.13 313.51 L49.27 313.56 L49.4 313.61 L49.54 313.66 L49.68 313.71 L49.82 313.76 L49.95 313.82 L50.09 313.87 L50.23 313.92 L50.36 313.97 L50.5 314.03 L50.64 314.08 L50.78 314.14 L50.91 314.19 L51.05 314.25 L51.19 314.31 L51.32 314.36 L51.46 314.42 L51.6 314.48 L51.74 314.54 L51.87 314.6 L52.01 314.66 L52.15 314.72 L52.28 314.78 L52.42 314.84 L52.56 314.9 L52.7 314.96 L52.83 315.02 L52.97 315.08 L53.11 315.15 L53.24 315.21 L53.38 315.27 L53.52 315.34 L53.66 315.4 L53.79 315.46 L53.93 315.53 L54.07 315.59 L54.2 315.66 L54.34 315.72 L54.48 315.79 L54.62 315.86 L54.75 315.92 L54.89 315.99 L55.03 316.06 L55.16 316.13 L55.3 316.19 L55.44 316.26 L55.58 316.33 L55.71 316.4 L55.85 316.47 L55.99 316.54 L56.12 316.61 L56.26 316.68 L56.4 316.74 L56.54 316.81 L56.67 316.89 L56.81 316.96 L56.95 317.03 L57.08 317.1 L57.22 317.17 L57.36 317.24 L57.5 317.31 L57.63 317.38 L57.77 317.45 L57.91 317.53 L58.04 317.6 L58.18 317.67 L58.32 317.74 L58.45 317.81 L58.59 317.89 L58.73 317.96 L58.87 318.03 L59 318.1 L59.14 318.18 L59.28 318.25 L59.41 318.32 L59.55 318.39 L59.69 318.47 L59.83 318.54 L59.96 318.61 L60.1 318.69 L60.24 318.76 L60.37 318.83 L60.51 318.91 L60.65 318.98 L60.79 319.05 L60.92 319.13 L61.06 319.2 L61.2 319.27 L61.33 319.34 L61.47 319.42 L61.61 319.49 L61.75 319.56 L61.88 319.64 L62.02 319.71 L62.16 319.78 L62.29 319.85 L62.43 319.93 L62.57 320 L62.71 320.07 L62.84 320.14 L62.98 320.22 L63.12 320.29 L63.25 320.36 L63.39 320.43 L63.53 320.5 L63.67 320.57 L63.8 320.64 L63.94 320.72 L64.08 320.79 L64.21 320.86 L64.35 320.93 L64.49 321 L64.63 321.07 L64.76 321.14 L64.9 321.21 L65.04 321.28 L65.17 321.34 L65.31 321.41 L65.45 321.48 L65.59 321.55 L65.72 321.62 L65.86 321.69 L66 321.75 L66.13 321.82 L66.27 321.89 L66.41 321.95 L66.55 322.02 L66.68 322.09 L66.82 322.15 L66.96 322.22 L67.09 322.28 L67.23 322.35 L67.37 322.41 L67.51 322.48 L67.64 322.54 L67.78 322.6 L67.92 322.67 L68.05 322.73 L68.19 322.79 L68.33 322.85 L68.47 322.91 L68.6 322.97 L68.74 323.03 L68.88 323.09 L69.01 323.15 L69.15 323.21 L69.29 323.27 L69.43 323.33 L69.56 323.39 L69.7 323.45 L69.84 323.5 L69.97 323.56 L70.11 323.62 L70.25 323.67 L70.39 323.73 L70.52 323.78 L70.66 323.83 L70.8 323.89 L70.93 323.94 L71.07 323.99 L71.21 324.05 L71.35 324.1 L71.48 324.15 L71.62 324.2 L71.76 324.25 L71.89 324.3 L72.03 324.35 L72.17 324.4 L72.31 324.44 L72.44 324.49 L72.58 324.54 L72.72 324.58 L72.85 324.63 L72.99 324.68 L73.13 324.72 L73.27 324.76 L73.4 324.81 L73.54 324.85 L73.68 324.89 L73.81 324.93 L73.95 324.97 L74.09 325.01 L74.23 325.05 L74.36 325.09 L74.5 325.13 L74.64 325.17 L74.77 325.21 L74.91 325.24 L75.05 325.28 L75.19 325.31 L75.32 325.35 L75.46 325.38 L75.6 325.42 L75.73 325.45 L75.87 325.48 L76.01 325.51 L76.15 325.54 L76.28 325.57 L76.42 325.6 L76.56 325.63 L76.69 325.66 L76.83 325.69 L76.97 325.71 L77.11 325.74 L77.24 325.76 L77.38 325.79 L77.52 325.81 L77.65 325.84 L77.79 325.86 L77.93 325.88 L78.07 325.9 L78.2 325.92 L78.34 325.94 L78.48 325.96 L78.61 325.98 L78.75 326 L78.89 326.01 L79.03 326.03 L79.16 326.04 L79.3 326.06 L79.44 326.07 L79.57 326.09 L79.71 326.1 L79.85 326.11 L79.98 326.12 L80.12 326.13 L80.26 326.14 L80.4 326.15 L80.53 326.16 L80.67 326.17 L80.81 326.17 L80.94 326.18 L81.08 326.18 L81.22 326.19 L81.36 326.19 L81.49 326.2 L81.63 326.2 L81.77 326.2 L81.9 326.2 L82.04 326.2 L82.18 326.2 L82.32 326.19 L82.45 326.19 L82.59 326.18 L82.73 326.17 L82.86 326.16 L83 326.14 L83.14 326.13 L83.28 326.11 L83.41 326.09 L83.55 326.07 L83.69 326.04 L83.82 326.02 L83.96 325.99 L84.1 325.96 L84.24 325.93 L84.37 325.89 L84.51 325.86 L84.65 325.82 L84.78 325.78 L84.92 325.73 L85.06 325.69 L85.2 325.64 L85.33 325.6 L85.47 325.55 L85.61 325.49 L85.74 325.44 L85.88 325.39 L86.02 325.33 L86.16 325.27 L86.29 325.21 L86.43 325.14 L86.57 325.08 L86.7 325.01 L86.84 324.95 L86.98 324.88 L87.12 324.8 L87.25 324.73 L87.39 324.66 L87.53 324.58 L87.66 324.5 L87.8 324.42 L87.94 324.34 L88.08 324.26 L88.21 324.17 L88.35 324.09 L88.49 324 L88.62 323.91 L88.76 323.82 L88.9 323.73 L89.04 323.64 L89.17 323.54 L89.31 323.45 L89.45 323.35 L89.58 323.25 L89.72 323.15 L89.86 323.05 L90 322.95 L90.13 322.85 L90.27 322.74 L90.41 322.64 L90.54 322.53 L90.68 322.43 L90.82 322.32 L90.96 322.21 L91.09 322.1 L91.23 321.99 L91.37 321.88 L91.5 321.76 L91.64 321.65 L91.78 321.53 L91.92 321.42 L92.05 321.3 L92.19 321.19 L92.33 321.07 L92.46 320.95 L92.6 320.83 L92.74 320.72 L92.88 320.6 L93.01 320.48 L93.15 320.36 L93.29 320.23 L93.42 320.11 L93.56 319.99 L93.7 319.87 L93.84 319.75 L93.97 319.63 L94.11 319.5 L94.25 319.38 L94.38 319.26 L94.52 319.14 L94.66 319.01 L94.8 318.89 L94.93 318.77 L95.07 318.64 L95.21 318.52 L95.34 318.4 L95.48 318.27 L95.62 318.15 L95.76 318.03 L95.89 317.91 L96.03 317.79 L96.17 317.67 L96.3 317.54 L96.44 317.42 L96.58 317.3 L96.72 317.18 L96.85 317.06 L96.99 316.95 L97.13 316.83 L97.26 316.71 L97.4 316.59 L97.54 316.48 L97.68 316.36 L97.81 316.25 L97.95 316.13 L98.09 316.02 L98.22 315.91 L98.36 315.79 L98.5 315.68 L98.64 315.57 L98.77 315.46 L98.91 315.36 L99.05 315.25 L99.18 315.14 L99.32 315.04 L99.46 314.93 L99.59 314.83 L99.73 314.73 L99.87 314.63 L100.01 314.53 L100.14 314.43 L100.28 314.34 L100.42 314.24 L100.55 314.15 L100.69 314.05 L100.83 313.96 L100.97 313.87 L101.1 313.78 L101.24 313.7 L101.38 313.61 L101.51 313.53 L101.65 313.44 L101.79 313.36 L101.93 313.28 L102.06 313.21 L102.2 313.13 L102.34 313.06 L102.47 312.98 L102.61 312.91 L102.75 312.84 L102.89 312.77 L103.02 312.71 L103.16 312.64 L103.3 312.58 L103.43 312.52 L103.57 312.46 L103.71 312.4 L103.85 312.35 L103.98 312.3 L104.12 312.24 L104.26 312.2 L104.39 312.15 L104.53 312.1 L104.67 312.06 L104.81 312.02 L104.94 311.98 L105.08 311.94 L105.22 311.9 L105.35 311.87 L105.49 311.84 L105.63 311.81 L105.77 311.78 L105.9 311.75 L106.04 311.73 L106.18 311.71 L106.31 311.69 L106.45 311.67 L106.59 311.65 L106.73 311.64 L106.86 311.63 L107 311.62 L107.14 311.61 L107.27 311.6 L107.41 311.6 L107.55 311.6 L107.69 311.6 L107.82 311.6 L107.96 311.6 L108.1 311.61 L108.23 311.61 L108.37 311.61 L108.51 311.62 L108.65 311.62 L108.78 311.63 L108.92 311.64 L109.06 311.64 L109.19 311.65 L109.33 311.66 L109.47 311.67 L109.61 311.68 L109.74 311.69 L109.88 311.7 L110.02 311.72 L110.15 311.73 L110.29 311.74 L110.43 311.76 L110.57 311.77 L110.7 311.79 L110.84 311.81 L110.98 311.83 L111.11 311.84 L111.25 311.86 L111.39 311.88 L111.53 311.9 L111.66 311.92 L111.8 311.95 L111.94 311.97 L112.07 311.99 L112.21 312.02 L112.35 312.04 L112.49 312.07 L112.62 312.09 L112.76 312.12 L112.9 312.15 L113.03 312.17 L113.17 312.2 L113.31 312.23 L113.45 312.26 L113.58 312.29 L113.72 312.33 L113.86 312.36 L113.99 312.39 L114.13 312.42 L114.27 312.46 L114.41 312.49 L114.54 312.53 L114.68 312.56 L114.82 312.6 L114.95 312.64 L115.09 312.68 L115.23 312.71 L115.37 312.75 L115.5 312.79 L115.64 312.83 L115.78 312.87 L115.91 312.92 L116.05 312.96 L116.19 313 L116.33 313.04 L116.46 313.09 L116.6 313.13 L116.74 313.18 L116.87 313.22 L117.01 313.27 L117.15 313.32 L117.29 313.36 L117.42 313.41 L117.56 313.46 L117.7 313.51 L117.83 313.56 L117.97 313.61 L118.11 313.66 L118.25 313.71 L118.38 313.76 L118.52 313.82 L118.66 313.87 L118.79 313.92 L118.93 313.97 L119.07 314.03 L119.21 314.08 L119.34 314.14 L119.48 314.19 L119.62 314.25 L119.75 314.31 L119.89 314.36 L120.03 314.42 L120.17 314.48 L120.3 314.54 L120.44 314.6 L120.58 314.66 L120.71 314.72 L120.85 314.78 L120.99 314.84 L121.12 314.9 L121.26 314.96 L121.4 315.02 L121.54 315.08 L121.67 315.15 L121.81 315.21 L121.95 315.27 L122.08 315.34 L122.22 315.4 L122.36 315.46 L122.5 315.53 L122.63 315.59 L122.77 315.66 L122.91 315.72 L123.04 315.79 L123.18 315.86 L123.32 315.92 L123.46 315.99 L123.59 316.06 L123.73 316.13 L123.87 316.19 L124 316.26 L124.14 316.33 L124.28 316.4 L124.42 316.47 L124.55 316.54 L124.69 316.61 L124.83 316.68 L124.96 316.74 L125.1 316.81 L125.24 316.89 L125.38 316.96 L125.51 317.03 L125.65 317.1 L125.79 317.17 L125.92 317.24 L126.06 317.31 L126.2 317.38 L126.34 317.45 L126.47 317.53 L126.61 317.6 L126.75 317.67 L126.88 317.74 L127.02 317.81 L127.16 317.89 L127.3 317.96 L127.43 318.03 L127.57 318.1 L127.71 318.18 L127.84 318.25 L127.98 318.32 L128.12 318.39 L128.26 318.47 L128.39 318.54 L128.53 318.61 L128.67 318.69 L128.8 318.76 L128.94 318.83 L129.08 318.91 L129.22 318.98 L129.35 319.05 L129.49 319.13 L129.63 319.2 L129.76 319.27 L129.9 319.34 L130.04 319.42 L130.18 319.49 L130.31 319.56 L130.45 319.64 L130.59 319.71 L130.72 319.78 L130.86 319.85 L131 319.93 L131.14 320 L131.27 320.07 L131.41 320.14 L131.55 320.22 L131.68 320.29 L131.82 320.36 L131.96 320.43 L132.1 320.5 L132.23 320.57 L132.37 320.64 L132.51 320.72 L132.64 320.79 L132.78 320.86 L132.92 320.93 L133.06 321 L133.19 321.07 L133.33 321.14 L133.47 321.21 L133.6 321.28 L133.74 321.34 L133.88 321.41 L134.02 321.48 L134.15 321.55 L134.29 321.62 L134.43 321.69 L134.56 321.75 L134.7 321.82 L134.84 321.89 L134.98 321.95 L135.11 322.02 L135.25 322.09 L135.39 322.15 L135.52 322.22 L135.66 322.28 L135.8 322.35 L135.94 322.41 L136.07 322.48 L136.21 322.54 L136.35 322.6 L136.48 322.67 L136.62 322.73 L136.76 322.79 L136.9 322.85 L137.03 322.91 L137.17 322.97 L137.31 323.03 L137.44 323.09 L137.58 323.15 L137.72 323.21 L137.86 323.27 L137.99 323.33 L138.13 323.39 L138.27 323.45 L138.4 323.5 L138.54 323.56 L138.68 323.62 L138.82 323.67 L138.95 323.73 L139.09 323.78 L139.23 323.83 L139.36 323.89 L139.5 323.94 L139.64 323.99 L139.78 324.05 L139.91 324.1 L140.05 324.15 L140.19 324.2 L140.32 324.25 L140.46 324.3 L140.6 324.35 L140.74 324.4 L140.87 324.44 L141.01 324.49 L141.15 324.54 L141.28 324.58 L141.42 324.63 L141.56 324.68 L141.69 324.72 L141.83 324.76 L141.97 324.81 L142.11 324.85 L142.24 324.89 L142.38 324.93 L142.52 324.97 L142.65 325.01 L142.79 325.05 L142.93 325.09 L143.07 325.13 L143.2 325.17 L143.34 325.21 L143.48 325.24 L143.61 325.28 L143.75 325.31 L143.89 325.35 L144.03 325.38 L144.16 325.42 L144.3 325.45 L144.44 325.48 L144.57 325.51 L144.71 325.54 L144.85 325.57 L144.99 325.6 L145.12 325.63 L145.26 325.66 L145.4 325.69 L145.53 325.71 L145.67 325.74 L145.81 325.76 L145.95 325.79 L146.08 325.81 L146.22 325.84 L146.36 325.86 L146.49 325.88 L146.63 325.9 L146.77 325.92 L146.91 325.94 L147.04 325.96 L147.18 325.98 L147.32 326 L147.45 326.01 L147.59 326.03 L147.73 326.04 L147.87 326.06 L148 326.07 L148.14 326.09 L148.28 326.1 L148.41 326.11 L148.55 326.12 L148.69 326.13 L148.83 326.14 L148.96 326.15 L149.1 326.16 L149.24 326.17 L149.37 326.17 L149.51 326.18 L149.65 326.18 L149.79 326.19 L149.92 326.19 L150.06 326.2 L150.2 326.2 L150.33 326.2 L150.47 326.2 L150.61 326.2 L150.75 326.2 L150.88 326.19 L151.02 326.19 L151.16 326.18 L151.29 326.17 L151.43 326.16 L151.57 326.14 L151.71 326.13 L151.84 326.11 L151.98 326.09 L152.12 326.07 L152.25 326.04 L152.39 326.02 L152.53 325.99 L152.67 325.96 L152.8 325.93 L152.94 325.89 L153.08 325.86 L153.21 325.82 L153.35 325.78 L153.49 325.73 L153.63 325.69 L153.76 325.64 L153.9 325.6 L154.04 325.55 L154.17 325.49 L154.31 325.44 L154.45 325.39 L154.59 325.33 L154.72 325.27 L154.86 325.21 L155 325.14 L155.13 325.08 L155.27 325.01 L155.41 324.95 L155.55 324.88 L155.68 324.8 L155.82 324.73 L155.96 324.66 L156.09 324.58 L156.23 324.5 L156.37 324.42 L156.51 324.34 L156.64 324.26 L156.78 324.17 L156.92 324.09 L157.05 324 L157.19 323.91 L157.33 323.82 L157.47 323.73 L157.6 323.64 L157.74 323.54 L157.88 323.45 L158.01 323.35 L158.15 323.25 L158.29 323.15 L158.43 323.05 L158.56 322.95 L158.7 322.85 L158.84 322.74 L158.97 322.64 L159.11 322.53 L159.25 322.43 L159.39 322.32 L159.52 322.21 L159.66 322.1 L159.8 321.99 L159.93 321.88 L160.07 321.76 L160.21 321.65 L160.35 321.53 L160.48 321.42 L160.62 321.3 L160.76 321.19 L160.89 321.07 L161.03 320.95 L161.17 320.83 L161.31 320.72 L161.44 320.6 L161.58 320.48 L161.72 320.36 L161.85 320.23 L161.99 320.11 L162.13 319.99 L162.26 319.87 L162.4 319.75 L162.54 319.63 L162.68 319.5 L162.81 319.38 L162.95 319.26 L163.09 319.14 L163.22 319.01 L163.36 318.89 L163.5 318.77 L163.64 318.64 L163.77 318.52 L163.91 318.4 L164.05 318.27 L164.18 318.15 L164.32 318.03 L164.46 317.91 L164.6 317.79 L164.73 317.67 L164.87 317.54 L165.01 317.42 L165.14 317.3 L165.28 317.18 L165.42 317.06 L165.56 316.95 L165.69 316.83 L165.83 316.71 L165.97 316.59 L166.1 316.48 L166.24 316.36 L166.38 316.25 L166.52 316.13 L166.65 316.02 L166.79 315.91 L166.93 315.79 L167.06 315.68 L167.2 315.57 L167.34 315.46 L167.48 315.36 L167.61 315.25 L167.75 315.14 L167.89 315.04 L168.02 314.93 L168.16 314.83 L168.3 314.73 L168.44 314.63 L168.57 314.53 L168.71 314.43 L168.85 314.34 L168.98 314.24 L169.12 314.15 L169.26 314.05 L169.4 313.96 L169.53 313.87 L169.67 313.78 L169.81 313.7 L169.94 313.61 L170.08 313.53 L170.22 313.44 L170.36 313.36 L170.49 313.28 L170.63 313.21 L170.77 313.13 L170.9 313.06 L171.04 312.98 L171.18 312.91 L171.32 312.84 L171.45 312.77 L171.59 312.71 L171.73 312.64 L171.86 312.58 L172 312.52 L172.14 312.46 L172.28 312.4 L172.41 312.35 L172.55 312.3 L172.69 312.24 L172.82 312.2 L172.96 312.15 L173.1 312.1 L173.24 312.06 L173.37 312.02 L173.51 311.98 L173.65 311.94 L173.78 311.9 L173.92 311.87 L174.06 311.84 L174.2 311.81 L174.33 311.78 L174.47 311.75 L174.61 311.73 L174.74 311.71 L174.88 311.69 L175.02 311.67 L175.16 311.65 L175.29 311.64 L175.43 311.63 L175.57 311.62 L175.7 311.61 L175.84 311.6 L175.98 311.6 L176.12 311.6 L176.25 311.6 L176.39 311.6 L176.53 311.6 L176.66 311.61 L176.8 311.61 L176.94 311.61 L177.08 311.62 L177.21 311.62 L177.35 311.63 L177.49 311.64 L177.62 311.64 L177.76 311.65 L177.9 311.66 L178.04 311.67 L178.17 311.68 L178.31 311.69 L178.45 311.7 L178.58 311.72 L178.72 311.73 L178.86 311.74 L179 311.76 L179.13 311.77 L179.27 311.79 L179.41 311.81 L179.54 311.83 L179.68 311.84 L179.82 311.86 L179.96 311.88 L180.09 311.9 L180.23 311.92 L180.37 311.95 L180.5 311.97 L180.64 311.99 L180.78 312.02 L180.92 312.04 L181.05 312.07 L181.19 312.09 L181.33 312.12 L181.46 312.15 L181.6 312.17 L181.74 312.2 L181.88 312.23 L182.01 312.26 L182.15 312.29 L182.29 312.33 L182.42 312.36 L182.56 312.39 L182.7 312.42 L182.83 312.46 L182.97 312.49 L183.11 312.53 L183.25 312.56 L183.38 312.6 L183.52 312.64 L183.66 312.68 L183.79 312.71 L183.93 312.75 L184.07 312.79 L184.21 312.83 L184.34 312.87 L184.48 312.92 L184.62 312.96 L184.75 313 L184.89 313.04 L185.03 313.09 L185.17 313.13 L185.3 313.18 L185.44 313.22 L185.58 313.27 L185.71 313.32 L185.85 313.36 L185.99 313.41 L186.13 313.46 L186.26 313.51 L186.4 313.56 L186.54 313.61 L186.67 313.66 L186.81 313.71 L186.95 313.76 L187.09 313.82 L187.22 313.87 L187.36 313.92 L187.5 313.97 L187.63 314.03 L187.77 314.08 L187.91 314.14 L188.05 314.19 L188.18 314.25 L188.32 314.31 L188.46 314.36 L188.59 314.42 L188.73 314.48 L188.87 314.54 L189.01 314.6 L189.14 314.66 L189.28 314.72 L189.42 314.78 L189.55 314.84 L189.69 314.9 L189.83 314.96 L189.97 315.02 L190.1 315.08 L190.24 315.15 L190.38 315.21 L190.51 315.27 L190.65 315.34 L190.79 315.4 L190.93 315.46 L191.06 315.53 L191.2 315.59 L191.34 315.66 L191.47 315.72 L191.61 315.79 L191.75 315.86 L191.89 315.92 L192.02 315.99 L192.16 316.06 L192.3 316.13 L192.43 316.19 L192.57 316.26 L192.71 316.33 L192.85 316.4 L192.98 316.47 L193.12 316.54 L193.26 316.61 L193.39 316.68 L193.53 316.74 L193.67 316.81 L193.81 316.89 L193.94 316.96 L194.08 317.03 L194.22 317.1 L194.35 317.17 L194.49 317.24 L194.63 317.31 L194.77 317.38 L194.9 317.45 L195.04 317.53 L195.18 317.6 L195.31 317.67 L195.45 317.74 L195.59 317.81 L195.73 317.89 L195.86 317.96 L196 318.03 L196.14 318.1 L196.27 318.18 L196.41 318.25 L196.55 318.32 L196.69 318.39 L196.82 318.47 L196.96 318.54 L197.1 318.61 L197.23 318.69 L197.37 318.76 L197.51 318.83 L197.65 318.91 L197.78 318.98 L197.92 319.05 L198.06 319.13 L198.19 319.2 L198.33 319.27 L198.47 319.34 L198.61 319.42 L198.74 319.49 L198.88 319.56 L199.02 319.64 L199.15 319.71 L199.29 319.78 L199.43 319.85 L199.57 319.93 L199.7 320 L199.84 320.07 L199.98 320.14 L200.11 320.22 L200.25 320.29 L200.39 320.36 L200.53 320.43 L200.66 320.5 L200.8 320.57 L200.94 320.64 L201.07 320.72 L201.21 320.79 L201.35 320.86 L201.49 320.93 L201.62 321 L201.76 321.07 L201.9 321.14 L202.03 321.21 L202.17 321.28 L202.31 321.34 L202.44 321.41 L202.58 321.48 L202.72 321.55 L202.86 321.62 L202.99 321.69 L203.13 321.75 L203.27 321.82 L203.4 321.89 L203.54 321.95 L203.68 322.02 L203.82 322.09 L203.95 322.15 L204.09 322.22 L204.23 322.28 L204.36 322.35 L204.5 322.41 L204.64 322.48 L204.78 322.54 L204.91 322.6 L205.05 322.67 L205.19 322.73 L205.32 322.79 L205.46 322.85 L205.6 322.91 L205.74 322.97 L205.87 323.03 L206.01 323.09 L206.15 323.15 L206.28 323.21 L206.42 323.27 L206.56 323.33 L206.7 323.39 L206.83 323.45 L206.97 323.5 L207.11 323.56 L207.24 323.62 L207.38 323.67 L207.52 323.73 L207.66 323.78 L207.79 323.83 L207.93 323.89 L208.07 323.94 L208.2 323.99 L208.34 324.05 L208.48 324.1 L208.62 324.15 L208.75 324.2 L208.89 324.25 L209.03 324.3 L209.16 324.35 L209.3 324.4 L209.44 324.44 L209.58 324.49 L209.71 324.54 L209.85 324.58 L209.99 324.63 L210.12 324.68 L210.26 324.72 L210.4 324.76 L210.54 324.81 L210.67 324.85 L210.81 324.89 L210.95 324.93 L211.08 324.97 L211.22 325.01 L211.36 325.05 L211.5 325.09 L211.63 325.13 L211.77 325.17 L211.91 325.21 L212.04 325.24 L212.18 325.28 L212.32 325.31 L212.46 325.35 L212.59 325.38 L212.73 325.42 L212.87 325.45 L213 325.48 L213.14 325.51 L213.28 325.54 L213.42 325.57 L213.55 325.6 L213.69 325.63 L213.83 325.66 L213.96 325.69 L214.1 325.71 L214.24 325.74 L214.38 325.76 L214.51 325.79 L214.65 325.81 L214.79 325.84 L214.92 325.86 L215.06 325.88 L215.2 325.9 L215.34 325.92 L215.47 325.94 L215.61 325.96 L215.75 325.98 L215.88 326 L216.02 326.01 L216.16 326.03 L216.3 326.04 L216.43 326.06 L216.57 326.07 L216.71 326.09 L216.84 326.1 L216.98 326.11 L217.12 326.12 L217.26 326.13 L217.39 326.14 L217.53 326.15 L217.67 326.16 L217.8 326.17 L217.94 326.17 L218.08 326.18 L218.22 326.18 L218.35 326.19 L218.49 326.19 L218.63 326.2 L218.76 326.2 L218.9 326.2 L219.04 326.2 L219.18 326.2 L219.31 326.2 L219.45 326.19 L219.59 326.19 L219.72 326.18 L219.86 326.17 L220 326.16 L220.14 326.14 L220.27 326.13 L220.41 326.11 L220.55 326.09 L220.68 326.07 L220.82 326.04 L220.96 326.02 L221.1 325.99 L221.23 325.96 L221.37 325.93 L221.51 325.89 L221.64 325.86 L221.78 325.82 L221.92 325.78 L222.06 325.73 L222.19 325.69 L222.33 325.64 L222.47 325.6 L222.6 325.55 L222.74 325.49 L222.88 325.44 L223.02 325.39 L223.15 325.33 L223.29 325.27 L223.43 325.21 L223.56 325.14 L223.7 325.08 L223.84 325.01 L223.97 324.95 L224.11 324.88 L224.25 324.8 L224.39 324.73 L224.52 324.66 L224.66 324.58 L224.8 324.5 L224.93 324.42 L225.07 324.34 L225.21 324.26 L225.35 324.17 L225.48 324.09 L225.62 324 L225.76 323.91 L225.89 323.82 L226.03 323.73 L226.17 323.64 L226.31 323.54 L226.44 323.45 L226.58 323.35 L226.72 323.25 L226.85 323.15 L226.99 323.05 L227.13 322.95 L227.27 322.85 L227.4 322.74 L227.54 322.64 L227.68 322.53 L227.81 322.43 L227.95 322.32 L228.09 322.21 L228.23 322.1 L228.36 321.99 L228.5 321.88 L228.64 321.76 L228.77 321.65 L228.91 321.53 L229.05 321.42 L229.19 321.3 L229.32 321.19 L229.46 321.07 L229.6 320.95 L229.73 320.83 L229.87 320.72 L230.01 320.6 L230.15 320.48 L230.28 320.36 L230.42 320.23 L230.56 320.11 L230.69 319.99 L230.83 319.87 L230.97 319.75 L231.11 319.63 L231.24 319.5 L231.38 319.38 L231.52 319.26 L231.65 319.14 L231.79 319.01 L231.93 318.89 L232.07 318.77 L232.2 318.64 L232.34 318.52 L232.48 318.4 L232.61 318.27 L232.75 318.15 L232.89 318.03 L233.03 317.91 L233.16 317.79 L233.3 317.67" stroke="#6e6890" stroke-width="0.85" fill="none" stroke-linejoin="round" opacity="1.0"/>
<path d="M27.6 385.6v-2.0M27.6 237.1v2.0M68.74 385.6v-2.0M68.74 237.1v2.0M109.88 385.6v-2.0M109.88 237.1v2.0M151.02 385.6v-2.0M151.02 237.1v2.0M192.16 385.6v-2.0M192.16 237.1v2.0M233.3 385.6v-2.0M233.3 237.1v2.0M27.6 381.84h2.0M233.3 381.84h-2.0M27.6 361.16h2.0M233.3 361.16h-2.0M27.6 340.48h2.0M233.3 340.48h-2.0M27.6 319.8h2.0M233.3 319.8h-2.0M27.6 299.12h2.0M233.3 299.12h-2.0M27.6 278.44h2.0M233.3 278.44h-2.0M27.6 257.76h2.0M233.3 257.76h-2.0M27.6 237.08h2.0M233.3 237.08h-2.0" stroke="#c8c8c8" stroke-width="0.8" fill="none"/>
<rect x="27.6" y="237.1" width="205.7" height="148.5" stroke="#c8c8c8" stroke-width="0.8" fill="none"/>
<text x="27.6" y="395.9" font-size="7.5" text-anchor="middle" fill="#262626" color="#262626">0</text>
<text x="68.74" y="395.9" font-size="7.5" text-anchor="middle" fill="#262626" color="#262626">0.2</text>
<text x="109.88" y="395.9" font-size="7.5" text-anchor="middle" fill="#262626" color="#262626">0.4</text>
<text x="151.02" y="395.9" font-size="7.5" text-anchor="middle" fill="#262626" color="#262626">0.6</text>
<text x="192.16" y="395.9" font-size="7.5" text-anchor="middle" fill="#262626" color="#262626">0.8</text>
<text x="233.3" y="395.9" font-size="7.5" text-anchor="middle" fill="#262626" color="#262626">1</text>
<text x="25.8" y="384.59" font-size="7.5" text-anchor="end" fill="#262626" color="#262626">-0.6</text>
<text x="25.8" y="363.91" font-size="7.5" text-anchor="end" fill="#262626" color="#262626">-0.4</text>
<text x="25.8" y="343.23" font-size="7.5" text-anchor="end" fill="#262626" color="#262626">-0.2</text>
<text x="25.8" y="322.55" font-size="7.5" text-anchor="end" fill="#262626" color="#262626">0</text>
<text x="25.8" y="301.87" font-size="7.5" text-anchor="end" fill="#262626" color="#262626">0.2</text>
<text x="25.8" y="281.19" font-size="7.5" text-anchor="end" fill="#262626" color="#262626">0.4</text>
<text x="25.8" y="260.51" font-size="7.5" text-anchor="end" fill="#262626" color="#262626">0.6</text>
<text x="25.8" y="239.83" font-size="7.5" text-anchor="end" fill="#262626" color="#262626">0.8</text>
<text x="130.5" y="405.3" font-size="8.25" text-anchor="middle" fill="#262626" color="#262626">Time [s]</text>
<text x="0" y="0" font-size="8.25" text-anchor="middle" fill="#262626" color="#262626" transform="translate(11.0 311.8) rotate(-90)">Voltage [V]</text>
<text x="2.4" y="216" font-size="13" text-anchor="start" fill="#000" color="#000" style="stroke-width:0">(c)</text>
<rect x="129.6" y="239.2" width="103.6" height="9.8" fill="#fff" stroke="#c8c8c8" stroke-width="0.7"/>
<path d="M130.2 244.2h6.0" stroke="#6e6890" stroke-width="0.8"/>
<text x="136.8" y="247" font-size="7.5" text-anchor="start" fill="#1a1a1a" color="#1a1a1a">3 Hz</text>
<path d="M153.6 244.2h6.0" stroke="#a06c76" stroke-width="0.8"/>
<text x="159.9" y="247" font-size="7.5" text-anchor="start" fill="#1a1a1a" color="#1a1a1a">6 Hz</text>
<path d="M177.2 244.2h6.0" stroke="#e2c8a4" stroke-width="0.8"/>
<text x="183.7" y="247" font-size="7.5" text-anchor="start" fill="#1a1a1a" color="#1a1a1a">12 Hz</text>
<path d="M204.6 244.2h6.0" stroke="#9a90b2" stroke-width="0.8"/>
<text x="210.8" y="247" font-size="7.5" text-anchor="start" fill="#1a1a1a" color="#1a1a1a">24 Hz</text>
<path d="M328.15 385.6v-2.0M328.15 237.1v2.0M375.01 385.6v-2.0M375.01 237.1v2.0M421.87 385.6v-2.0M421.87 237.1v2.0M468.74 385.6v-2.0M468.74 237.1v2.0M515.6 385.6v-2.0M515.6 237.1v2.0M309.4 385.6h2.0M515.6 385.6h-2.0M309.4 360.85h2.0M515.6 360.85h-2.0M309.4 336.1h2.0M515.6 336.1h-2.0M309.4 311.35h2.0M515.6 311.35h-2.0M309.4 286.6h2.0M515.6 286.6h-2.0M309.4 261.85h2.0M515.6 261.85h-2.0M309.4 237.1h2.0M515.6 237.1h-2.0" stroke="#c8c8c8" stroke-width="0.8" fill="none"/>
<rect x="309.4" y="237.1" width="206.2" height="148.5" stroke="#c8c8c8" stroke-width="0.8" fill="none"/>
<path d="M309.4 366.79 L337.52 345.5 L393.75 311.1 L506.23 242.55" stroke="#7a8ea2" stroke-width="1.0" fill="none" stroke-linejoin="round" opacity="1.0"/>
<rect x="307.2" y="364.59" width="4.4" height="4.4" fill="#ae1430"/>
<rect x="335.32" y="343.31" width="4.4" height="4.4" fill="#ae1430"/>
<rect x="391.55" y="308.9" width="4.4" height="4.4" fill="#ae1430"/>
<rect x="504.03" y="240.35" width="4.4" height="4.4" fill="#ae1430"/>
<text x="328.15" y="395.9" font-size="7.5" text-anchor="middle" fill="#262626" color="#262626">5</text>
<text x="375.01" y="395.9" font-size="7.5" text-anchor="middle" fill="#262626" color="#262626">10</text>
<text x="421.87" y="395.9" font-size="7.5" text-anchor="middle" fill="#262626" color="#262626">15</text>
<text x="468.74" y="395.9" font-size="7.5" text-anchor="middle" fill="#262626" color="#262626">20</text>
<text x="515.6" y="395.9" font-size="7.5" text-anchor="middle" fill="#262626" color="#262626">25</text>
<text x="307.3" y="389.9" font-size="7.5" text-anchor="end" fill="#262626" color="#262626">0</text>
<text x="307.3" y="364.15" font-size="7.5" text-anchor="end" fill="#262626" color="#262626">0.1</text>
<text x="307.3" y="339.4" font-size="7.5" text-anchor="end" fill="#262626" color="#262626">0.2</text>
<text x="307.3" y="314.65" font-size="7.5" text-anchor="end" fill="#262626" color="#262626">0.3</text>
<text x="307.3" y="289.9" font-size="7.5" text-anchor="end" fill="#262626" color="#262626">0.4</text>
<text x="307.3" y="265.15" font-size="7.5" text-anchor="end" fill="#262626" color="#262626">0.5</text>
<text x="307.3" y="240.4" font-size="7.5" text-anchor="end" fill="#262626" color="#262626">0.6</text>
<text x="412.5" y="404.9" font-size="8.25" text-anchor="middle" fill="#262626" color="#262626">Frequency [Hz]</text>
<text x="0" y="0" font-size="8.25" text-anchor="middle" fill="#262626" color="#262626" transform="translate(295.0 311.3) rotate(-90)">Voltage Amplitude [V]</text>
<text x="271.6" y="216" font-size="13" text-anchor="start" fill="#000" color="#000" style="stroke-width:0">(d)</text>
</svg>
</body></html>
